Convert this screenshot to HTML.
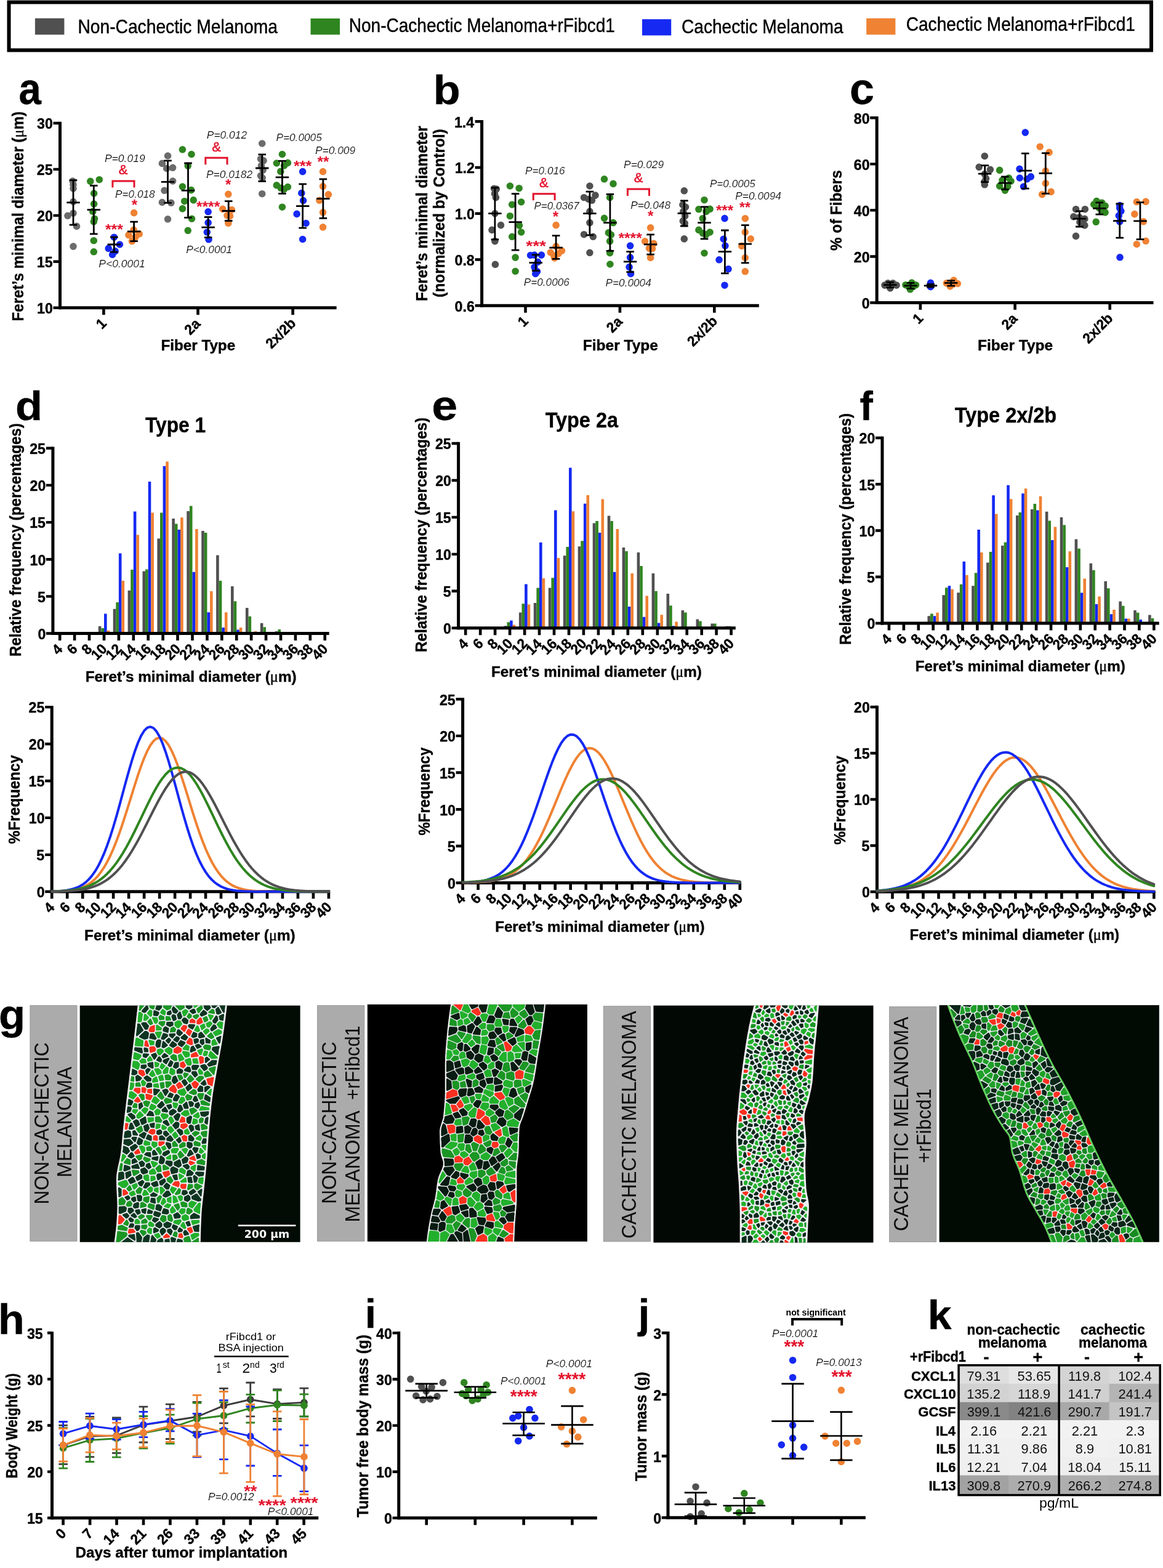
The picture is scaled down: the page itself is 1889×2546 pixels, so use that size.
<!DOCTYPE html>
<html lang="en">
<head>
<meta charset="utf-8">
<title>Figure: rFibcd1 in cachectic melanoma</title>
<style>
html,body{margin:0;padding:0;background:#fff;}
body{width:1889px;height:2546px;overflow:hidden;}
svg{display:block;font-family:"Liberation Sans",sans-serif;}
</style>
</head>
<body>
<svg width="1889" height="2546" viewBox="0 0 1889 2546" role="img" aria-label="Multi-panel figure: fiber diameter, frequency distributions, micrographs, body weight, tumor mass and cytokine table">
<rect width="1889" height="2546" fill="#fff"/>
<g id="legend">
<rect x="14.5" y="3.6" width="1855.5" height="77.9" fill="#fff" stroke="#000" stroke-width="6"/>
<rect x="56.9" y="29.7" width="47.5" height="26.6" fill="#505050"/>
<text transform="translate(126.4 53.9) scale(0.896 1)" font-size="31.5" stroke="#000" stroke-width="0.45">Non-Cachectic Melanoma</text>
<rect x="504.5" y="30" width="47.5" height="26.3" fill="#2f8520"/>
<text transform="translate(566.8 51.5) scale(0.890 1)" font-size="31.5" stroke="#000" stroke-width="0.45">Non-Cachectic Melanoma+rFibcd1</text>
<rect x="1043" y="31.2" width="47.2" height="26.3" fill="#1529f2"/>
<text transform="translate(1106.9 53.9) scale(0.894 1)" font-size="31.5" stroke="#000" stroke-width="0.45">Cachectic Melanoma</text>
<rect x="1407.2" y="29.7" width="47.2" height="26.6" fill="#ef8233"/>
<text transform="translate(1471.7 49.9) scale(0.892 1)" font-size="31.5" stroke="#000" stroke-width="0.45">Cachectic Melanoma+rFibcd1</text>
</g>
<g id="panel-a">
<path d="M118.1 294h0M119 299.9h0M119 306.2h0M119 327.5h0M119 346.2h0M109.9 350.3h0M124.5 367.4h0M119 400.1h0" stroke="#6b6b6b" stroke-width="11.6" stroke-linecap="round" fill="none"/>
<path d="M146.8 294.4h0M161.3 291.7h0M152.6 314h0M152.6 331.1h0M150.8 343.4h0M153.5 355.2h0M152.3 359.8h0M152.3 390.7h0M152.3 408.8h0" stroke="#2f8520" stroke-width="11.6" stroke-linecap="round" fill="none"/>
<path d="M185.3 385.2h0M194.4 397h0M176.2 403.4h0M187.1 407.9h0M182.6 413.4h0" stroke="#1529f2" stroke-width="11.6" stroke-linecap="round" fill="none"/>
<path d="M217.6 345.6h0M217.1 373.4h0M208.9 381.6h0M226.2 379.8h0M214.4 391.6h0M219.8 385.2h0" stroke="#ef8233" stroke-width="11.6" stroke-linecap="round" fill="none"/>
<path d="M272.5 253h0M263.4 265.4h0M280.6 272.3h0M270.7 273.5h0M280.6 294h0M267 309.3h0M263.4 328.5h0M277.9 329.3h0M272.5 355.8h0" stroke="#6b6b6b" stroke-width="11.6" stroke-linecap="round" fill="none"/>
<path d="M296.4 242.8h0M311 250.5h0M305.2 269.3h0M296.4 303.1h0M310.6 308.6h0M299.7 326.7h0M314.2 324.9h0M296.4 338.9h0M311.5 355.2h0M305.2 374.3h0" stroke="#2f8520" stroke-width="11.6" stroke-linecap="round" fill="none"/>
<path d="M338.1 343.8h0M338.1 361.6h0M336.3 377h0M339 388.8h0" stroke="#1529f2" stroke-width="11.6" stroke-linecap="round" fill="none"/>
<path d="M370.8 315.3h0M361.7 339.4h0M376.3 340.7h0M369 349.8h0M373.5 350.7h0M370.8 362.5h0" stroke="#ef8233" stroke-width="11.6" stroke-linecap="round" fill="none"/>
<path d="M425.7 233h0M423.5 258.1h0M428 260.8h0M424.4 269h0M427.1 276.2h0M423.5 285.3h0M426.2 289h0M425.7 314.7h0" stroke="#6b6b6b" stroke-width="11.6" stroke-linecap="round" fill="none"/>
<path d="M458.4 250.5h0M449.3 265h0M467.4 264.4h0M461.6 269h0M455.8 278.4h0M449.3 300.8h0M467.4 303.5h0M456.2 305.3h0M461.6 307.1h0M458.4 336.2h0" stroke="#2f8520" stroke-width="11.6" stroke-linecap="round" fill="none"/>
<path d="M491.6 278.6h0M489.8 313.5h0M492.5 325.6h0M482.1 347.4h0M497 362.5h0M491.6 388.5h0" stroke="#1529f2" stroke-width="11.6" stroke-linecap="round" fill="none"/>
<path d="M524.5 278.6h0M524.5 302.6h0M533.4 315.8h0M518.8 325.3h0M524.5 344.9h0M524.5 368.9h0" stroke="#ef8233" stroke-width="11.6" stroke-linecap="round" fill="none"/>
<path d="M119 292.6V365.2M112.7 292.6h12.6M112.7 365.2h12.6M108.3 328.9h21.4" stroke="#000" stroke-width="2.8" fill="none"/>
<path d="M152.3 301.3V379.8M146 301.3h12.6M146 379.8h12.6M141.6 340.7h21.4" stroke="#000" stroke-width="2.8" fill="none"/>
<path d="M185.3 385.2V409.2M179 385.2h12.6M179 409.2h12.6M174.6 397h21.4" stroke="#000" stroke-width="2.8" fill="none"/>
<path d="M217.6 360.1V391.7M211.3 360.1h12.6M211.3 391.7h12.6M206.9 375.8h21.4" stroke="#000" stroke-width="2.8" fill="none"/>
<path d="M272.5 260.8V329.3M266.2 260.8h12.6M266.2 329.3h12.6M261.8 295.3h21.4" stroke="#000" stroke-width="2.8" fill="none"/>
<path d="M305.5 265V353.4M299.2 265h12.6M299.2 353.4h12.6M294.8 309.3h21.4" stroke="#000" stroke-width="2.8" fill="none"/>
<path d="M338.1 352.5V385.6M331.8 352.5h12.6M331.8 385.6h12.6M327.4 369.2h21.4" stroke="#000" stroke-width="2.8" fill="none"/>
<path d="M371.2 326.7V358.5M364.9 326.7h12.6M364.9 358.5h12.6M360.5 342.5h21.4" stroke="#000" stroke-width="2.8" fill="none"/>
<path d="M425.7 250.8V294.4M419.4 250.8h12.6M419.4 294.4h12.6M415 273h21.4" stroke="#000" stroke-width="2.8" fill="none"/>
<path d="M458.4 261.4V314.4M452.1 261.4h12.6M452.1 314.4h12.6M447.7 287.9h21.4" stroke="#000" stroke-width="2.8" fill="none"/>
<path d="M491.6 298.9V370.1M485.3 298.9h12.6M485.3 370.1h12.6M480.9 334.7h21.4" stroke="#000" stroke-width="2.8" fill="none"/>
<path d="M524.8 290.8V354.3M518.5 290.8h12.6M518.5 354.3h12.6M514.1 322.7h21.4" stroke="#000" stroke-width="2.8" fill="none"/>
<text transform="translate(169.9 262.6) scale(1.031 1)" font-size="17" font-style="italic" stroke="#fff" stroke-width="0.22">P=0.019</text>
<text transform="translate(192.7 282.7)" font-size="22" fill="#e3132c" stroke="#e3132c" stroke-width="0.5">&amp;</text>
<path d="M182.9 304.4V294H218V304.4" stroke="#e3132c" stroke-width="3" fill="none"/>
<text transform="translate(187.1 321.3) scale(1.012 1)" font-size="17" font-style="italic" stroke="#fff" stroke-width="0.22">P=0.018</text>
<text transform="translate(213.7 341.4)" font-size="24" font-weight="bold" fill="#e3132c" stroke="none">*</text>
<text transform="translate(171 380.6) scale(1.031 1)" font-size="24" font-weight="bold" fill="#e3132c" stroke="none">***</text>
<text transform="translate(160.2 433.9) scale(1.032 1)" font-size="17" font-style="italic" stroke="#fff" stroke-width="0.22">P&lt;0.0001</text>
<text transform="translate(335.8 225.4) scale(1.024 1)" font-size="17" font-style="italic" stroke="#fff" stroke-width="0.22">P=0.012</text>
<text transform="translate(344.2 246.4)" font-size="22" fill="#e3132c" stroke="#e3132c" stroke-width="0.5">&amp;</text>
<path d="M333.8 267.2V256.3H369V267.2" stroke="#e3132c" stroke-width="3" fill="none"/>
<text transform="translate(334.9 289) scale(1.027 1)" font-size="17" font-style="italic" stroke="#fff" stroke-width="0.22">P=0.0182</text>
<text transform="translate(366.1 308.3)" font-size="24" font-weight="bold" fill="#e3132c" stroke="none">*</text>
<text transform="translate(318.9 343.8) scale(1.028 1)" font-size="24" font-weight="bold" fill="#e3132c" stroke="none">****</text>
<text transform="translate(302.2 411) scale(1.019 1)" font-size="17" font-style="italic" stroke="#fff" stroke-width="0.22">P&lt;0.0001</text>
<text transform="translate(448.4 228.7) scale(1.017 1)" font-size="17" font-style="italic" stroke="#fff" stroke-width="0.22">P=0.0005</text>
<text transform="translate(476.9 277.5) scale(1.044 1)" font-size="24" font-weight="bold" fill="#e3132c" stroke="none">***</text>
<text transform="translate(515.6 270.6)" font-size="24" font-weight="bold" fill="#e3132c" stroke="none">**</text>
<text transform="translate(511.9 249.9) scale(1.025 1)" font-size="17" font-style="italic" stroke="#fff" stroke-width="0.22">P=0.009</text>
<path d="M97.5 197.8V502.2" stroke="#000" stroke-width="5" fill="none"/>
<path d="M97.5 200H86.5M97.5 274.9H86.5M97.5 349.9H86.5M97.5 424.8H86.5M97.5 499.7H86.5" stroke="#000" stroke-width="4.4" fill="none"/>
<text transform="translate(60.1 209.3) scale(0.965 1)" font-size="24" font-weight="bold" stroke="#000" stroke-width="0.4">30</text>
<text transform="translate(59.8 284.2) scale(0.965 1)" font-size="24" font-weight="bold" stroke="#000" stroke-width="0.4">25</text>
<text transform="translate(60.1 359.2) scale(0.965 1)" font-size="24" font-weight="bold" stroke="#000" stroke-width="0.4">20</text>
<text transform="translate(59.8 434.1) scale(0.965 1)" font-size="24" font-weight="bold" stroke="#000" stroke-width="0.4">15</text>
<text transform="translate(60.1 509) scale(0.965 1)" font-size="24" font-weight="bold" stroke="#000" stroke-width="0.4">10</text>
<path d="M95.2 499.7H546.6" stroke="#000" stroke-width="5" fill="none"/>
<path d="M168.4 499.7V511.2M321.5 499.7V511.2M475.6 499.7V511.2" stroke="#000" stroke-width="4.6" fill="none"/>
<text transform="translate(173.9 527) rotate(-45) translate(-12 0) scale(0.965 1)" font-size="23.4" font-weight="bold" stroke="#000" stroke-width="0.4">1</text>
<text transform="translate(327 527) rotate(-45) translate(-25.3 0) scale(0.965 1)" font-size="23.4" font-weight="bold" stroke="#000" stroke-width="0.4">2a</text>
<text transform="translate(481.1 527) rotate(-45) translate(-56.8 0) scale(0.965 1)" font-size="23.4" font-weight="bold" stroke="#000" stroke-width="0.4">2x/2b</text>
<text transform="translate(261.4 569.3) scale(0.990 1)" font-size="24.5" font-weight="bold" stroke="#000" stroke-width="0.4">Fiber Type</text>
<text transform="translate(38 350.2) rotate(-90) translate(-171.3 0) scale(0.928 1)" font-size="26" font-weight="bold" stroke="#000" stroke-width="0.4">Feret’s minimal diameter (<tspan font-weight="normal" font-family="'Liberation Serif',serif">μ</tspan>m)</text>
<text transform="translate(30.6 169.4) scale(0.906 1)" font-size="72" font-weight="bold" stroke="#000" stroke-width="0.4">a</text>
</g>
<g id="panel-b">
<path d="M802.6 306.2h0M806.3 307.1h0M803.5 314.4h0M805.4 320.7h0M803.9 346.7h0M813.5 365.6h0M799 373.4h0M803.9 391.6h0" stroke="#505050" stroke-width="11.6" stroke-linecap="round" fill="none"/>
<path d="M804.4 429.4h0" stroke="#505050" stroke-width="11.6" stroke-linecap="round" fill="none"/>
<path d="M828.4 302h0M843.1 305.7h0M846.6 328h0M831.7 332.2h0M828.4 350.7h0M843.5 366.1h0M846.6 377h0M831.7 384.3h0" stroke="#2f8520" stroke-width="11.6" stroke-linecap="round" fill="none"/>
<path d="M837.1 418.1h0M837.1 440.5h0" stroke="#2f8520" stroke-width="11.6" stroke-linecap="round" fill="none"/>
<path d="M861.6 414.5h0M868 414.1h0M879.4 414.1h0M873.5 425.4h0M868 433.6h0M872.5 440.8h0M869.8 444.5h0" stroke="#1529f2" stroke-width="11.6" stroke-linecap="round" fill="none"/>
<path d="M903.1 365.6h0" stroke="#ef8233" stroke-width="11.6" stroke-linecap="round" fill="none"/>
<path d="M903.1 400h0M894.3 410h0M912.5 407.2h0M899.8 415.4h0M907 411.8h0M900.7 419h0" stroke="#ef8233" stroke-width="11.6" stroke-linecap="round" fill="none"/>
<path d="M957.9 302h0M948.5 320.7h0M967 317.1h0M956.1 323.5h0M961.5 325.3h0M957.9 343.4h0M957.9 361.6h0M948.5 380.7h0M963.3 384.3h0M957.9 410.3h0" stroke="#505050" stroke-width="11.6" stroke-linecap="round" fill="none"/>
<path d="M981.5 290.8h0M996 298.4h0M990.6 320.7h0M981.5 354.3h0M996 361.6h0M988.4 377.9h0M992.4 381.2h0M990.6 391.6h0M990.6 410.6h0" stroke="#2f8520" stroke-width="11.6" stroke-linecap="round" fill="none"/>
<path d="M990.9 429h0" stroke="#2f8520" stroke-width="11.6" stroke-linecap="round" fill="none"/>
<path d="M1023.6 399.1h0M1023.6 418.1h0M1022.1 433.6h0M1024.5 444.5h0" stroke="#1529f2" stroke-width="11.6" stroke-linecap="round" fill="none"/>
<path d="M1056.6 369.8h0" stroke="#ef8233" stroke-width="11.6" stroke-linecap="round" fill="none"/>
<path d="M1047.6 391.8h0M1061.7 395.4h0M1054.5 403.2h0M1059.5 403.6h0M1056.6 418.5h0" stroke="#ef8233" stroke-width="11.6" stroke-linecap="round" fill="none"/>
<path d="M1111.3 309.8h0M1108.9 332.5h0M1113.5 336.2h0M1109.8 343.4h0M1112.6 350.7h0M1109.3 358.9h0M1112.2 362.5h0M1111.3 387.9h0" stroke="#505050" stroke-width="11.6" stroke-linecap="round" fill="none"/>
<path d="M1144 324.7h0M1134.9 339.8h0M1153.1 339.4h0M1147.1 343.4h0M1141.3 354.7h0M1134.9 373.4h0M1153.1 377h0M1141.6 378.8h0M1147.1 380.7h0M1144 411h0" stroke="#2f8520" stroke-width="11.6" stroke-linecap="round" fill="none"/>
<path d="M1177 354.6h0M1175.2 388.2h0M1177.9 399.1h0M1168 421.8h0M1183 436.8h0M1177 463.2h0" stroke="#1529f2" stroke-width="11.6" stroke-linecap="round" fill="none"/>
<path d="M1210.3 354.7h0M1210.3 377h0M1219.3 387.9h0M1204.8 399.4h0" stroke="#ef8233" stroke-width="11.6" stroke-linecap="round" fill="none"/>
<path d="M1210.3 418.5h0M1210.3 440.8h0" stroke="#ef8233" stroke-width="11.6" stroke-linecap="round" fill="none"/>
<path d="M803.9 304.9V388.8M797.6 304.9h12.6M797.6 388.8h12.6M793.2 346.7h21.4" stroke="#000" stroke-width="2.8" fill="none"/>
<path d="M837.1 314.7V406.1M830.8 314.7h12.6M830.8 406.1h12.6M826.4 360.7h21.4" stroke="#000" stroke-width="2.8" fill="none"/>
<path d="M870.2 413.6V439.6M863.9 413.6h12.6M863.9 439.6h12.6M859.5 426.7h21.4" stroke="#000" stroke-width="2.8" fill="none"/>
<path d="M903.1 382.7V420.3M896.8 382.7h12.6M896.8 420.3h12.6M892.4 402.2h21.4" stroke="#000" stroke-width="2.8" fill="none"/>
<path d="M957.9 311.1V381.9M951.6 311.1h12.6M951.6 381.9h12.6M947.2 346.7h21.4" stroke="#000" stroke-width="2.8" fill="none"/>
<path d="M990.9 315.3V407.4M984.6 315.3h12.6M984.6 407.4h12.6M980.2 361.6h21.4" stroke="#000" stroke-width="2.8" fill="none"/>
<path d="M1023.6 408.7V441.7M1017.3 408.7h12.6M1017.3 441.7h12.6M1012.9 424.9h21.4" stroke="#000" stroke-width="2.8" fill="none"/>
<path d="M1056.6 380.9V413.1M1050.3 380.9h12.6M1050.3 413.1h12.6M1045.9 396.9h21.4" stroke="#000" stroke-width="2.8" fill="none"/>
<path d="M1111.3 325.8V367M1105 325.8h12.6M1105 367h12.6M1100.6 346.3h21.4" stroke="#000" stroke-width="2.8" fill="none"/>
<path d="M1144 335.8V387.9M1137.7 335.8h12.6M1137.7 387.9h12.6M1133.3 361.6h21.4" stroke="#000" stroke-width="2.8" fill="none"/>
<path d="M1177.4 374V443.9M1171.1 374h12.6M1171.1 443.9h12.6M1166.7 408.7h21.4" stroke="#000" stroke-width="2.8" fill="none"/>
<path d="M1210.3 365.6V426.9M1204 365.6h12.6M1204 426.9h12.6M1199.6 396.1h21.4" stroke="#000" stroke-width="2.8" fill="none"/>
<text transform="translate(853 282.6) scale(1.014 1)" font-size="17" font-style="italic" stroke="#fff" stroke-width="0.22">P=0.016</text>
<text transform="translate(875.9 303.6)" font-size="22" fill="#e3132c" stroke="#e3132c" stroke-width="0.5">&amp;</text>
<path d="M866.2 325.3V314.7H901.1V325.3" stroke="#e3132c" stroke-width="3" fill="none"/>
<text transform="translate(867.5 340.2)" font-size="17" font-style="italic" stroke="#fff" stroke-width="0.22">P=0.0367</text>
<text transform="translate(897.8 359.6)" font-size="24" font-weight="bold" fill="#e3132c" stroke="none">*</text>
<text transform="translate(854.2 407.9) scale(1.174 1)" font-size="24" font-weight="bold" fill="#e3132c" stroke="none">***</text>
<text transform="translate(850.8 463.9) scale(1.011 1)" font-size="17" font-style="italic" stroke="#fff" stroke-width="0.22">P=0.0006</text>
<text transform="translate(1013.1 273) scale(1.019 1)" font-size="17" font-style="italic" stroke="#fff" stroke-width="0.22">P=0.029</text>
<text transform="translate(1029.7 296.3)" font-size="22" fill="#e3132c" stroke="#e3132c" stroke-width="0.5">&amp;</text>
<path d="M1019.4 318V307.1H1054.5V318" stroke="#e3132c" stroke-width="3" fill="none"/>
<text transform="translate(1024.3 339.4) scale(1.015 1)" font-size="17" font-style="italic" stroke="#fff" stroke-width="0.22">P=0.048</text>
<text transform="translate(1052 359.2)" font-size="24" font-weight="bold" fill="#e3132c" stroke="none">*</text>
<text transform="translate(1004.4 394.6) scale(1.028 1)" font-size="24" font-weight="bold" fill="#e3132c" stroke="none">****</text>
<text transform="translate(983.5 465.4) scale(1.014 1)" font-size="17" font-style="italic" stroke="#fff" stroke-width="0.22">P=0.0004</text>
<text transform="translate(1152.9 304.4) scale(1.010 1)" font-size="17" font-style="italic" stroke="#fff" stroke-width="0.22">P=0.0005</text>
<text transform="translate(1162.9 349.7) scale(1.005 1)" font-size="24" font-weight="bold" fill="#e3132c" stroke="none">***</text>
<text transform="translate(1201.1 345) scale(0.953 1)" font-size="24" font-weight="bold" fill="#e3132c" stroke="none">**</text>
<text transform="translate(1194.3 323.5) scale(1.019 1)" font-size="17" font-style="italic" stroke="#fff" stroke-width="0.22">P=0.0094</text>
<path d="M782.6 195.1V498.7" stroke="#000" stroke-width="5" fill="none"/>
<path d="M782.6 197.3H771.6M782.6 272H771.6M782.6 346.7H771.6M782.6 421.5H771.6M782.6 496.2H771.6" stroke="#000" stroke-width="4.4" fill="none"/>
<text transform="translate(737.9 206.6) scale(0.965 1)" font-size="24" font-weight="bold" stroke="#000" stroke-width="0.4">1.4</text>
<text transform="translate(738.7 281.3) scale(0.965 1)" font-size="24" font-weight="bold" stroke="#000" stroke-width="0.4">1.2</text>
<text transform="translate(738.7 356) scale(0.965 1)" font-size="24" font-weight="bold" stroke="#000" stroke-width="0.4">1.0</text>
<text transform="translate(738.5 430.8) scale(0.965 1)" font-size="24" font-weight="bold" stroke="#000" stroke-width="0.4">0.8</text>
<text transform="translate(738.6 505.5) scale(0.965 1)" font-size="24" font-weight="bold" stroke="#000" stroke-width="0.4">0.6</text>
<path d="M780.3 496.2H1232.8" stroke="#000" stroke-width="5" fill="none"/>
<path d="M853.5 496.2V507.7M1006.9 496.2V507.7M1160.3 496.2V507.7" stroke="#000" stroke-width="4.6" fill="none"/>
<text transform="translate(859 523.5) rotate(-45) translate(-12 0) scale(0.965 1)" font-size="23.4" font-weight="bold" stroke="#000" stroke-width="0.4">1</text>
<text transform="translate(1012.4 523.5) rotate(-45) translate(-25.3 0) scale(0.965 1)" font-size="23.4" font-weight="bold" stroke="#000" stroke-width="0.4">2a</text>
<text transform="translate(1165.8 523.5) rotate(-45) translate(-56.8 0) scale(0.965 1)" font-size="23.4" font-weight="bold" stroke="#000" stroke-width="0.4">2x/2b</text>
<text transform="translate(946.8 568.9)" font-size="24.5" font-weight="bold" stroke="#000" stroke-width="0.4">Fiber Type</text>
<text transform="translate(694.2 346) rotate(-90) translate(-143.1 0) scale(0.933 1)" font-size="26" font-weight="bold" stroke="#000" stroke-width="0.4">Feret’s minimal diameter</text>
<text transform="translate(722 346) rotate(-90) translate(-136.7 0) scale(0.937 1)" font-size="26" font-weight="bold" stroke="#000" stroke-width="0.4">(normalized by Control)</text>
<text transform="translate(703.7 168.8) scale(1.065 1)" font-size="67.5" font-weight="bold" stroke="#000" stroke-width="0.4">b</text>
</g>
<g id="panel-c">
<path d="M1442.2 459.8h0M1450.3 459.8h0M1445.9 467.9h0M1456.2 463.1h0M1437 463.1h0M1446.6 463.5h0" stroke="#505050" stroke-width="11.6" stroke-linecap="round" fill="none"/>
<path d="M1471 462.7h0M1480.9 459.1h0M1487.5 462.7h0M1478.3 469.8h0M1475.4 465h0M1482.8 465.7h0" stroke="#2f8520" stroke-width="11.6" stroke-linecap="round" fill="none"/>
<path d="M1511.5 459.4h0M1511.5 465.7h0M1512.2 463.1h0" stroke="#1529f2" stroke-width="11.6" stroke-linecap="round" fill="none"/>
<path d="M1537.3 459.8h0M1549.1 455h0M1555.4 460.5h0M1543.2 465h0M1548.4 461.3h0" stroke="#ef8233" stroke-width="11.6" stroke-linecap="round" fill="none"/>
<path d="M1599.3 253.5h0M1590.2 271.3h0M1608.4 275.3h0M1599.3 282.6h0M1601.5 289.9h0M1598.8 295.3h0M1599.3 299.8h0" stroke="#505050" stroke-width="11.6" stroke-linecap="round" fill="none"/>
<path d="M1623.6 276.4h0M1638.5 289h0M1628 292.5h0M1642 294.2h0M1623.6 302.1h0M1636.7 303h0M1632.4 309.1h0" stroke="#2f8520" stroke-width="11.6" stroke-linecap="round" fill="none"/>
<path d="M1665.3 215.1h0M1656 274.4h0M1656.3 289h0M1674.3 286.9h0M1668.2 290.7h0M1662.5 303h0" stroke="#1529f2" stroke-width="11.6" stroke-linecap="round" fill="none"/>
<path d="M1689.2 238.2h0M1704.1 247.3h0M1698.3 277.6h0M1698.3 297.7h0M1707.1 311.4h0M1692.7 315.7h0" stroke="#ef8233" stroke-width="11.6" stroke-linecap="round" fill="none"/>
<path d="M1747.5 339.7h0M1762.3 339.7h0M1743.8 351.9h0M1753.1 352.8h0M1761.8 355.4h0M1753.9 360.7h0M1761.8 365.9h0M1747.5 383.4h0" stroke="#505050" stroke-width="11.6" stroke-linecap="round" fill="none"/>
<path d="M1781.1 326.6h0M1789.8 329.2h0M1776.7 331.8h0M1795.1 334.4h0M1785.4 337.9h0M1795.1 344.9h0M1780.2 360.3h0M1790.7 342.3h0" stroke="#2f8520" stroke-width="11.6" stroke-linecap="round" fill="none"/>
<path d="M1818.7 333.6h0M1820.8 342.8h0M1817.3 350.2h0M1818.7 359.8h0M1818.7 337.9h0" stroke="#1529f2" stroke-width="11.6" stroke-linecap="round" fill="none"/>
<path d="M1819 417.8h0" stroke="#1529f2" stroke-width="11.6" stroke-linecap="round" fill="none"/>
<path d="M1846.3 327.8h0M1861 327.4h0M1842.8 347.6h0M1857.2 359.8h0M1861 391.3h0M1846.3 396.5h0" stroke="#ef8233" stroke-width="11.6" stroke-linecap="round" fill="none"/>
<path d="M1445.9 458.3V466.8M1439.6 458.3h12.6M1439.6 466.8h12.6M1435.2 462.7h21.4" stroke="#000" stroke-width="2.8" fill="none"/>
<path d="M1479.1 459.4V468.6M1472.8 459.4h12.6M1472.8 468.6h12.6M1468.4 463.9h21.4" stroke="#000" stroke-width="2.8" fill="none"/>
<path d="M1511.5 461.3V466.1M1505.2 461.3h12.6M1505.2 466.1h12.6M1500.8 463.9h21.4" stroke="#000" stroke-width="2.8" fill="none"/>
<path d="M1544.7 455.7V464.2M1538.4 455.7h12.6M1538.4 464.2h12.6M1534 459.4h21.4" stroke="#000" stroke-width="2.8" fill="none"/>
<path d="M1599.7 268.6V295.7M1593.4 268.6h12.6M1593.4 295.7h12.6M1589 282.2h21.4" stroke="#000" stroke-width="2.8" fill="none"/>
<path d="M1632.4 286.9V307.7M1626.1 286.9h12.6M1626.1 307.7h12.6M1621.7 297.2h21.4" stroke="#000" stroke-width="2.8" fill="none"/>
<path d="M1665.3 249.1V306.1M1659 249.1h12.6M1659 306.1h12.6M1654.6 277.2h21.4" stroke="#000" stroke-width="2.8" fill="none"/>
<path d="M1698.3 248.7V314.3M1692 248.7h12.6M1692 314.3h12.6M1687.6 281.3h21.4" stroke="#000" stroke-width="2.8" fill="none"/>
<path d="M1753.4 342.8V368M1747.1 342.8h12.6M1747.1 368h12.6M1742.7 355.1h21.4" stroke="#000" stroke-width="2.8" fill="none"/>
<path d="M1785.8 328.8V348.1M1779.5 328.8h12.6M1779.5 348.1h12.6M1775.1 338.3h21.4" stroke="#000" stroke-width="2.8" fill="none"/>
<path d="M1818.7 330.9V386.1M1812.4 330.9h12.6M1812.4 386.1h12.6M1808 358.6h21.4" stroke="#000" stroke-width="2.8" fill="none"/>
<path d="M1851.9 328.7V388.7M1845.6 328.7h12.6M1845.6 388.7h12.6M1841.2 358.8h21.4" stroke="#000" stroke-width="2.8" fill="none"/>
<path d="M1424.2 189.1V494" stroke="#000" stroke-width="5" fill="none"/>
<path d="M1424.2 191.3H1413.2M1424.2 266.4H1413.2M1424.2 341.4H1413.2M1424.2 416.5H1413.2M1424.2 491.5H1413.2" stroke="#000" stroke-width="4.4" fill="none"/>
<text transform="translate(1386.8 200.6) scale(0.965 1)" font-size="24" font-weight="bold" stroke="#000" stroke-width="0.4">80</text>
<text transform="translate(1386.8 275.7) scale(0.965 1)" font-size="24" font-weight="bold" stroke="#000" stroke-width="0.4">60</text>
<text transform="translate(1386.8 350.7) scale(0.965 1)" font-size="24" font-weight="bold" stroke="#000" stroke-width="0.4">40</text>
<text transform="translate(1386.8 425.8) scale(0.965 1)" font-size="24" font-weight="bold" stroke="#000" stroke-width="0.4">20</text>
<text transform="translate(1399.7 500.8) scale(0.965 1)" font-size="24" font-weight="bold" stroke="#000" stroke-width="0.4">0</text>
<path d="M1421.9 491.5H1873.5" stroke="#000" stroke-width="5" fill="none"/>
<path d="M1494.9 491.5V503M1648.6 491.5V503M1802.7 491.5V503" stroke="#000" stroke-width="4.6" fill="none"/>
<text transform="translate(1500.4 518.8) rotate(-45) translate(-12 0) scale(0.965 1)" font-size="23.4" font-weight="bold" stroke="#000" stroke-width="0.4">1</text>
<text transform="translate(1654.1 518.8) rotate(-45) translate(-25.3 0) scale(0.965 1)" font-size="23.4" font-weight="bold" stroke="#000" stroke-width="0.4">2a</text>
<text transform="translate(1808.2 518.8) rotate(-45) translate(-56.8 0) scale(0.965 1)" font-size="23.4" font-weight="bold" stroke="#000" stroke-width="0.4">2x/2b</text>
<text transform="translate(1588.1 568.9)" font-size="24.5" font-weight="bold" stroke="#000" stroke-width="0.4">Fiber Type</text>
<text transform="translate(1367 341.8) rotate(-90) translate(-65.1 0) scale(0.932 1)" font-size="26" font-weight="bold" stroke="#000" stroke-width="0.4">% of Fibers</text>
<text transform="translate(1380.1 169.4)" font-size="72" font-weight="bold" stroke="#000" stroke-width="0.4">c</text>
</g>
<g id="panel-d">
<path d="M159.8 1028.5v-11.7h4.6v11.7zM183.7 1028.5v-39.7h4.6v39.7zM207.6 1028.5v-69.8h4.6v69.8zM231.5 1028.5v-101h4.6v101zM255.4 1028.5v-154h4.6v154zM279.3 1028.5v-186.4h4.6v186.4zM303.3 1028.5v-198.5h4.6v198.5zM327.2 1028.5v-166.6h4.6v166.6zM351.1 1028.5v-126.9h4.6v126.9zM375 1028.5v-76.4h4.6v76.4zM398.9 1028.5v-41.5h4.6v41.5zM422.8 1028.5v-16.8h4.6v16.8zM446.8 1028.5v-3.6h4.6v3.6z" fill="#505050"/>
<path d="M164.4 1028.5v-8.4h4.6v8.4zM188.3 1028.5v-50.5h4.6v50.5zM212.2 1028.5v-103.4h4.6v103.4zM236.1 1028.5v-104h4.6v104zM260 1028.5v-196.1h4.6v196.1zM283.9 1028.5v-178h4.6v178zM307.9 1028.5v-206.9h4.6v206.9zM331.8 1028.5v-163.6h4.6v163.6zM355.7 1028.5v-85.4h4.6v85.4zM379.6 1028.5v-52.3h4.6v52.3zM403.5 1028.5v-27.7h4.6v27.7zM427.4 1028.5v-10.2h4.6v10.2zM451.4 1028.5v-6.6h4.6v6.6z" fill="#2f8520"/>
<path d="M169 1028.5v-31.9h4.6v31.9zM192.9 1028.5v-129.9h4.6v129.9zM216.8 1028.5v-197.9h4.6v197.9zM240.7 1028.5v-246.6h4.6v246.6zM264.6 1028.5v-271.8h4.6v271.8zM288.5 1028.5v-168.4h4.6v168.4zM312.5 1028.5v-99.8h4.6v99.8zM336.4 1028.5v-34.3h4.6v34.3zM360.3 1028.5v-9.6h4.6v9.6zM384.2 1028.5v-6h4.6v6z" fill="#1529f2"/>
<path d="M173.6 1028.5v-4.8h4.6v4.8zM197.5 1028.5v-85.4h4.6v85.4zM221.4 1028.5v-160h4.6v160zM245.3 1028.5v-196.1h4.6v196.1zM269.2 1028.5v-279h4.6v279zM293.1 1028.5v-188.2h4.6v188.2zM317.1 1028.5v-169.6h4.6v169.6zM341 1028.5v-68.6h4.6v68.6zM364.9 1028.5v-34.3h4.6v34.3zM388.8 1028.5v-9.6h4.6v9.6zM412.7 1028.5v-3.6h4.6v3.6z" fill="#ef8233"/>
<path d="M85.9 725.6V1031" stroke="#000" stroke-width="5" fill="none"/>
<path d="M85.9 727.8H74.9M85.9 787.9H74.9M85.9 848.1H74.9M85.9 908.2H74.9M85.9 968.4H74.9M85.9 1028.5H74.9" stroke="#000" stroke-width="4.4" fill="none"/>
<text transform="translate(48.2 737.1) scale(0.965 1)" font-size="24" font-weight="bold" stroke="#000" stroke-width="0.4">25</text>
<text transform="translate(48.5 797.2) scale(0.965 1)" font-size="24" font-weight="bold" stroke="#000" stroke-width="0.4">20</text>
<text transform="translate(48.2 857.4) scale(0.965 1)" font-size="24" font-weight="bold" stroke="#000" stroke-width="0.4">15</text>
<text transform="translate(48.5 917.5) scale(0.965 1)" font-size="24" font-weight="bold" stroke="#000" stroke-width="0.4">10</text>
<text transform="translate(61 977.7) scale(0.965 1)" font-size="24" font-weight="bold" stroke="#000" stroke-width="0.4">5</text>
<text transform="translate(61.4 1037.8) scale(0.965 1)" font-size="24" font-weight="bold" stroke="#000" stroke-width="0.4">0</text>
<path d="M83.4 1028.5H534.6" stroke="#000" stroke-width="5" fill="none"/>
<path d="M97.2 1028.5V1040M121.1 1028.5V1040M145 1028.5V1040M169 1028.5V1040M192.9 1028.5V1040M216.8 1028.5V1040M240.7 1028.5V1040M264.6 1028.5V1040M288.5 1028.5V1040M312.5 1028.5V1040M336.4 1028.5V1040M360.3 1028.5V1040M384.2 1028.5V1040M408.1 1028.5V1040M432 1028.5V1040M456 1028.5V1040M479.9 1028.5V1040M503.8 1028.5V1040M527.7 1028.5V1040" stroke="#000" stroke-width="4.6" fill="none"/>
<text transform="translate(102.7 1055.8) rotate(-45) translate(-12.4 0) scale(0.965 1)" font-size="23.4" font-weight="bold" stroke="#000" stroke-width="0.4">4</text>
<text transform="translate(126.6 1055.8) rotate(-45) translate(-11.7 0) scale(0.965 1)" font-size="23.4" font-weight="bold" stroke="#000" stroke-width="0.4">6</text>
<text transform="translate(150.5 1055.8) rotate(-45) translate(-11.9 0) scale(0.965 1)" font-size="23.4" font-weight="bold" stroke="#000" stroke-width="0.4">8</text>
<text transform="translate(174.5 1055.8) rotate(-45) translate(-24.2 0) scale(0.965 1)" font-size="23.4" font-weight="bold" stroke="#000" stroke-width="0.4">10</text>
<text transform="translate(198.4 1055.8) rotate(-45) translate(-24.2 0) scale(0.965 1)" font-size="23.4" font-weight="bold" stroke="#000" stroke-width="0.4">12</text>
<text transform="translate(222.3 1055.8) rotate(-45) translate(-25 0) scale(0.965 1)" font-size="23.4" font-weight="bold" stroke="#000" stroke-width="0.4">14</text>
<text transform="translate(246.2 1055.8) rotate(-45) translate(-24.3 0) scale(0.965 1)" font-size="23.4" font-weight="bold" stroke="#000" stroke-width="0.4">16</text>
<text transform="translate(270.1 1055.8) rotate(-45) translate(-24.4 0) scale(0.965 1)" font-size="23.4" font-weight="bold" stroke="#000" stroke-width="0.4">18</text>
<text transform="translate(294 1055.8) rotate(-45) translate(-24.2 0) scale(0.965 1)" font-size="23.4" font-weight="bold" stroke="#000" stroke-width="0.4">20</text>
<text transform="translate(318 1055.8) rotate(-45) translate(-24.2 0) scale(0.965 1)" font-size="23.4" font-weight="bold" stroke="#000" stroke-width="0.4">22</text>
<text transform="translate(341.9 1055.8) rotate(-45) translate(-25 0) scale(0.965 1)" font-size="23.4" font-weight="bold" stroke="#000" stroke-width="0.4">24</text>
<text transform="translate(365.8 1055.8) rotate(-45) translate(-24.3 0) scale(0.965 1)" font-size="23.4" font-weight="bold" stroke="#000" stroke-width="0.4">26</text>
<text transform="translate(389.7 1055.8) rotate(-45) translate(-24.4 0) scale(0.965 1)" font-size="23.4" font-weight="bold" stroke="#000" stroke-width="0.4">28</text>
<text transform="translate(413.6 1055.8) rotate(-45) translate(-24.2 0) scale(0.965 1)" font-size="23.4" font-weight="bold" stroke="#000" stroke-width="0.4">30</text>
<text transform="translate(437.5 1055.8) rotate(-45) translate(-24.2 0) scale(0.965 1)" font-size="23.4" font-weight="bold" stroke="#000" stroke-width="0.4">32</text>
<text transform="translate(461.5 1055.8) rotate(-45) translate(-25 0) scale(0.965 1)" font-size="23.4" font-weight="bold" stroke="#000" stroke-width="0.4">34</text>
<text transform="translate(485.4 1055.8) rotate(-45) translate(-24.3 0) scale(0.965 1)" font-size="23.4" font-weight="bold" stroke="#000" stroke-width="0.4">36</text>
<text transform="translate(509.3 1055.8) rotate(-45) translate(-24.4 0) scale(0.965 1)" font-size="23.4" font-weight="bold" stroke="#000" stroke-width="0.4">38</text>
<text transform="translate(533.2 1055.8) rotate(-45) translate(-24.2 0) scale(0.965 1)" font-size="23.4" font-weight="bold" stroke="#000" stroke-width="0.4">40</text>
<text transform="translate(236 702.1) scale(0.920 1)" font-size="34.5" font-weight="bold" stroke="#000" stroke-width="0.4">Type 1</text>
<text transform="translate(138.7 1107) scale(0.992 1)" font-size="24.5" font-weight="bold" stroke="#000" stroke-width="0.4">Feret’s minimal diameter (<tspan font-weight="normal" font-family="'Liberation Serif',serif">μ</tspan>m)</text>
<text transform="translate(34.3 876.2) rotate(-90) translate(-189.8 0) scale(0.927 1)" font-size="26" font-weight="bold" stroke="#000" stroke-width="0.4">Relative frequency (percentages)</text>
<text transform="translate(24.9 682) scale(1.068 1)" font-size="67.5" font-weight="bold" stroke="#000" stroke-width="0.4">d</text>
</g>
<g id="panel-e">
<path d="M818.9 1019.8v-3.6h4.6v3.6zM842.9 1019.8v-25.2h4.6v25.2zM866.8 1019.8v-40.8h4.6v40.8zM890.8 1019.8v-65.4h4.6v65.4zM914.8 1019.8v-117.5h4.6v117.5zM938.7 1019.8v-132.5h4.6v132.5zM962.7 1019.8v-170.3h4.6v170.3zM986.7 1019.8v-182.3h4.6v182.3zM1010.6 1019.8v-130.7h4.6v130.7zM1034.6 1019.8v-122.9h4.6v122.9zM1058.6 1019.8v-88.7h4.6v88.7zM1082.5 1019.8v-55.8h4.6v55.8zM1106.5 1019.8v-28.8h4.6v28.8zM1130.5 1019.8v-14.4h4.6v14.4zM1154.4 1019.8v-7.2h4.6v7.2zM1178.4 1019.8v-3h4.6v3z" fill="#505050"/>
<path d="M823.5 1019.8v-9.6h4.6v9.6zM847.5 1019.8v-39.6h4.6v39.6zM871.4 1019.8v-65.4h4.6v65.4zM895.4 1019.8v-81.5h4.6v81.5zM919.4 1019.8v-131.9h4.6v131.9zM943.3 1019.8v-141.5h4.6v141.5zM967.3 1019.8v-173.9h4.6v173.9zM991.3 1019.8v-173.9h4.6v173.9zM1015.2 1019.8v-124.7h4.6v124.7zM1039.2 1019.8v-100.7h4.6v100.7zM1063.2 1019.8v-60h4.6v60zM1087.1 1019.8v-36.6h4.6v36.6zM1111.1 1019.8v-25.2h4.6v25.2zM1135.1 1019.8v-11.4h4.6v11.4zM1159 1019.8v-7.2h4.6v7.2zM1183 1019.8v-3h4.6v3z" fill="#2f8520"/>
<path d="M828.1 1019.8v-12.4h4.6v12.4zM852.1 1019.8v-71.4h4.6v71.4zM876 1019.8v-139.1h4.6v139.1zM900 1019.8v-191.3h4.6v191.3zM924 1019.8v-260.2h4.6v260.2zM947.9 1019.8v-202.1h4.6v202.1zM971.9 1019.8v-154.7h4.6v154.7zM995.9 1019.8v-91.1h4.6v91.1zM1019.8 1019.8v-34.8h4.6v34.8zM1043.8 1019.8v-18h4.6v18zM1067.8 1019.8v-8.4h4.6v8.4zM1091.7 1019.8v-3.6h4.6v3.6z" fill="#1529f2"/>
<path d="M832.7 1019.8v-5.4h4.6v5.4zM856.7 1019.8v-38.4h4.6v38.4zM880.6 1019.8v-80.9h4.6v80.9zM904.6 1019.8v-113.9h4.6v113.9zM928.6 1019.8v-189.5h4.6v189.5zM952.5 1019.8v-215.9h4.6v215.9zM976.5 1019.8v-209.3h4.6v209.3zM1000.5 1019.8v-160.7h4.6v160.7zM1024.4 1019.8v-88.7h4.6v88.7zM1048.4 1019.8v-52.2h4.6v52.2zM1072.4 1019.8v-21.6h4.6v21.6zM1096.3 1019.8v-10.2h4.6v10.2z" fill="#ef8233"/>
<path d="M744.6 717.8V1022.3" stroke="#000" stroke-width="5" fill="none"/>
<path d="M744.6 720H733.6M744.6 780H733.6M744.6 839.9H733.6M744.6 899.9H733.6M744.6 959.8H733.6M744.6 1019.8H733.6" stroke="#000" stroke-width="4.4" fill="none"/>
<text transform="translate(706.9 729.3) scale(0.965 1)" font-size="24" font-weight="bold" stroke="#000" stroke-width="0.4">25</text>
<text transform="translate(707.2 789.3) scale(0.965 1)" font-size="24" font-weight="bold" stroke="#000" stroke-width="0.4">20</text>
<text transform="translate(706.9 849.2) scale(0.965 1)" font-size="24" font-weight="bold" stroke="#000" stroke-width="0.4">15</text>
<text transform="translate(707.2 909.2) scale(0.965 1)" font-size="24" font-weight="bold" stroke="#000" stroke-width="0.4">10</text>
<text transform="translate(719.7 969.1) scale(0.965 1)" font-size="24" font-weight="bold" stroke="#000" stroke-width="0.4">5</text>
<text transform="translate(720.1 1029.1) scale(0.965 1)" font-size="24" font-weight="bold" stroke="#000" stroke-width="0.4">0</text>
<path d="M742.1 1019.8H1194.8" stroke="#000" stroke-width="5" fill="none"/>
<path d="M756.2 1019.8V1031.3M780.2 1019.8V1031.3M804.1 1019.8V1031.3M828.1 1019.8V1031.3M852.1 1019.8V1031.3M876 1019.8V1031.3M900 1019.8V1031.3M924 1019.8V1031.3M947.9 1019.8V1031.3M971.9 1019.8V1031.3M995.9 1019.8V1031.3M1019.8 1019.8V1031.3M1043.8 1019.8V1031.3M1067.8 1019.8V1031.3M1091.7 1019.8V1031.3M1115.7 1019.8V1031.3M1139.7 1019.8V1031.3M1163.6 1019.8V1031.3M1187.6 1019.8V1031.3" stroke="#000" stroke-width="4.6" fill="none"/>
<text transform="translate(761.7 1047.1) rotate(-45) translate(-12.4 0) scale(0.965 1)" font-size="23.4" font-weight="bold" stroke="#000" stroke-width="0.4">4</text>
<text transform="translate(785.7 1047.1) rotate(-45) translate(-11.7 0) scale(0.965 1)" font-size="23.4" font-weight="bold" stroke="#000" stroke-width="0.4">6</text>
<text transform="translate(809.6 1047.1) rotate(-45) translate(-11.9 0) scale(0.965 1)" font-size="23.4" font-weight="bold" stroke="#000" stroke-width="0.4">8</text>
<text transform="translate(833.6 1047.1) rotate(-45) translate(-24.2 0) scale(0.965 1)" font-size="23.4" font-weight="bold" stroke="#000" stroke-width="0.4">10</text>
<text transform="translate(857.6 1047.1) rotate(-45) translate(-24.2 0) scale(0.965 1)" font-size="23.4" font-weight="bold" stroke="#000" stroke-width="0.4">12</text>
<text transform="translate(881.5 1047.1) rotate(-45) translate(-25 0) scale(0.965 1)" font-size="23.4" font-weight="bold" stroke="#000" stroke-width="0.4">14</text>
<text transform="translate(905.5 1047.1) rotate(-45) translate(-24.3 0) scale(0.965 1)" font-size="23.4" font-weight="bold" stroke="#000" stroke-width="0.4">16</text>
<text transform="translate(929.5 1047.1) rotate(-45) translate(-24.4 0) scale(0.965 1)" font-size="23.4" font-weight="bold" stroke="#000" stroke-width="0.4">18</text>
<text transform="translate(953.4 1047.1) rotate(-45) translate(-24.2 0) scale(0.965 1)" font-size="23.4" font-weight="bold" stroke="#000" stroke-width="0.4">20</text>
<text transform="translate(977.4 1047.1) rotate(-45) translate(-24.2 0) scale(0.965 1)" font-size="23.4" font-weight="bold" stroke="#000" stroke-width="0.4">22</text>
<text transform="translate(1001.4 1047.1) rotate(-45) translate(-25 0) scale(0.965 1)" font-size="23.4" font-weight="bold" stroke="#000" stroke-width="0.4">24</text>
<text transform="translate(1025.3 1047.1) rotate(-45) translate(-24.3 0) scale(0.965 1)" font-size="23.4" font-weight="bold" stroke="#000" stroke-width="0.4">26</text>
<text transform="translate(1049.3 1047.1) rotate(-45) translate(-24.4 0) scale(0.965 1)" font-size="23.4" font-weight="bold" stroke="#000" stroke-width="0.4">28</text>
<text transform="translate(1073.3 1047.1) rotate(-45) translate(-24.2 0) scale(0.965 1)" font-size="23.4" font-weight="bold" stroke="#000" stroke-width="0.4">30</text>
<text transform="translate(1097.2 1047.1) rotate(-45) translate(-24.2 0) scale(0.965 1)" font-size="23.4" font-weight="bold" stroke="#000" stroke-width="0.4">32</text>
<text transform="translate(1121.2 1047.1) rotate(-45) translate(-25 0) scale(0.965 1)" font-size="23.4" font-weight="bold" stroke="#000" stroke-width="0.4">34</text>
<text transform="translate(1145.2 1047.1) rotate(-45) translate(-24.3 0) scale(0.965 1)" font-size="23.4" font-weight="bold" stroke="#000" stroke-width="0.4">36</text>
<text transform="translate(1169.1 1047.1) rotate(-45) translate(-24.4 0) scale(0.965 1)" font-size="23.4" font-weight="bold" stroke="#000" stroke-width="0.4">38</text>
<text transform="translate(1193.1 1047.1) rotate(-45) translate(-24.2 0) scale(0.965 1)" font-size="23.4" font-weight="bold" stroke="#000" stroke-width="0.4">40</text>
<text transform="translate(885.7 693.6) scale(0.939 1)" font-size="34.5" font-weight="bold" stroke="#000" stroke-width="0.4">Type 2a</text>
<text transform="translate(798 1099.3) scale(0.989 1)" font-size="24.5" font-weight="bold" stroke="#000" stroke-width="0.4">Feret’s minimal diameter (<tspan font-weight="normal" font-family="'Liberation Serif',serif">μ</tspan>m)</text>
<text transform="translate(692.6 868.2) rotate(-90) translate(-190.8 0) scale(0.932 1)" font-size="26" font-weight="bold" stroke="#000" stroke-width="0.4">Relative frequency (percentages)</text>
<text transform="translate(701.3 682) scale(1.098 1)" font-size="68.5" font-weight="bold" stroke="#000" stroke-width="0.4">e</text>
</g>
<g id="panel-f">
<path d="M1506.5 1012v-11.7h4.6v11.7zM1530.4 1012v-45.8h4.6v45.8zM1554.3 1012v-49.7h4.6v49.7zM1578.2 1012v-60.8h4.6v60.8zM1602.1 1012v-98.4h4.6v98.4zM1626 1012v-126h4.6v126zM1650 1012v-175h4.6v175zM1673.9 1012v-185.1h4.6v185.1zM1697.8 1012v-181.2h4.6v181.2zM1721.7 1012v-172h4.6v172zM1745.6 1012v-136.4h4.6v136.4zM1769.5 1012v-97.2h4.6v97.2zM1793.4 1012v-68.2h4.6v68.2zM1817.3 1012v-35.4h4.6v35.4zM1841.2 1012v-21.1h4.6v21.1zM1865.1 1012v-13.5h4.6v13.5z" fill="#505050"/>
<path d="M1511.1 1012v-15.5h4.6v15.5zM1535 1012v-57.8h4.6v57.8zM1558.9 1012v-63.2h4.6v63.2zM1582.8 1012v-81.7h4.6v81.7zM1606.7 1012v-115.9h4.6v115.9zM1630.6 1012v-131.5h4.6v131.5zM1654.5 1012v-180.1h4.6v180.1zM1678.5 1012v-194.1h4.6v194.1zM1702.4 1012v-166.5h4.6v166.5zM1726.3 1012v-159.5h4.6v159.5zM1750.2 1012v-121.2h4.6v121.2zM1774.1 1012v-86.2h4.6v86.2zM1798 1012v-56.7h4.6v56.7zM1821.9 1012v-28.3h4.6v28.3zM1845.8 1012v-17.3h4.6v17.3zM1869.7 1012v-8.1h4.6v8.1z" fill="#2f8520"/>
<path d="M1515.7 1012v-11.7h4.6v11.7zM1539.6 1012v-60.8h4.6v60.8zM1563.5 1012v-100.2h4.6v100.2zM1587.4 1012v-152h4.6v152zM1611.3 1012v-207.7h4.6v207.7zM1635.2 1012v-224.2h4.6v224.2zM1659.2 1012v-210.7h4.6v210.7zM1683.1 1012v-183.6h4.6v183.6zM1707 1012v-135.1h4.6v135.1zM1730.9 1012v-91.1h4.6v91.1zM1754.8 1012v-49.4h4.6v49.4zM1778.7 1012v-31h4.6v31zM1802.6 1012v-14.7h4.6v14.7zM1826.5 1012v-7.5h4.6v7.5zM1850.4 1012v-6h4.6v6z" fill="#1529f2"/>
<path d="M1520.3 1012v-17.3h4.6v17.3zM1544.2 1012v-55.2h4.6v55.2zM1568.1 1012v-78.3h4.6v78.3zM1592 1012v-115h4.6v115zM1615.9 1012v-177.6h4.6v177.6zM1639.8 1012v-201.7h4.6v201.7zM1663.8 1012v-218.8h4.6v218.8zM1687.7 1012v-206.2h4.6v206.2zM1711.6 1012v-156.5h4.6v156.5zM1735.5 1012v-116.8h4.6v116.8zM1759.4 1012v-72.5h4.6v72.5zM1783.3 1012v-43.6h4.6v43.6zM1807.2 1012v-22.1h4.6v22.1zM1831.1 1012v-7.5h4.6v7.5z" fill="#ef8233"/>
<path d="M1433 708.8V1014.5" stroke="#000" stroke-width="5" fill="none"/>
<path d="M1433 711H1422M1433 786.2H1422M1433 861.5H1422M1433 936.8H1422M1433 1012H1422" stroke="#000" stroke-width="4.4" fill="none"/>
<text transform="translate(1395.6 720.3) scale(0.965 1)" font-size="24" font-weight="bold" stroke="#000" stroke-width="0.4">20</text>
<text transform="translate(1395.3 795.5) scale(0.965 1)" font-size="24" font-weight="bold" stroke="#000" stroke-width="0.4">15</text>
<text transform="translate(1395.6 870.8) scale(0.965 1)" font-size="24" font-weight="bold" stroke="#000" stroke-width="0.4">10</text>
<text transform="translate(1408.1 946) scale(0.965 1)" font-size="24" font-weight="bold" stroke="#000" stroke-width="0.4">5</text>
<text transform="translate(1408.5 1021.3) scale(0.965 1)" font-size="24" font-weight="bold" stroke="#000" stroke-width="0.4">0</text>
<path d="M1430.5 1012H1882.7" stroke="#000" stroke-width="5" fill="none"/>
<path d="M1444 1012V1023.5M1467.9 1012V1023.5M1491.8 1012V1023.5M1515.7 1012V1023.5M1539.6 1012V1023.5M1563.5 1012V1023.5M1587.4 1012V1023.5M1611.3 1012V1023.5M1635.2 1012V1023.5M1659.2 1012V1023.5M1683.1 1012V1023.5M1707 1012V1023.5M1730.9 1012V1023.5M1754.8 1012V1023.5M1778.7 1012V1023.5M1802.6 1012V1023.5M1826.5 1012V1023.5M1850.4 1012V1023.5M1874.3 1012V1023.5" stroke="#000" stroke-width="4.6" fill="none"/>
<text transform="translate(1449.5 1039.3) rotate(-45) translate(-12.4 0) scale(0.965 1)" font-size="23.4" font-weight="bold" stroke="#000" stroke-width="0.4">4</text>
<text transform="translate(1473.4 1039.3) rotate(-45) translate(-11.7 0) scale(0.965 1)" font-size="23.4" font-weight="bold" stroke="#000" stroke-width="0.4">6</text>
<text transform="translate(1497.3 1039.3) rotate(-45) translate(-11.9 0) scale(0.965 1)" font-size="23.4" font-weight="bold" stroke="#000" stroke-width="0.4">8</text>
<text transform="translate(1521.2 1039.3) rotate(-45) translate(-24.2 0) scale(0.965 1)" font-size="23.4" font-weight="bold" stroke="#000" stroke-width="0.4">10</text>
<text transform="translate(1545.1 1039.3) rotate(-45) translate(-24.2 0) scale(0.965 1)" font-size="23.4" font-weight="bold" stroke="#000" stroke-width="0.4">12</text>
<text transform="translate(1569 1039.3) rotate(-45) translate(-25 0) scale(0.965 1)" font-size="23.4" font-weight="bold" stroke="#000" stroke-width="0.4">14</text>
<text transform="translate(1592.9 1039.3) rotate(-45) translate(-24.3 0) scale(0.965 1)" font-size="23.4" font-weight="bold" stroke="#000" stroke-width="0.4">16</text>
<text transform="translate(1616.8 1039.3) rotate(-45) translate(-24.4 0) scale(0.965 1)" font-size="23.4" font-weight="bold" stroke="#000" stroke-width="0.4">18</text>
<text transform="translate(1640.7 1039.3) rotate(-45) translate(-24.2 0) scale(0.965 1)" font-size="23.4" font-weight="bold" stroke="#000" stroke-width="0.4">20</text>
<text transform="translate(1664.7 1039.3) rotate(-45) translate(-24.2 0) scale(0.965 1)" font-size="23.4" font-weight="bold" stroke="#000" stroke-width="0.4">22</text>
<text transform="translate(1688.6 1039.3) rotate(-45) translate(-25 0) scale(0.965 1)" font-size="23.4" font-weight="bold" stroke="#000" stroke-width="0.4">24</text>
<text transform="translate(1712.5 1039.3) rotate(-45) translate(-24.3 0) scale(0.965 1)" font-size="23.4" font-weight="bold" stroke="#000" stroke-width="0.4">26</text>
<text transform="translate(1736.4 1039.3) rotate(-45) translate(-24.4 0) scale(0.965 1)" font-size="23.4" font-weight="bold" stroke="#000" stroke-width="0.4">28</text>
<text transform="translate(1760.3 1039.3) rotate(-45) translate(-24.2 0) scale(0.965 1)" font-size="23.4" font-weight="bold" stroke="#000" stroke-width="0.4">30</text>
<text transform="translate(1784.2 1039.3) rotate(-45) translate(-24.2 0) scale(0.965 1)" font-size="23.4" font-weight="bold" stroke="#000" stroke-width="0.4">32</text>
<text transform="translate(1808.1 1039.3) rotate(-45) translate(-25 0) scale(0.965 1)" font-size="23.4" font-weight="bold" stroke="#000" stroke-width="0.4">34</text>
<text transform="translate(1832 1039.3) rotate(-45) translate(-24.3 0) scale(0.965 1)" font-size="23.4" font-weight="bold" stroke="#000" stroke-width="0.4">36</text>
<text transform="translate(1855.9 1039.3) rotate(-45) translate(-24.4 0) scale(0.965 1)" font-size="23.4" font-weight="bold" stroke="#000" stroke-width="0.4">38</text>
<text transform="translate(1879.8 1039.3) rotate(-45) translate(-24.2 0) scale(0.965 1)" font-size="23.4" font-weight="bold" stroke="#000" stroke-width="0.4">40</text>
<text transform="translate(1550.7 685.6) scale(0.942 1)" font-size="34.5" font-weight="bold" stroke="#000" stroke-width="0.4">Type 2x/2b</text>
<text transform="translate(1486.7 1090) scale(0.987 1)" font-size="24.5" font-weight="bold" stroke="#000" stroke-width="0.4">Feret’s minimal diameter (<tspan font-weight="normal" font-family="'Liberation Serif',serif">μ</tspan>m)</text>
<text transform="translate(1382.3 858.7) rotate(-90) translate(-188.4 0) scale(0.920 1)" font-size="26" font-weight="bold" stroke="#000" stroke-width="0.4">Relative frequency (percentages)</text>
<text transform="translate(1396.5 681.5) scale(0.949 1)" font-size="67.5" font-weight="bold" stroke="#000" stroke-width="0.4">f</text>
</g>
<g id="panel-d-fit">
<path d="M84.2 1145.9V1450.3" stroke="#000" stroke-width="5" fill="none"/>
<path d="M84.2 1148.1H73.2M84.2 1208H73.2M84.2 1268H73.2M84.2 1327.9H73.2M84.2 1387.9H73.2M84.2 1447.8H73.2" stroke="#000" stroke-width="4.4" fill="none"/>
<text transform="translate(46.5 1157.4) scale(0.965 1)" font-size="24" font-weight="bold" stroke="#000" stroke-width="0.4">25</text>
<text transform="translate(46.8 1217.3) scale(0.965 1)" font-size="24" font-weight="bold" stroke="#000" stroke-width="0.4">20</text>
<text transform="translate(46.5 1277.3) scale(0.965 1)" font-size="24" font-weight="bold" stroke="#000" stroke-width="0.4">15</text>
<text transform="translate(46.8 1337.2) scale(0.965 1)" font-size="24" font-weight="bold" stroke="#000" stroke-width="0.4">10</text>
<text transform="translate(59.3 1397.2) scale(0.965 1)" font-size="24" font-weight="bold" stroke="#000" stroke-width="0.4">5</text>
<text transform="translate(59.7 1457.1) scale(0.965 1)" font-size="24" font-weight="bold" stroke="#000" stroke-width="0.4">0</text>
<path d="M81.7 1447.8H536.2" stroke="#000" stroke-width="5" fill="none"/>
<path d="M84.2 1447.8V1459.3M109.2 1447.8V1459.3M134.2 1447.8V1459.3M159.2 1447.8V1459.3M184.1 1447.8V1459.3M209.1 1447.8V1459.3M234.1 1447.8V1459.3M259.1 1447.8V1459.3M284.1 1447.8V1459.3M309.1 1447.8V1459.3M334 1447.8V1459.3M359 1447.8V1459.3M384 1447.8V1459.3M409 1447.8V1459.3M434 1447.8V1459.3M458.9 1447.8V1459.3M483.9 1447.8V1459.3M508.9 1447.8V1459.3M533.9 1447.8V1459.3" stroke="#000" stroke-width="4.6" fill="none"/>
<text transform="translate(89.7 1475.1) rotate(-45) translate(-12.4 0) scale(0.965 1)" font-size="23.4" font-weight="bold" stroke="#000" stroke-width="0.4">4</text>
<text transform="translate(114.7 1475.1) rotate(-45) translate(-11.7 0) scale(0.965 1)" font-size="23.4" font-weight="bold" stroke="#000" stroke-width="0.4">6</text>
<text transform="translate(139.7 1475.1) rotate(-45) translate(-11.9 0) scale(0.965 1)" font-size="23.4" font-weight="bold" stroke="#000" stroke-width="0.4">8</text>
<text transform="translate(164.7 1475.1) rotate(-45) translate(-24.2 0) scale(0.965 1)" font-size="23.4" font-weight="bold" stroke="#000" stroke-width="0.4">10</text>
<text transform="translate(189.6 1475.1) rotate(-45) translate(-24.2 0) scale(0.965 1)" font-size="23.4" font-weight="bold" stroke="#000" stroke-width="0.4">12</text>
<text transform="translate(214.6 1475.1) rotate(-45) translate(-25 0) scale(0.965 1)" font-size="23.4" font-weight="bold" stroke="#000" stroke-width="0.4">14</text>
<text transform="translate(239.6 1475.1) rotate(-45) translate(-24.3 0) scale(0.965 1)" font-size="23.4" font-weight="bold" stroke="#000" stroke-width="0.4">16</text>
<text transform="translate(264.6 1475.1) rotate(-45) translate(-24.4 0) scale(0.965 1)" font-size="23.4" font-weight="bold" stroke="#000" stroke-width="0.4">18</text>
<text transform="translate(289.6 1475.1) rotate(-45) translate(-24.2 0) scale(0.965 1)" font-size="23.4" font-weight="bold" stroke="#000" stroke-width="0.4">20</text>
<text transform="translate(314.6 1475.1) rotate(-45) translate(-24.2 0) scale(0.965 1)" font-size="23.4" font-weight="bold" stroke="#000" stroke-width="0.4">22</text>
<text transform="translate(339.5 1475.1) rotate(-45) translate(-25 0) scale(0.965 1)" font-size="23.4" font-weight="bold" stroke="#000" stroke-width="0.4">24</text>
<text transform="translate(364.5 1475.1) rotate(-45) translate(-24.3 0) scale(0.965 1)" font-size="23.4" font-weight="bold" stroke="#000" stroke-width="0.4">26</text>
<text transform="translate(389.5 1475.1) rotate(-45) translate(-24.4 0) scale(0.965 1)" font-size="23.4" font-weight="bold" stroke="#000" stroke-width="0.4">28</text>
<text transform="translate(414.5 1475.1) rotate(-45) translate(-24.2 0) scale(0.965 1)" font-size="23.4" font-weight="bold" stroke="#000" stroke-width="0.4">30</text>
<text transform="translate(439.5 1475.1) rotate(-45) translate(-24.2 0) scale(0.965 1)" font-size="23.4" font-weight="bold" stroke="#000" stroke-width="0.4">32</text>
<text transform="translate(464.4 1475.1) rotate(-45) translate(-25 0) scale(0.965 1)" font-size="23.4" font-weight="bold" stroke="#000" stroke-width="0.4">34</text>
<text transform="translate(489.4 1475.1) rotate(-45) translate(-24.3 0) scale(0.965 1)" font-size="23.4" font-weight="bold" stroke="#000" stroke-width="0.4">36</text>
<text transform="translate(514.4 1475.1) rotate(-45) translate(-24.4 0) scale(0.965 1)" font-size="23.4" font-weight="bold" stroke="#000" stroke-width="0.4">38</text>
<text transform="translate(539.4 1475.1) rotate(-45) translate(-24.2 0) scale(0.965 1)" font-size="23.4" font-weight="bold" stroke="#000" stroke-width="0.4">40</text>
<path d="M84.2 1447.6L89.2 1447.5L94.2 1447.3L99.2 1447.1L104.2 1446.7L109.2 1446.3L114.2 1445.7L119.2 1444.9L124.2 1443.8L129.2 1442.5L134.2 1440.7L139.2 1438.4L144.2 1435.5L149.2 1431.9L154.2 1427.5L159.2 1422.1L164.1 1415.7L169.1 1408.2L174.1 1399.5L179.1 1389.5L184.1 1378.3L189.1 1365.8L194.1 1352.2L199.1 1337.6L204.1 1322.2L209.1 1306.3L214.1 1290.1L219.1 1274.1L224.1 1258.7L229.1 1244.1L234.1 1231L239.1 1219.6L244.1 1210.3L249.1 1203.5L254.1 1199.3L259.1 1197.9L264.1 1199.3L269.1 1203.5L274.1 1210.3L279.1 1219.6L284.1 1231L289.1 1244.1L294.1 1258.7L299.1 1274.1L304.1 1290.1L309.1 1306.3L314 1322.2L319 1337.6L324 1352.2L329 1365.8L334 1378.3L339 1389.5L344 1399.5L349 1408.2L354 1415.7L359 1422.1L364 1427.5L369 1431.9L374 1435.5L379 1438.4L384 1440.7L389 1442.5L394 1443.8L399 1444.9L404 1445.7L409 1446.3L414 1446.7L419 1447.1L424 1447.3L429 1447.5L434 1447.6L439 1447.6L444 1447.7L449 1447.7L454 1447.8L458.9 1447.8L463.9 1447.8L468.9 1447.8L473.9 1447.8L478.9 1447.8L483.9 1447.8L488.9 1447.8L493.9 1447.8L498.9 1447.8L503.9 1447.8L508.9 1447.8L513.9 1447.8L518.9 1447.8L523.9 1447.8L528.9 1447.8L533.9 1447.8" stroke="#ef8233" stroke-width="4" fill="none" stroke-linejoin="round" stroke-linecap="round"/>
<path d="M84.2 1447.5L89.2 1447.3L94.2 1447L99.2 1446.7L104.2 1446.2L109.2 1445.5L114.2 1444.5L119.2 1443.2L124.2 1441.5L129.2 1439.2L134.2 1436.3L139.2 1432.6L144.2 1427.9L149.2 1422.1L154.2 1415.2L159.2 1406.8L164.1 1397L169.1 1385.6L174.1 1372.7L179.1 1358.3L184.1 1342.5L189.1 1325.5L194.1 1307.6L199.1 1289.1L204.1 1270.6L209.1 1252.5L214.1 1235.4L219.1 1219.7L224.1 1206L229.1 1194.9L234.1 1186.7L239.1 1181.7L244.1 1180.1L249.1 1182L254.1 1187.4L259.1 1195.9L264.1 1207.3L269.1 1221.2L274.1 1237L279.1 1254.3L284.1 1272.5L289.1 1291L294.1 1309.4L299.1 1327.2L304.1 1344.1L309.1 1359.8L314 1374.1L319 1386.8L324 1398L329 1407.7L334 1415.9L339 1422.8L344 1428.4L349 1433L354 1436.6L359 1439.5L364 1441.7L369 1443.4L374 1444.6L379 1445.5L384 1446.2L389 1446.7L394 1447.1L399 1447.3L404 1447.5L409 1447.6L414 1447.7L419 1447.7L424 1447.7L429 1447.8L434 1447.8L439 1447.8L444 1447.8L449 1447.8L454 1447.8L458.9 1447.8L463.9 1447.8L468.9 1447.8L473.9 1447.8L478.9 1447.8L483.9 1447.8L488.9 1447.8L493.9 1447.8L498.9 1447.8L503.9 1447.8L508.9 1447.8L513.9 1447.8L518.9 1447.8L523.9 1447.8L528.9 1447.8L533.9 1447.8" stroke="#1529f2" stroke-width="4" fill="none" stroke-linejoin="round" stroke-linecap="round"/>
<path d="M84.2 1447.4L89.2 1447.2L94.2 1447L99.2 1446.8L104.2 1446.5L109.2 1446.1L114.2 1445.6L119.2 1444.9L124.2 1444.1L129.2 1443.1L134.2 1441.9L139.2 1440.4L144.2 1438.6L149.2 1436.4L154.2 1433.9L159.2 1430.9L164.1 1427.4L169.1 1423.4L174.1 1418.7L179.1 1413.5L184.1 1407.6L189.1 1401.1L194.1 1393.9L199.1 1386L204.1 1377.6L209.1 1368.5L214.1 1359L219.1 1349L224.1 1338.7L229.1 1328.3L234.1 1317.8L239.1 1307.4L244.1 1297.3L249.1 1287.7L254.1 1278.7L259.1 1270.5L264.1 1263.4L269.1 1257.3L274.1 1252.5L279.1 1249L284.1 1247L289.1 1246.4L294.1 1247.3L299.1 1249.7L304.1 1253.5L309.1 1258.7L314 1265.1L319 1272.5L324 1280.9L329 1290L334 1299.8L339 1310L344 1320.4L349 1330.9L354 1341.3L359 1351.5L364 1361.4L369 1370.8L374 1379.7L379 1388.1L384 1395.8L389 1402.8L394 1409.2L399 1414.9L404 1420L409 1424.4L414 1428.3L419 1431.7L424 1434.6L429 1437L434 1439.1L439 1440.8L444 1442.2L449 1443.4L454 1444.3L458.9 1445.1L463.9 1445.7L468.9 1446.2L473.9 1446.6L478.9 1446.9L483.9 1447.1L488.9 1447.3L493.9 1447.4L498.9 1447.5L503.9 1447.6L508.9 1447.7L513.9 1447.7L518.9 1447.7L523.9 1447.7L528.9 1447.8L533.9 1447.8" stroke="#2f8520" stroke-width="4" fill="none" stroke-linejoin="round" stroke-linecap="round"/>
<path d="M84.2 1447.6L89.2 1447.5L94.2 1447.4L99.2 1447.2L104.2 1447L109.2 1446.8L114.2 1446.5L119.2 1446.1L124.2 1445.6L129.2 1444.9L134.2 1444.2L139.2 1443.2L144.2 1442L149.2 1440.6L154.2 1438.9L159.2 1436.9L164.1 1434.5L169.1 1431.6L174.1 1428.4L179.1 1424.6L184.1 1420.3L189.1 1415.4L194.1 1410L199.1 1403.9L204.1 1397.2L209.1 1389.9L214.1 1382L219.1 1373.6L224.1 1364.7L229.1 1355.4L234.1 1345.7L239.1 1335.9L244.1 1325.9L249.1 1316L254.1 1306.3L259.1 1297L264.1 1288.2L269.1 1280.1L274.1 1272.8L279.1 1266.5L284.1 1261.3L289.1 1257.3L294.1 1254.5L299.1 1253.2L304.1 1253.2L309.1 1254.5L314 1257.3L319 1261.3L324 1266.5L329 1272.8L334 1280.1L339 1288.2L344 1297L349 1306.3L354 1316L359 1325.9L364 1335.9L369 1345.7L374 1355.4L379 1364.7L384 1373.6L389 1382L394 1389.9L399 1397.2L404 1403.9L409 1410L414 1415.4L419 1420.3L424 1424.6L429 1428.4L434 1431.6L439 1434.5L444 1436.9L449 1438.9L454 1440.6L458.9 1442L463.9 1443.2L468.9 1444.2L473.9 1444.9L478.9 1445.6L483.9 1446.1L488.9 1446.5L493.9 1446.8L498.9 1447L503.9 1447.2L508.9 1447.4L513.9 1447.5L518.9 1447.6L523.9 1447.6L528.9 1447.7L533.9 1447.7" stroke="#505050" stroke-width="4" fill="none" stroke-linejoin="round" stroke-linecap="round"/>
<text transform="translate(137.1 1526.5) scale(0.991 1)" font-size="24.5" font-weight="bold" stroke="#000" stroke-width="0.4">Feret’s minimal diameter (<tspan font-weight="normal" font-family="'Liberation Serif',serif">μ</tspan>m)</text>
<text transform="translate(32.2 1297.8) rotate(-90) translate(-72.4 0) scale(0.934 1)" font-size="26" font-weight="bold" stroke="#000" stroke-width="0.4">%Frequency</text>
</g>
<g id="panel-e-fit">
<path d="M751.6 1133V1436" stroke="#000" stroke-width="5" fill="none"/>
<path d="M751.6 1135.2H740.6M751.6 1194.9H740.6M751.6 1254.5H740.6M751.6 1314.2H740.6M751.6 1373.8H740.6M751.6 1433.5H740.6" stroke="#000" stroke-width="4.4" fill="none"/>
<text transform="translate(713.9 1144.5) scale(0.965 1)" font-size="24" font-weight="bold" stroke="#000" stroke-width="0.4">25</text>
<text transform="translate(714.2 1204.2) scale(0.965 1)" font-size="24" font-weight="bold" stroke="#000" stroke-width="0.4">20</text>
<text transform="translate(713.9 1263.8) scale(0.965 1)" font-size="24" font-weight="bold" stroke="#000" stroke-width="0.4">15</text>
<text transform="translate(714.2 1323.5) scale(0.965 1)" font-size="24" font-weight="bold" stroke="#000" stroke-width="0.4">10</text>
<text transform="translate(726.7 1383.1) scale(0.965 1)" font-size="24" font-weight="bold" stroke="#000" stroke-width="0.4">5</text>
<text transform="translate(727.1 1442.8) scale(0.965 1)" font-size="24" font-weight="bold" stroke="#000" stroke-width="0.4">0</text>
<path d="M749.1 1433.5H1204.1" stroke="#000" stroke-width="5" fill="none"/>
<path d="M751.6 1433.5V1445M776.6 1433.5V1445M801.6 1433.5V1445M826.6 1433.5V1445M851.6 1433.5V1445M876.7 1433.5V1445M901.7 1433.5V1445M926.7 1433.5V1445M951.7 1433.5V1445M976.7 1433.5V1445M1001.7 1433.5V1445M1026.7 1433.5V1445M1051.7 1433.5V1445M1076.7 1433.5V1445M1101.8 1433.5V1445M1126.8 1433.5V1445M1151.8 1433.5V1445M1176.8 1433.5V1445M1201.8 1433.5V1445" stroke="#000" stroke-width="4.6" fill="none"/>
<text transform="translate(757.1 1460.8) rotate(-45) translate(-12.4 0) scale(0.965 1)" font-size="23.4" font-weight="bold" stroke="#000" stroke-width="0.4">4</text>
<text transform="translate(782.1 1460.8) rotate(-45) translate(-11.7 0) scale(0.965 1)" font-size="23.4" font-weight="bold" stroke="#000" stroke-width="0.4">6</text>
<text transform="translate(807.1 1460.8) rotate(-45) translate(-11.9 0) scale(0.965 1)" font-size="23.4" font-weight="bold" stroke="#000" stroke-width="0.4">8</text>
<text transform="translate(832.1 1460.8) rotate(-45) translate(-24.2 0) scale(0.965 1)" font-size="23.4" font-weight="bold" stroke="#000" stroke-width="0.4">10</text>
<text transform="translate(857.1 1460.8) rotate(-45) translate(-24.2 0) scale(0.965 1)" font-size="23.4" font-weight="bold" stroke="#000" stroke-width="0.4">12</text>
<text transform="translate(882.2 1460.8) rotate(-45) translate(-25 0) scale(0.965 1)" font-size="23.4" font-weight="bold" stroke="#000" stroke-width="0.4">14</text>
<text transform="translate(907.2 1460.8) rotate(-45) translate(-24.3 0) scale(0.965 1)" font-size="23.4" font-weight="bold" stroke="#000" stroke-width="0.4">16</text>
<text transform="translate(932.2 1460.8) rotate(-45) translate(-24.4 0) scale(0.965 1)" font-size="23.4" font-weight="bold" stroke="#000" stroke-width="0.4">18</text>
<text transform="translate(957.2 1460.8) rotate(-45) translate(-24.2 0) scale(0.965 1)" font-size="23.4" font-weight="bold" stroke="#000" stroke-width="0.4">20</text>
<text transform="translate(982.2 1460.8) rotate(-45) translate(-24.2 0) scale(0.965 1)" font-size="23.4" font-weight="bold" stroke="#000" stroke-width="0.4">22</text>
<text transform="translate(1007.2 1460.8) rotate(-45) translate(-25 0) scale(0.965 1)" font-size="23.4" font-weight="bold" stroke="#000" stroke-width="0.4">24</text>
<text transform="translate(1032.2 1460.8) rotate(-45) translate(-24.3 0) scale(0.965 1)" font-size="23.4" font-weight="bold" stroke="#000" stroke-width="0.4">26</text>
<text transform="translate(1057.2 1460.8) rotate(-45) translate(-24.4 0) scale(0.965 1)" font-size="23.4" font-weight="bold" stroke="#000" stroke-width="0.4">28</text>
<text transform="translate(1082.2 1460.8) rotate(-45) translate(-24.2 0) scale(0.965 1)" font-size="23.4" font-weight="bold" stroke="#000" stroke-width="0.4">30</text>
<text transform="translate(1107.3 1460.8) rotate(-45) translate(-24.2 0) scale(0.965 1)" font-size="23.4" font-weight="bold" stroke="#000" stroke-width="0.4">32</text>
<text transform="translate(1132.3 1460.8) rotate(-45) translate(-25 0) scale(0.965 1)" font-size="23.4" font-weight="bold" stroke="#000" stroke-width="0.4">34</text>
<text transform="translate(1157.3 1460.8) rotate(-45) translate(-24.3 0) scale(0.965 1)" font-size="23.4" font-weight="bold" stroke="#000" stroke-width="0.4">36</text>
<text transform="translate(1182.3 1460.8) rotate(-45) translate(-24.4 0) scale(0.965 1)" font-size="23.4" font-weight="bold" stroke="#000" stroke-width="0.4">38</text>
<text transform="translate(1207.3 1460.8) rotate(-45) translate(-24.2 0) scale(0.965 1)" font-size="23.4" font-weight="bold" stroke="#000" stroke-width="0.4">40</text>
<path d="M751.6 1433.3L756.6 1433.3L761.6 1433.2L766.6 1433L771.6 1432.9L776.6 1432.6L781.6 1432.3L786.6 1431.9L791.6 1431.4L796.6 1430.8L801.6 1429.9L806.6 1428.9L811.6 1427.5L816.6 1425.9L821.6 1423.9L826.6 1421.5L831.6 1418.6L836.6 1415.1L841.6 1411L846.6 1406.3L851.6 1400.8L856.6 1394.5L861.6 1387.4L866.7 1379.6L871.7 1370.8L876.7 1361.3L881.7 1351.1L886.7 1340.2L891.7 1328.7L896.7 1316.9L901.7 1304.7L906.7 1292.5L911.7 1280.5L916.7 1268.8L921.7 1257.7L926.7 1247.5L931.7 1238.3L936.7 1230.4L941.7 1223.9L946.7 1219.1L951.7 1216L956.7 1214.7L961.7 1215.3L966.7 1217.6L971.7 1221.8L976.7 1227.6L981.7 1235L986.7 1243.7L991.7 1253.5L996.7 1264.3L1001.7 1275.8L1006.7 1287.7L1011.7 1299.9L1016.7 1312L1021.7 1324L1026.7 1335.7L1031.7 1346.8L1036.7 1357.3L1041.7 1367.1L1046.7 1376.2L1051.7 1384.4L1056.7 1391.8L1061.7 1398.4L1066.7 1404.2L1071.7 1409.2L1076.7 1413.5L1081.7 1417.3L1086.7 1420.4L1091.8 1423L1096.8 1425.2L1101.8 1426.9L1106.8 1428.4L1111.8 1429.5L1116.8 1430.5L1121.8 1431.2L1126.8 1431.8L1131.8 1432.2L1136.8 1432.5L1141.8 1432.8L1146.8 1433L1151.8 1433.1L1156.8 1433.2L1161.8 1433.3L1166.8 1433.4L1171.8 1433.4L1176.8 1433.4L1181.8 1433.5L1186.8 1433.5L1191.8 1433.5L1196.8 1433.5L1201.8 1433.5" stroke="#ef8233" stroke-width="4" fill="none" stroke-linejoin="round" stroke-linecap="round"/>
<path d="M751.6 1433.1L756.6 1432.9L761.6 1432.7L766.6 1432.4L771.6 1432L776.6 1431.4L781.6 1430.6L786.6 1429.6L791.6 1428.4L796.6 1426.7L801.6 1424.7L806.6 1422.1L811.6 1419L816.6 1415.1L821.6 1410.5L826.6 1405L831.6 1398.5L836.6 1391L841.6 1382.5L846.6 1372.8L851.6 1362.1L856.6 1350.3L861.6 1337.5L866.7 1323.9L871.7 1309.7L876.7 1295.1L881.7 1280.3L886.7 1265.6L891.7 1251.5L896.7 1238.1L901.7 1225.9L906.7 1215.3L911.7 1206.3L916.7 1199.5L921.7 1194.9L926.7 1192.7L931.7 1192.9L936.7 1195.6L941.7 1200.7L946.7 1208L951.7 1217.3L956.7 1228.3L961.7 1240.7L966.7 1254.3L971.7 1268.5L976.7 1283.2L981.7 1298L986.7 1312.6L991.7 1326.7L996.7 1340.1L1001.7 1352.7L1006.7 1364.3L1011.7 1374.8L1016.7 1384.3L1021.7 1392.6L1026.7 1399.9L1031.7 1406.1L1036.7 1411.5L1041.7 1415.9L1046.7 1419.6L1051.7 1422.7L1056.7 1425.1L1061.7 1427.1L1066.7 1428.6L1071.7 1429.9L1076.7 1430.8L1081.7 1431.5L1086.7 1432.1L1091.8 1432.5L1096.8 1432.8L1101.8 1433L1106.8 1433.1L1111.8 1433.2L1116.8 1433.3L1121.8 1433.4L1126.8 1433.4L1131.8 1433.4L1136.8 1433.5L1141.8 1433.5L1146.8 1433.5L1151.8 1433.5L1156.8 1433.5L1161.8 1433.5L1166.8 1433.5L1171.8 1433.5L1176.8 1433.5L1181.8 1433.5L1186.8 1433.5L1191.8 1433.5L1196.8 1433.5L1201.8 1433.5" stroke="#1529f2" stroke-width="4" fill="none" stroke-linejoin="round" stroke-linecap="round"/>
<path d="M751.6 1432.6L756.6 1432.4L761.6 1432.2L766.6 1431.8L771.6 1431.4L776.6 1430.9L781.6 1430.4L786.6 1429.7L791.6 1428.8L796.6 1427.9L801.6 1426.7L806.6 1425.4L811.6 1423.9L816.6 1422.1L821.6 1420.1L826.6 1417.8L831.6 1415.2L836.6 1412.3L841.6 1409.1L846.6 1405.5L851.6 1401.5L856.6 1397.1L861.6 1392.4L866.7 1387.3L871.7 1381.8L876.7 1375.9L881.7 1369.7L886.7 1363.2L891.7 1356.5L896.7 1349.5L901.7 1342.3L906.7 1335.1L911.7 1327.8L916.7 1320.6L921.7 1313.4L926.7 1306.5L931.7 1299.9L936.7 1293.6L941.7 1287.7L946.7 1282.4L951.7 1277.8L956.7 1273.7L961.7 1270.4L966.7 1267.9L971.7 1266.2L976.7 1265.4L981.7 1265.4L986.7 1266.2L991.7 1267.9L996.7 1270.4L1001.7 1273.7L1006.7 1277.8L1011.7 1282.4L1016.7 1287.7L1021.7 1293.6L1026.7 1299.9L1031.7 1306.5L1036.7 1313.4L1041.7 1320.6L1046.7 1327.8L1051.7 1335.1L1056.7 1342.3L1061.7 1349.5L1066.7 1356.5L1071.7 1363.2L1076.7 1369.7L1081.7 1375.9L1086.7 1381.8L1091.8 1387.3L1096.8 1392.4L1101.8 1397.1L1106.8 1401.5L1111.8 1405.5L1116.8 1409.1L1121.8 1412.3L1126.8 1415.2L1131.8 1417.8L1136.8 1420.1L1141.8 1422.1L1146.8 1423.9L1151.8 1425.4L1156.8 1426.7L1161.8 1427.9L1166.8 1428.8L1171.8 1429.7L1176.8 1430.4L1181.8 1430.9L1186.8 1431.4L1191.8 1431.8L1196.8 1432.2L1201.8 1432.4" stroke="#2f8520" stroke-width="4" fill="none" stroke-linejoin="round" stroke-linecap="round"/>
<path d="M751.6 1433.1L756.6 1433L761.6 1432.8L766.6 1432.6L771.6 1432.4L776.6 1432.1L781.6 1431.8L786.6 1431.4L791.6 1430.9L796.6 1430.3L801.6 1429.6L806.6 1428.8L811.6 1427.8L816.6 1426.7L821.6 1425.4L826.6 1423.8L831.6 1422.1L836.6 1420L841.6 1417.7L846.6 1415.1L851.6 1412.2L856.6 1408.9L861.6 1405.3L866.7 1401.2L871.7 1396.9L876.7 1392.1L881.7 1386.9L886.7 1381.4L891.7 1375.5L896.7 1369.3L901.7 1362.7L906.7 1355.9L911.7 1348.9L916.7 1341.7L921.7 1334.4L926.7 1327.1L931.7 1319.8L936.7 1312.6L941.7 1305.6L946.7 1298.9L951.7 1292.6L956.7 1286.7L961.7 1281.4L966.7 1276.6L971.7 1272.6L976.7 1269.3L981.7 1266.7L986.7 1265L991.7 1264.2L996.7 1264.2L1001.7 1265L1006.7 1266.7L1011.7 1269.3L1016.7 1272.6L1021.7 1276.6L1026.7 1281.4L1031.7 1286.7L1036.7 1292.6L1041.7 1298.9L1046.7 1305.6L1051.7 1312.6L1056.7 1319.8L1061.7 1327.1L1066.7 1334.4L1071.7 1341.7L1076.7 1348.9L1081.7 1355.9L1086.7 1362.7L1091.8 1369.3L1096.8 1375.5L1101.8 1381.4L1106.8 1386.9L1111.8 1392.1L1116.8 1396.9L1121.8 1401.2L1126.8 1405.3L1131.8 1408.9L1136.8 1412.2L1141.8 1415.1L1146.8 1417.7L1151.8 1420L1156.8 1422.1L1161.8 1423.8L1166.8 1425.4L1171.8 1426.7L1176.8 1427.8L1181.8 1428.8L1186.8 1429.6L1191.8 1430.3L1196.8 1430.9L1201.8 1431.4" stroke="#505050" stroke-width="4" fill="none" stroke-linejoin="round" stroke-linecap="round"/>
<text transform="translate(804.2 1513) scale(0.985 1)" font-size="24.5" font-weight="bold" stroke="#000" stroke-width="0.4">Feret’s minimal diameter (<tspan font-weight="normal" font-family="'Liberation Serif',serif">μ</tspan>m)</text>
<text transform="translate(697.6 1284.9) rotate(-90) translate(-71.7 0) scale(0.925 1)" font-size="26" font-weight="bold" stroke="#000" stroke-width="0.4">%Frequency</text>
</g>
<g id="panel-f-fit">
<path d="M1424.5 1145.8V1450.5" stroke="#000" stroke-width="5" fill="none"/>
<path d="M1424.5 1148H1413.5M1424.5 1223H1413.5M1424.5 1298H1413.5M1424.5 1373H1413.5M1424.5 1448H1413.5" stroke="#000" stroke-width="4.4" fill="none"/>
<text transform="translate(1387.1 1157.3) scale(0.965 1)" font-size="24" font-weight="bold" stroke="#000" stroke-width="0.4">20</text>
<text transform="translate(1386.8 1232.3) scale(0.965 1)" font-size="24" font-weight="bold" stroke="#000" stroke-width="0.4">15</text>
<text transform="translate(1387.1 1307.3) scale(0.965 1)" font-size="24" font-weight="bold" stroke="#000" stroke-width="0.4">10</text>
<text transform="translate(1399.6 1382.3) scale(0.965 1)" font-size="24" font-weight="bold" stroke="#000" stroke-width="0.4">5</text>
<text transform="translate(1400 1457.3) scale(0.965 1)" font-size="24" font-weight="bold" stroke="#000" stroke-width="0.4">0</text>
<path d="M1422 1448H1876.6" stroke="#000" stroke-width="5" fill="none"/>
<path d="M1424.5 1448V1459.5M1449.5 1448V1459.5M1474.5 1448V1459.5M1499.5 1448V1459.5M1524.5 1448V1459.5M1549.4 1448V1459.5M1574.4 1448V1459.5M1599.4 1448V1459.5M1624.4 1448V1459.5M1649.4 1448V1459.5M1674.4 1448V1459.5M1699.4 1448V1459.5M1724.4 1448V1459.5M1749.4 1448V1459.5M1774.3 1448V1459.5M1799.3 1448V1459.5M1824.3 1448V1459.5M1849.3 1448V1459.5M1874.3 1448V1459.5" stroke="#000" stroke-width="4.6" fill="none"/>
<text transform="translate(1430 1475.3) rotate(-45) translate(-12.4 0) scale(0.965 1)" font-size="23.4" font-weight="bold" stroke="#000" stroke-width="0.4">4</text>
<text transform="translate(1455 1475.3) rotate(-45) translate(-11.7 0) scale(0.965 1)" font-size="23.4" font-weight="bold" stroke="#000" stroke-width="0.4">6</text>
<text transform="translate(1480 1475.3) rotate(-45) translate(-11.9 0) scale(0.965 1)" font-size="23.4" font-weight="bold" stroke="#000" stroke-width="0.4">8</text>
<text transform="translate(1505 1475.3) rotate(-45) translate(-24.2 0) scale(0.965 1)" font-size="23.4" font-weight="bold" stroke="#000" stroke-width="0.4">10</text>
<text transform="translate(1530 1475.3) rotate(-45) translate(-24.2 0) scale(0.965 1)" font-size="23.4" font-weight="bold" stroke="#000" stroke-width="0.4">12</text>
<text transform="translate(1554.9 1475.3) rotate(-45) translate(-25 0) scale(0.965 1)" font-size="23.4" font-weight="bold" stroke="#000" stroke-width="0.4">14</text>
<text transform="translate(1579.9 1475.3) rotate(-45) translate(-24.3 0) scale(0.965 1)" font-size="23.4" font-weight="bold" stroke="#000" stroke-width="0.4">16</text>
<text transform="translate(1604.9 1475.3) rotate(-45) translate(-24.4 0) scale(0.965 1)" font-size="23.4" font-weight="bold" stroke="#000" stroke-width="0.4">18</text>
<text transform="translate(1629.9 1475.3) rotate(-45) translate(-24.2 0) scale(0.965 1)" font-size="23.4" font-weight="bold" stroke="#000" stroke-width="0.4">20</text>
<text transform="translate(1654.9 1475.3) rotate(-45) translate(-24.2 0) scale(0.965 1)" font-size="23.4" font-weight="bold" stroke="#000" stroke-width="0.4">22</text>
<text transform="translate(1679.9 1475.3) rotate(-45) translate(-25 0) scale(0.965 1)" font-size="23.4" font-weight="bold" stroke="#000" stroke-width="0.4">24</text>
<text transform="translate(1704.9 1475.3) rotate(-45) translate(-24.3 0) scale(0.965 1)" font-size="23.4" font-weight="bold" stroke="#000" stroke-width="0.4">26</text>
<text transform="translate(1729.9 1475.3) rotate(-45) translate(-24.4 0) scale(0.965 1)" font-size="23.4" font-weight="bold" stroke="#000" stroke-width="0.4">28</text>
<text transform="translate(1754.9 1475.3) rotate(-45) translate(-24.2 0) scale(0.965 1)" font-size="23.4" font-weight="bold" stroke="#000" stroke-width="0.4">30</text>
<text transform="translate(1779.8 1475.3) rotate(-45) translate(-24.2 0) scale(0.965 1)" font-size="23.4" font-weight="bold" stroke="#000" stroke-width="0.4">32</text>
<text transform="translate(1804.8 1475.3) rotate(-45) translate(-25 0) scale(0.965 1)" font-size="23.4" font-weight="bold" stroke="#000" stroke-width="0.4">34</text>
<text transform="translate(1829.8 1475.3) rotate(-45) translate(-24.3 0) scale(0.965 1)" font-size="23.4" font-weight="bold" stroke="#000" stroke-width="0.4">36</text>
<text transform="translate(1854.8 1475.3) rotate(-45) translate(-24.4 0) scale(0.965 1)" font-size="23.4" font-weight="bold" stroke="#000" stroke-width="0.4">38</text>
<text transform="translate(1879.8 1475.3) rotate(-45) translate(-24.2 0) scale(0.965 1)" font-size="23.4" font-weight="bold" stroke="#000" stroke-width="0.4">40</text>
<path d="M1424.5 1447L1429.5 1446.7L1434.5 1446.4L1439.5 1445.9L1444.5 1445.4L1449.5 1444.8L1454.5 1444.1L1459.5 1443.2L1464.5 1442.1L1469.5 1440.9L1474.5 1439.4L1479.5 1437.7L1484.5 1435.7L1489.5 1433.4L1494.5 1430.7L1499.5 1427.7L1504.5 1424.2L1509.5 1420.4L1514.5 1416L1519.5 1411.2L1524.5 1405.9L1529.5 1400L1534.5 1393.7L1539.4 1386.8L1544.4 1379.5L1549.4 1371.6L1554.4 1363.3L1559.4 1354.6L1564.4 1345.6L1569.4 1336.2L1574.4 1326.7L1579.4 1317.1L1584.4 1307.4L1589.4 1297.9L1594.4 1288.5L1599.4 1279.5L1604.4 1270.9L1609.4 1262.8L1614.4 1255.4L1619.4 1248.8L1624.4 1243L1629.4 1238.2L1634.4 1234.4L1639.4 1231.7L1644.4 1230.2L1649.4 1229.8L1654.4 1230.5L1659.4 1232.4L1664.4 1235.4L1669.4 1239.5L1674.4 1244.6L1679.4 1250.7L1684.4 1257.5L1689.4 1265.1L1694.4 1273.4L1699.4 1282.1L1704.4 1291.3L1709.4 1300.7L1714.4 1310.3L1719.4 1320L1724.4 1329.6L1729.4 1339.1L1734.4 1348.3L1739.4 1357.3L1744.4 1365.8L1749.4 1374L1754.4 1381.7L1759.4 1388.9L1764.3 1395.6L1769.3 1401.8L1774.3 1407.5L1779.3 1412.7L1784.3 1417.4L1789.3 1421.6L1794.3 1425.3L1799.3 1428.6L1804.3 1431.5L1809.3 1434.1L1814.3 1436.3L1819.3 1438.2L1824.3 1439.9L1829.3 1441.3L1834.3 1442.5L1839.3 1443.5L1844.3 1444.3L1849.3 1445L1854.3 1445.6L1859.3 1446.1L1864.3 1446.5L1869.3 1446.8L1874.3 1447" stroke="#ef8233" stroke-width="4" fill="none" stroke-linejoin="round" stroke-linecap="round"/>
<path d="M1424.5 1446.5L1429.5 1446.1L1434.5 1445.6L1439.5 1445L1444.5 1444.2L1449.5 1443.3L1454.5 1442.2L1459.5 1440.9L1464.5 1439.4L1469.5 1437.6L1474.5 1435.4L1479.5 1433L1484.5 1430.1L1489.5 1426.9L1494.5 1423.1L1499.5 1418.9L1504.5 1414.2L1509.5 1408.9L1514.5 1403.1L1519.5 1396.7L1524.5 1389.7L1529.5 1382.2L1534.5 1374L1539.4 1365.4L1544.4 1356.3L1549.4 1346.7L1554.4 1336.8L1559.4 1326.7L1564.4 1316.3L1569.4 1305.9L1574.4 1295.6L1579.4 1285.4L1584.4 1275.6L1589.4 1266.2L1594.4 1257.4L1599.4 1249.3L1604.4 1242L1609.4 1235.7L1614.4 1230.5L1619.4 1226.4L1624.4 1223.5L1629.4 1221.9L1634.4 1221.5L1639.4 1222.5L1644.4 1224.8L1649.4 1228.3L1654.4 1232.9L1659.4 1238.7L1664.4 1245.5L1669.4 1253.2L1674.4 1261.7L1679.4 1270.8L1684.4 1280.5L1689.4 1290.5L1694.4 1300.8L1699.4 1311.1L1704.4 1321.5L1709.4 1331.8L1714.4 1341.8L1719.4 1351.6L1724.4 1360.9L1729.4 1369.8L1734.4 1378.2L1739.4 1386L1744.4 1393.3L1749.4 1400L1754.4 1406.1L1759.4 1411.7L1764.3 1416.6L1769.3 1421.1L1774.3 1425.1L1779.3 1428.6L1784.3 1431.6L1789.3 1434.3L1794.3 1436.5L1799.3 1438.5L1804.3 1440.2L1809.3 1441.6L1814.3 1442.8L1819.3 1443.8L1824.3 1444.6L1829.3 1445.3L1834.3 1445.8L1839.3 1446.3L1844.3 1446.6L1849.3 1446.9L1854.3 1447.2L1859.3 1447.4L1864.3 1447.5L1869.3 1447.6L1874.3 1447.7" stroke="#1529f2" stroke-width="4" fill="none" stroke-linejoin="round" stroke-linecap="round"/>
<path d="M1424.5 1446.5L1429.5 1446.2L1434.5 1445.8L1439.5 1445.4L1444.5 1444.9L1449.5 1444.3L1454.5 1443.6L1459.5 1442.8L1464.5 1441.9L1469.5 1440.9L1474.5 1439.7L1479.5 1438.3L1484.5 1436.8L1489.5 1435L1494.5 1433.1L1499.5 1430.9L1504.5 1428.5L1509.5 1425.9L1514.5 1422.9L1519.5 1419.7L1524.5 1416.2L1529.5 1412.4L1534.5 1408.3L1539.4 1403.9L1544.4 1399.1L1549.4 1394.1L1554.4 1388.8L1559.4 1383.2L1564.4 1377.3L1569.4 1371.2L1574.4 1364.9L1579.4 1358.4L1584.4 1351.8L1589.4 1345L1594.4 1338.2L1599.4 1331.4L1604.4 1324.7L1609.4 1318L1614.4 1311.5L1619.4 1305.2L1624.4 1299.2L1629.4 1293.6L1634.4 1288.3L1639.4 1283.5L1644.4 1279.1L1649.4 1275.3L1654.4 1272.1L1659.4 1269.5L1664.4 1267.5L1669.4 1266.3L1674.4 1265.6L1679.4 1265.7L1684.4 1266.5L1689.4 1268L1694.4 1270.1L1699.4 1272.8L1704.4 1276.2L1709.4 1280.1L1714.4 1284.6L1719.4 1289.6L1724.4 1294.9L1729.4 1300.7L1734.4 1306.8L1739.4 1313.1L1744.4 1319.7L1749.4 1326.3L1754.4 1333.1L1759.4 1339.9L1764.3 1346.7L1769.3 1353.4L1774.3 1360L1779.3 1366.5L1784.3 1372.8L1789.3 1378.8L1794.3 1384.6L1799.3 1390.1L1804.3 1395.4L1809.3 1400.3L1814.3 1405L1819.3 1409.3L1824.3 1413.4L1829.3 1417.1L1834.3 1420.5L1839.3 1423.7L1844.3 1426.6L1849.3 1429.2L1854.3 1431.5L1859.3 1433.6L1864.3 1435.5L1869.3 1437.2L1874.3 1438.7" stroke="#2f8520" stroke-width="4" fill="none" stroke-linejoin="round" stroke-linecap="round"/>
<path d="M1424.5 1447.2L1429.5 1447L1434.5 1446.7L1439.5 1446.5L1444.5 1446.1L1449.5 1445.8L1454.5 1445.3L1459.5 1444.8L1464.5 1444.2L1469.5 1443.4L1474.5 1442.6L1479.5 1441.6L1484.5 1440.5L1489.5 1439.3L1494.5 1437.8L1499.5 1436.2L1504.5 1434.3L1509.5 1432.3L1514.5 1430L1519.5 1427.4L1524.5 1424.5L1529.5 1421.4L1534.5 1418L1539.4 1414.2L1544.4 1410.2L1549.4 1405.8L1554.4 1401.1L1559.4 1396L1564.4 1390.7L1569.4 1385L1574.4 1379.1L1579.4 1372.9L1584.4 1366.4L1589.4 1359.7L1594.4 1352.9L1599.4 1345.9L1604.4 1338.9L1609.4 1331.8L1614.4 1324.7L1619.4 1317.8L1624.4 1310.9L1629.4 1304.3L1634.4 1297.9L1639.4 1291.9L1644.4 1286.2L1649.4 1281L1654.4 1276.3L1659.4 1272.2L1664.4 1268.7L1669.4 1265.8L1674.4 1263.6L1679.4 1262L1684.4 1261.2L1689.4 1261.2L1694.4 1261.8L1699.4 1263.2L1704.4 1265.3L1709.4 1268L1714.4 1271.4L1719.4 1275.5L1724.4 1280.1L1729.4 1285.2L1734.4 1290.7L1739.4 1296.7L1744.4 1303L1749.4 1309.6L1754.4 1316.4L1759.4 1323.3L1764.3 1330.4L1769.3 1337.5L1774.3 1344.5L1779.3 1351.5L1784.3 1358.4L1789.3 1365.1L1794.3 1371.6L1799.3 1377.9L1804.3 1383.9L1809.3 1389.6L1814.3 1395L1819.3 1400.1L1824.3 1404.9L1829.3 1409.3L1834.3 1413.5L1839.3 1417.3L1844.3 1420.8L1849.3 1423.9L1854.3 1426.8L1859.3 1429.5L1864.3 1431.8L1869.3 1433.9L1874.3 1435.8" stroke="#505050" stroke-width="4" fill="none" stroke-linejoin="round" stroke-linecap="round"/>
<text transform="translate(1477.4 1525.8) scale(0.986 1)" font-size="24.5" font-weight="bold" stroke="#000" stroke-width="0.4">Feret’s minimal diameter (<tspan font-weight="normal" font-family="'Liberation Serif',serif">μ</tspan>m)</text>
<text transform="translate(1373 1299.1) rotate(-90) translate(-72.5 0) scale(0.935 1)" font-size="26" font-weight="bold" stroke="#000" stroke-width="0.4">%Frequency</text>
</g>
<g id="panel-g">
<g id="micro-1">
<rect x="48.9" y="1632.7" width="76.1" height="382.6" fill="#ababab" stroke="#8e8e8e" stroke-width="0.8"/>
<clipPath id="cp1"><rect x="129.7" y="1632.7" width="357.9" height="384.1"/></clipPath>
<rect x="129.7" y="1632.7" width="357.9" height="384.1" fill="#030b05"/>
<g clip-path="url(#cp1)">
<path d="M225 1628.7L224.6 1632.7L224.1 1636.7L223.7 1640.7L223.2 1644.7L222.8 1648.7L222.3 1652.7L221.9 1656.7L221.4 1660.7L220.9 1664.7L220.5 1668.7L220 1672.7L219.6 1676.7L219.1 1680.7L218.6 1684.7L218.2 1688.7L217.7 1692.7L217.2 1696.7L216.7 1700.7L216.2 1704.7L215.8 1708.7L215.3 1712.7L214.8 1716.7L214.3 1720.7L213.8 1724.7L213.4 1728.7L212.9 1732.7L212.4 1736.7L211.9 1740.7L211.4 1744.7L210.9 1748.7L210.5 1752.7L210 1756.7L209.5 1760.7L209 1764.7L208.5 1768.7L208 1772.7L207.5 1776.7L207 1780.7L206.5 1784.7L206 1788.7L205.5 1792.7L205.1 1796.7L204.6 1800.7L204.1 1804.7L203.6 1808.7L203.1 1812.7L202.7 1816.7L202.2 1820.7L201.8 1824.7L201.3 1828.7L200.9 1832.7L200.5 1836.7L200.2 1840.7L199.8 1844.7L199.4 1848.7L199.1 1852.7L198.7 1856.7L198.3 1860.7L197.9 1864.7L197.4 1868.7L196.9 1872.7L196.3 1876.7L195.5 1880.7L194.7 1884.7L193.8 1888.7L192.9 1892.7L192 1896.7L191.3 1900.7L190.6 1904.7L190.1 1908.7L189.9 1912.7L189.8 1916.7L189.9 1920.7L190 1924.7L190.1 1928.7L190.3 1932.7L190.5 1936.7L190.7 1940.7L190.9 1944.7L191.1 1948.7L191.2 1952.7L191.3 1956.7L191.3 1960.7L191.2 1964.7L191.1 1968.7L190.9 1972.7L190.7 1976.7L190.5 1980.7L190.2 1984.7L189.9 1988.7L189.5 1992.7L189.1 1996.7L188.6 2000.7L188.1 2004.7L187.6 2008.7L187 2012.7L186.4 2016.7L185.8 2020.7L324.9 2020.7L324.9 2016.7L325 2012.7L325.1 2008.7L325.2 2004.7L325.3 2000.7L325.4 1996.7L325.5 1992.7L325.7 1988.7L325.9 1984.7L326 1980.7L326.2 1976.7L326.4 1972.7L326.6 1968.7L326.9 1964.7L327.3 1960.7L327.7 1956.7L328.1 1952.7L328.6 1948.7L329 1944.7L329.5 1940.7L330 1936.7L330.4 1932.7L330.8 1928.7L331.2 1924.7L331.6 1920.7L332.1 1916.7L332.5 1912.7L332.9 1908.7L333.3 1904.7L333.7 1900.7L334.1 1896.7L334.5 1892.7L334.9 1888.7L335.2 1884.7L335.5 1880.7L335.8 1876.7L336 1872.7L336.3 1868.7L336.5 1864.7L336.8 1860.7L337 1856.7L337.3 1852.7L337.5 1848.7L337.8 1844.7L338.1 1840.7L338.5 1836.7L338.8 1832.7L339.1 1828.7L339.5 1824.7L339.9 1820.7L340.2 1816.7L340.6 1812.7L341 1808.7L341.4 1804.7L341.9 1800.7L342.3 1796.7L342.8 1792.7L343.3 1788.7L343.8 1784.7L344.3 1780.7L344.8 1776.7L345.4 1772.7L346.1 1768.7L346.7 1764.7L347.4 1760.7L348.1 1756.7L348.8 1752.7L349.6 1748.7L350.3 1744.7L351 1740.7L351.7 1736.7L352.4 1732.7L353.1 1728.7L353.8 1724.7L354.5 1720.7L355.3 1716.7L356 1712.7L356.8 1708.7L357.5 1704.7L358.2 1700.7L358.9 1696.7L359.6 1692.7L360.3 1688.7L360.9 1684.7L361.5 1680.7L362.1 1676.7L362.7 1672.7L363.3 1668.7L363.8 1664.7L364.4 1660.7L364.9 1656.7L365.4 1652.7L365.9 1648.7L366.4 1644.7L366.9 1640.7L367.4 1636.7L367.8 1632.7L368.3 1628.7z" fill="#eceef2" stroke="#eef2ee" stroke-width="1.8" stroke-linejoin="round"/>
<g transform="translate(129.7 1632.7) scale(.5)" stroke-width="5.6" stroke-linejoin="round">
<path d="M175 377l8 15 10-6-5-12-5-2zM212 363l-15 9 5 13 1 0 12-6zM178 364l-1-5-11-8-8 3 13 14zM175 398l-7-15-3 1-4 16 6 1zM220 387l-11 5 3 13 6 3 6-10zM219 356l20 1-4-10-8-3zM186 420l0-1-8-12-5 2 1 10zM240 395l1-12-12 3 3 8zM194 335l9-8-3-10-7 4 1 13zM179 441l4-12-11 0-2 2zM146 428l16-2 3-3-2-13-7-2-8 3-1 6-1 8zM208 413l-13 8 0 1 13 8 6-14zM192 431l-5 15 5 5 8-3 3-10zM179 452l-14 9 4 9 3 1 14-13-6-6zM256 418l8-3 1-6-4-4-9 3-1 7zM155 346l8-3 3-9-2-3-7-1-1 7-1 8zM158 321l8 1 5-9-1-2-10-5-1 7zM144 448l14 6 13-8-9-10-17 1 0 4zM273 377l-1 3 13 9 4-2-7-13zM284 343l-7-12-9 8 1 4 14 2zM262 332l11-10-6-9-1 0-12 12 1 3zM175 488l-5-8-3-1-9 10 9 5 8-5zM143 458l0 7-1 8-1 1 11 7 8-8-5-10zM217 432l13 5 1 0 0-12-9-4zM241 471l-4 5 1 9 12-2zM275 435l0-4-8-7-7 2 0 9zM311 399l8-5 2-9-2-4-7-1-9 9zM212 484l17 6-1-11-11 0zM282 446l-1 4 8 13 2 1 4-4-2-11zM288 418l-8-9-6 2-1 6 7 7zM294 424l-10 8 0 5 12 3 6-5zM299 355l13-10-2-3-7-4-10 6-1 6 2 4zM284 325l6 10 7-5-2-7zM251 502l2-10-17 3 0 1 0 2zM259 508l1 3 6 2 5-2 3-10-2-5-8-6-1 0zM293 285l-6 10 11 3 4-9zM270 276l8 15 8-12-3-5-5-1zM312 291l-7 13 1 4 9 1 7-13-8-6zM317 406l10 14 6-4-1-9-9-5zM319 338l2 5 4 1 8-7-5-11-3-1zM318 372l6-15-2-4-4-1-11 9 6 10zM341 333l9 0 1-1-5-17-9 8zM324 430l-9 7 7 8 6-5zM126 566l16-5-1-17-3-2-10 2 0 1-1 8 0 7zM165 551l-2-12-13 5 2 16zM162 530l-1-5-15-5-2 15 2 1zM230 525l-5-12-7 3-2 6 8 7zM179 571l-6-11-2-1-12 8 6 10zM241 272l1 16 0 1 4 0 12-14zM286 472l-13 6-3 6 6 3 14-9-1-5zM367 392l-6-3-4 2-1 4 6 13 7-5zM359 360l-10 6 0 12 5 4 4-1 4-18-1-2zM207 520l2-7-7-7-8 4 5 12zM170 522l1 5 20 1 1 0-5-12zM282 506l-2 6 13 9 5-3 1-9-2-2zM219 537l-9-9-10 4-1 2 2 8 5 4 12-4zM232 255l-2-2-9 1-4 8 3 3 12-2zM210 235l10 10 9-1 1-6-11-8-2 0zM362 313l-7 1 4 13 7-2 2-7zM365 439l4-4 0-4-9-9-5 3 0 12zM187 567l13-7 0-7-4-3-13 8zM237 202l-1-16-14 3 2 7 11 6 1 0zM194 242l5-6-11-8-5 3 1 13zM215 198l-1-4-13 1-1 7 9 2zM262 182l1-1 1-5-5-8-2 0-6 9zM234 160l8 13 7-10-4-7zM273 178l-1 4 8 6 9-15-1-1zM305 251l3 1 9-7-7-15-6 3-3 11zM385 316l-8 4-2 7 8 5 5-8zM382 308l-5-12-4 1-4 9 5 5zM178 498l-7 4 0 10 14-5zM252 135l7-2 3-18-3-2-5 0-4 4-2 12zM275 157l-7 8 3 4 14-5zM356 462l4-1 4-6-1-7-11-3-2 1 0 11zM388 404l-2-16-10 4 2 9zM407 380l6 4 0-1 1-8 1-8 0-3-5 3zM341 259l7-7-6-9-3-1-6 5zM362 267l-5-10-1 0-10 10 5 9zM324 503l-1-1-15 8 0 7 13 7 6-4 1-3zM316 540l1-8-14-7-6 4-1 5 3 11 16-4zM293 129l9 6 11-7-1-2-11-8zM268 134l4 2 11-7-11-11-1 0zM254 564l0 1 13-8-5-9-8 0-3 4zM262 581l4 1 11-11-2-6-1-1-14 8zM210 139l1 10 9 0-1-8zM180 138l-1 6 22 9 1-1-2-12zM317 211l0 8 13 0 3-5-1-4-8-4zM272 109l12-10-1-4-11-3-6 15 2 1zM244 109l3-2-8-14-8 0-3 12zM375 477l4-2 4-11-12-2-3 4zM408 446l1-6 0-6-7 0-4 10 1 3zM303 553l6 12 7-1-2-13zM344 493l-11 8 3 11 11-4 3-8-1-4zM367 481l-7-10-2 0-7 15 2 2zM218 221l9-13-6-3-6 6zM365 220l9 11 7-6-4-9-11 0zM170 223l7 1 7-4 0-6-12-6 0 1-1 8zM393 348l3 9 9 2 11-6 0-2 1-5zM222 90l-4-4-6-1-17 16 15 7 8-2 1 0zM208 158l-1 2 0 5 7 3 8-9zM273 75l-1 6 1 1 12 4 2-11-9-5zM295 180l-7 14 4 3 4-1 5-11zM348 552l15-2 4-5 0-1-10-8-6 2zM354 573l10 1-3-15-9 1zM292 94l1 4 7 6 8-9 0-2zM288 121l6-9-5-5-8 7zM380 542l-3 2 0 1 10 8 13-2 1-8zM377 572l4-12-9-7-2 3 3 17zM349 517l-12 4 11 9 5-2 1-5zM284 56l-1 6 10 5 8-4 0-7-2-1zM235 581l6 6 12-3-3-11-1-1-15 6zM282 578l-8 9 8 8 5 0 4-10zM306 111l10 6 6-9-1-3-6-3zM332 89l-10-9-3 0-3 9 2 4 6 4zM379 485l3 11 8-3 0-6-7-4zM279 621l15-7-6-10-6 0-11 12 1 2zM340 95l-10 9 1 2 12 5 6-8zM322 127l9 5 9-10 0-2-12-5-7 9zM157 619l-9 4 6 7 6-3 1-3zM384 521l-1 12 19 0 1-6 0-2zM300 35l4 12 2 1 6-4-3-11-6-2zM338 42l-5 6 6 8 8 2 2-2 1-8-7-6zM321 42l5 0 4-5-5-15-7 8zM127 593l0 7 1 8 0 8 0 4 5-3 0-20zM312 24l5-6-13-13-3 7 4 10zM294 18l-8 4-1 6 7 1 4-4zM348 609l-1-4-3-3-9 0-2 9 5 3zM341 631l9 4 7-6-1-8-4-4-11 6zM203 569l-12 7 4 7 5 2 7-12zM350 201l-9 8 1 2 15 4 2-4-3-9zM169 630l6 6 6-3-2-10-9 3zM239 609l-8 6 0 1 1 2 13 1 5-4zM233 627l-2 10 13 4-1-13zM208 590l1 1 5 1 12-10-1-5-10 0zM189 655l1-13-3-1-10 4-2 8 4 4zM187 618l3 15 4 1 5-2 1-10-3-4zM407 279l14-14-7-2-7 3zM406 303l15 8 1-8 0-3-13-9zM384 273l2 5 12 0 0-13-7-3zM368 133l-5 2-3 13 1 2 14-6zM374 122l9-4 1-7-3-2-9 2zM393 133l-7-6-9 3 5 8zM368 103l10-3 1-8-9-4-6 12zM372 64l-16-1-2 2 1 4 11 6zM394 88l-6 4-1 10 3 2 13-3 1-1zM410 107l1 13 10 1 1-7zM251 648l-1 1-2 12 13 5 4-11 0-1-8-6zM305 199l7 4 7-5 0-12-9 1zM145 654l-16 1 0 1 0 8 0 8 0 2 3 0 16-7 2-9zM192 664l-10 2 0 2 6 9 7-4zM212 674l2-13-12 3 2 7zM173 664l-5-5-9 1-1 8 5 7 10-8zM361 613l14-9-6-6-12 8 0 3zM185 97l19-17-11-19-4 0 0 4-1 8-1 8-1 8zM385 605l8 12 0-2 1-8 1-8 0-1zM379 613l-14 8 1 6 19 7 6-1 1-2 0-1zM439 65l-4-1-9 12 2 5 1 0 14-9zM218 76l4-9-8-10-9 0-3 2 11 17zM385 196l-17-1-3 4 2 8 11 0 6-9zM255 26l0-3-12-5-1 0-1 13 10 1zM411 25l-1-2-8-6-10 11 2 4 2 1 14-6zM158 683l-6-7-11 4 10 9 1 0zM395 253l8 5 6-3-4-11zM443 35l-10 15 3 5 4 1 7-9-2-11zM404 210l8-5 1-3-6-8-2-1-11 3 0 2zM445 106l8 15 1-2 1-8 1-8 1-2zM458 23l-9-16-6 6 3 13 3 1zM404-2l2 10 8 7 9-8-4-9zM212 21l9-11-3-9-15 17 5 3zM317 674l-11 6 3 10 15-2 1-5zM465 30l-11 5 2 10 8 2 1-8 1-8 0-1zM456 0l11 21 1 0 0-6 1-8 1-8 0-1-14 0zM361 691l26-2 0-1 0-4-16-8-10 8zM447 158l1-7 1-8 2-8 0-1-18 3-2 6zM347 5l7 5 9-5 0-7-17 0zM137 770l37 0-19-14zM375 22l-3-8-4-1-9 5 8 7zM160 749l18 12-2-16-16 2zM248 11l9 3 7-8 0-8-12 0zM429 180l-13 11 4 5 21-6 1-7 1-3zM164 690l-4 4 5 7 6 0 2-5zM432 5l5 1 9-8-17 0zM287 673l-1-8-13-4-4 11 0 2 13 2zM304 713l-3 7 6 7 5 0 4-9zM284 704l-10 6 1 6 7 5 10-3 4-9zM200 753l-10-14-4 0-1 2 2 28 1 1 9 0zM186 730l3-1 4-5 0-8-11 0-2 6zM263 729l-1 5 5 10 10-10 0-5-7-5zM248 711l0 4 11 6 6-5 0-7-6-6zM294 727l-8 2 0 5 9 9 4-10zM244 670l-3 8 2 3 13 4 5-8-1-2zM221 674l12 0 2-5-12-5zM278 762l0 8 12 0-1-10zM252 770l17 0-1-10-3-3-10 6zM241 737l12-5 1-3-10-6-3 2zM398 126l4-3-1-12-8 2-1 7zM231 770l12 0 3-9-11-13zM241 690l-4 8 7 5 10-8 0-1zM369 719l5 13 11 1 0-5 0-8 1-6zM352 742l-8-10-3 0-3 5 3 8zM346 705l5 10 7-2-4-11zM413 169l-4 2 0 13 11-9zM225 748l-5-2-11 9-3 15 16 0zM319 760l-3 10 17 0-2-7zM299 754l-2 2 2 14 8 0 3-12zM161 719l11 0 2-7-2-2-7 0zM168 682l11 6 3-2 1-1-7-9zM324 723l-4 8 2 3 8-1 2-4z" fill="#0f3521" stroke="#0f3521"/>
<path d="M195 346l-9 11 1 7 4 1 14-9zM153 362l-1 7-1 5 9 3 4-3zM224 378l14-4 0-8-16 0zM244 344l4 10 8-1 4-6-1-6-7-4zM245 327l-12-6-5 11 1 3 8 3 9-8zM210 333l-8 7 10 10 8-12-1-2zM187 340l-13-1-2 5 8 6zM195 459l9 19 1 0 5-6-1-11-7-4zM212 440l-3 10 5 3 12-2 0-6zM249 399l9-3 2-9-10-1-2 12zM284 355l-17-3-2 5 7 11 10-4 4-6zM161 296l12 6 10-11-14-10-6 1-1 7zM257 308l-11-10-4 0-7 13 13 7zM241 460l8-5 0-9-13-2 0 1-1 8zM275 457l-8 4 4 8 8-4zM290 368l7 15 7-8-6-11-4-1zM295 413l9-8-9-11-6 3-2 6zM309 430l9-6-8-12-8 7zM136 505l1 0 11-15-8-6-1 5-1 8zM269 389l-2 9 4 4 7-2 2-4zM233 508l6 15 2 0 10-10-1-1-16-5zM304 317l0 1 2 11 6 3 5-11-1-2zM333 353l11 5 10-5-4-11-10 1-9 8zM298 470l2 7 13 1 6-11-1-2-16 1zM229 547l15-1 2-3-6-11-3 0-9 6-1 6zM350 417l5-3-6-12-8 5 1 8zM255 265l-2-10-12 2 0 6zM248 233l-9 6-2 8 1 1 14-2zM268 228l-1-1-10 4 4 12 10-2zM236 212l-9 12 8 6 8-4zM244 207l8 16 11-4-1-6-7-7zM330 299l-7 15 2 2 5 1 10-9-3-8zM370 369l-3 13 4 2 10-4-1-8zM384 349l-14 10 13 5 4-4zM338 271l-17 6-1 6 9 7 9 1 6-8zM390 339l28-2 0-2 0-1-23-5zM166 252l0 5-1 8-1 7 4 0 5-8 1-10zM267 205l8-9-8-6-1 0-4 10zM245 185l1 13 7-1 3-8zM234 177l-6-10-7 8 1 5zM200 186l14-1-2-8-9-3-7 6zM257 159l3 0 10-10-1-4-6-3-9 2-2 6zM213 251l-8-8-4 5 3 11 5 0zM147 569l-20 7 0 5 12 9 7 0 10-10-6-11zM278 144l1 4 13 10 6-6 0-9-9-6zM226 114l4 13 9-1 1-8zM184 107l-1 6-1 8-1 8 22 2 1-16-18-8zM307 221l0-10-9-6-3 1-2 13 7 5zM294 487l-12 8 1 2 11 1zM258 103l6-16-17 1 0 1 8 15zM398 456l0 1 9 11 0-4 1-8 0-1zM394 430l-4-6-11 7 0 2 12 4zM333 468l10 12 6-12-5-3zM173 198l15 8 2-3 3-12-6-7-12-2-1 3-1 8zM183 579l-12 5 5 11 1 0 9-9zM178 154l-1 7-1 8 0 3 13 3 8-9 0-5zM264 74l-13-9-1 0 0 14 13-1zM282 201l-10 12 0 6 1 1 11-2 2-14zM330 573l15-1-2-11-14 10zM342 537l-11-8-5 3-1 7 15 7zM323 548l2 14 11-8zM223 568l-1-15-2-2-11 3 0 7 5 6zM363 525l-1 4 10 7 1-1 2-16zM262 591l1 19 1 1 10-11-8-9zM310 64l7 7 4 0 9-11-5-9-7 0-8 5zM405 497l0-1 1-8 0-6-7 5 0 6zM232 569l12-5-2-8-10 0zM302 609l10-14-13-5-4 9zM173 604l-10 5 0 3 5 5 11-4-4-9zM337 141l15 3 2-10-8-5-9 10zM389 562l-3 11 11 5 1-3 1-8 0-7zM324 179l11-4 2-2-9-14-7 3zM275 29l2-9-8-6-5 7 0 3zM305 640l12-4-6-14-7-3zM253 593l-9 2-1 6 10 5zM249 56l3-6-3-9-11-1-1 0 8 17zM210 601l-5 12 2 3 15-3-9-12zM228 606l6-4 1-8-5-4-9 7zM424 290l0-3 1-8 1-6-11 11zM374 80l9 4 5-3-5-13-2-1zM412 77l-9 7 6 8 10-9-2-4zM265 642l4 4 9-8-3-9-4-2zM384 147l6 11 3 0 5-14-2-2zM389 476l5 3 7-5-9-9zM361 189l-3-16-1 0-12 4-2 2 8 13 7 1zM355 157l-2-4-17-3-1 3 9 14 10-3zM397 77l9-7-3-9-10 5zM428 59l-4-5-2 0-10 5 3 9 4 1zM327 618l-7 3 6 12 5-2 1-9zM435 88l6 9 17-7 1-3 0-3-9-5zM356 651l9 5 12-15-14-5-7 6zM383 187l-3-13-12 1 2 11zM349 18l-6-4-9 6 4 13 3-1 9-13zM419 31l6 14 7-11zM386 212l3 10 8 0 1-5-9-10zM213 30l-2 0-2 17 5 0 8-8zM190 52l5 0 4-2 3-22-7-5-2 0 0 2-1 8-1 8 0 8zM445 125l-8-14-6 4-1 10 1 3zM331 676l8-4 2-10-11-1-6 8zM336 696l4 1 12-4-1-8-8-5-9 4-1 7zM301 654l-6 9 2 9 3 1 10-6zM180 704l1 3 12 0-1-7-6-5-4 2zM306 705l15 5 7-10-2-3-18 3zM367 710l19-6 0-5-22 1zM329 715l10 8 3 0 1-2-6-15-2 0zM425 150l-1 1-4 12 9 8 15-1 1-1zM454 54l-7 7 6 9 8 4 0-3 1-8 1-7zM372 4l2 1 10-7-12 0zM374 667l14 7 0-2 0-8 0-1 1-8 1-8 0-4-3 0-15 19zM230 34l2-2 1-14-5-2-7 9zM276 652l12 4 6-8-10-3zM252 754l8-4-5-9-11 4zM362 746l4 12 19-12 0-2 0-2-13-1zM231 740l1-14-7-2-5 7 3 6 7 3zM295 623l-10 5 1 8 9 3zM230 704l-3 0-3 6 2 5 10 2 3-2 0-4zM405 162l6-1 3-10-8-2-4 11z" fill="#22b02c" stroke="#22b02c"/>
<path d="M185 401l8 11 10-6-4-13zM247 363l0 13 1 1 15 1 2-4-8-12zM184 321l-6-2-5 9 1 2 10 1zM226 314l-12-3-6 3 4 10 8 3zM194 291l9 15 5-3-1-12-8-2zM233 465l-5-6-10 3 1 8 11 0zM199 497l3-10-2-1-16 4 0 1 8 10zM296 307l-16-5-5 6 5 9 16-4 1-1zM265 303l2 0 5-5-9-16-9 11zM145 510l17 5 0-13-8-4zM261 482l3-7-6-12-3-1-6 4zM308 442l-6 5 1 10 13-1 0-3zM130 535l5-1 2-19-1-1-2 0-2 7-1 8zM263 538l-2-17-3-1-10 9 6 10zM227 499l-17-6-2 6 8 8 9-3 2-4zM171 536l4 14 1 1 15-9-1-4zM262 253l3 15 8-3-2-14zM280 249l2 15 3 1 11-11-2-5zM304 501l0 1 12-7-4-8-9 0zM293 240l2-9-8-5-9 2 2 12zM345 296l4 10 1 0 10-2 3-8-13-6zM359 337l-1 1 5 14 1 0 15-11-10-7zM367 416l7 7 12-8 0-2-11-3zM288 528l-14-9-3 2 1 12 15-3zM389 371l1 9 8-2 2-10-6-2zM402 387l-7 1 2 14 15-3 0-5zM389 455l1-4-1-4-14-5-3 4 1 7 15 2zM396 412l-1 4 7 9 8 0 0-1 1-8 0-1 0-6zM296 166l2 5 10 7 6-1-2-14-8-3zM301 569l-7-12-10 6 2 7 9 6zM320 483l5 10 2 1 10-7-11-13zM319 228l6 13 8-5-4-8zM351 223l-11-3-2 4 3 9 1 0zM358 248l11-9-10-11-9 11 7 9zM162 586l-8 9 6 6 7-4zM174 233l-5-1 0 1-1 8-1 2 7 2zM295 85l13-1 2-7-6-6-7 4zM374 582l0 8 7 7 14-10-15-7zM395 501l-12 5-1 3 0 2 1 1 21 4 0-5 1-4zM281 37l0 9 1 1 12-1-3-8zM275 53l-1 0-14 1-2 4 10 8 5-4zM341 456l0-8-6-2-10 8 0 5 2 2zM262 33l-4 5 2 7 12-1 0-7zM326 599l-3-3-1 0-11 16 3 1 10-4zM394 312l2 8 23 4 1-4-20-10zM401 287l-15 0-2 4 7 13 6-2zM129 646l14-1 4-9-9-11-9 5 0 2 0 8zM168 643l-5-7-7 3-4 9 4 3 10-1zM259 619l-7 7 2 13 2 0 8-17-1-2zM193 592l-9 10 3 7 9 0 5-13-1-1zM365 590l0-7-11-1-3 14 1 1zM357 283l13 5 6-1 2-5-3-6-6-2zM209 625l-1 8 11 6 3-2 2-14 0-1zM416 99l11 7 7-4-8-12zM223 654l16 7 2-12-14-4-3 2zM406 140l14 3 2-1 2-8-2-3-14-2-5 5 0 1zM198 655l16-4 0-4-11-7-4 2zM183 253l0 8 13 0-3-9zM406 52l9-5-4-10-9 4zM318 663l5-8-3-10-12 4zM329 641l3 11 13 1 2-1-1-9-10-4zM370 37l7 5 8-8-2-3-2-1-11 4zM379 239l9 8 13-12-3-4-10 0zM311-2l14 15 2 0 11-7-1-8zM420 22l16 3-2-10-5-1zM409 231l18-4-12-13-8 5-2 6zM229 45l-7 7 7 9 6-3zM422 205l-1 2 14 16 1-8 2-8 1-7zM218 683l0 3 7 9 3 0 6-10-1-2zM192 686l0 2 5 4 11-7 0-2-7-3zM355 676l9-7-1-4-11-6-2 2-2 12zM150 739l-26-4 0 2-1 8-1 8-1 8-1 8-1 1 3 0 28-22 2-5zM125 726l26 4 2-7-1 0-15-8-11 3 0 3zM152 698l-8 11 10 4 3-7zM395 2l-14 10 4 9 1 1 11-13zM355 27l-5 9 5 5 6-4 0-5zM238 10l1 0 3-12-16 0 4 9zM194 14l1 0 13-16-12 0 0 3-1 8zM296 682l-3-2-6 4 1 12 10 4 2-5zM278 685l-10-2-5 9 0 3 8 7 8-5zM359 766l-5-15-12 4-3 4 4 11 15 0zM218 701l-6-7-10 6 0 6 14-1zM212 734l-12-3-3 3 9 12 8-7zM202 715l0 7 11 3 4-7-1-4zM367 768l0 2 17 0 0-2 0-8 0-3zM304 746l9 4 2-10-3-4-4 1zM273 5l10 8 10-4 4-11-24 0z" fill="#1b9625" stroke="#1b9625"/>
<path d="M225 412l11 5 6-3 1-8-2-2-10 0zM188 299l-9 10 1 1 8 3 7-3zM150 384l0 1-1 8 0 8 3-1 3-15zM179 477l3 4 12-3-5-10zM240 435l11 2-1-12-4-2-5 2zM216 289l1 13 11 3 6-11zM258 444l0 9 3 1 11-7 1-3zM194 270l-14 0-3 5 12 9 5-3zM344 439l2-1 0-12-7-3-6 4 4 11zM328 378l12-1-1-11-7-3-6 13zM343 385l-13 2-1 7 7 5 11-7 1-3zM313 274l-7-13-3-1-11 11 2 4 15 7 2-1zM228 138l2 13 13-4 2-6-4-6-12 1zM324 251l-9 7 5 10 13-5zM210 224l-4-11-10-2-3 2 0 7 11 8zM307 143l0 8 9 3 10-4 3-5-1-4-10-6zM279 556l12-8-3-9-17 4 6 12zM377 267l7-12-10-8-9 7 6 11zM217 116l-3 0-2 14 9 2 1-1zM239 84l2-2 0-16-10 4-5 10 3 4zM232 273l-10 1-1 7 11 3zM303 581l16 6 1 0 2-9-2-5-11 1zM203 268l0 12 8 2 3-10-4-4zM342 593l2-11-14 0-1 7 4 4zM375 502l-5-12-12 6 0 1zM142 615l12-5 0-2-8-8-4 0zM357 107l-8 11 0 3 11 5 5-1-2-14zM339 83l7-12-1-4-8-1-7 9zM336 184l-8 3 0 10 8 4 6-6zM382 58l5 1 10-5-4-12-2-1-9 9zM358 506l-2 5 4 5 11-5zM381 164l2-1-6-10-13 6-1 6 1 1zM127 708l7-2 9-11-12-12-2 0-1 5 0 8-1 8 0 1zM429 259l0-4 2-8 1-8 1-4-19 5 4 14zM178 735l-5-7-12 0-2 7 1 3zM392 187l8-3 0-14-5-3-4 0-2 3zM359 49l0 5 14 1 0-5-8-5zM356 96l6-12-9-6-6 10zM322 751l10 2 1-3-3-8-6 1zM351 725l0 1 8 11 6-3-4-12zM282 743l-9 8 2 2 15-2 0-1z" fill="#fa3020" stroke="#fa3020"/>
</g></g>
</g>
<g id="micro-2">
<rect x="515.4" y="1632.7" width="76.4" height="382.6" fill="#ababab" stroke="#8e8e8e" stroke-width="0.8"/>
<clipPath id="cp2"><rect x="596.8" y="1630.9" width="357.1" height="385"/></clipPath>
<rect x="596.8" y="1630.9" width="357.1" height="385" fill="#000000"/>
<g clip-path="url(#cp2)">
<path d="M733.6 1626.9L733 1630.9L732.4 1634.9L731.8 1638.9L731.2 1642.9L730.6 1646.9L730.1 1650.9L729.6 1654.9L729.1 1658.9L728.6 1662.9L728.2 1666.9L727.7 1670.9L727.3 1674.9L727 1678.9L726.6 1682.9L726.3 1686.9L725.9 1690.9L725.5 1694.9L725.2 1698.9L724.8 1702.9L724.5 1706.9L724.3 1710.9L724 1714.9L723.9 1718.9L723.8 1722.9L723.7 1726.9L723.7 1730.9L723.7 1734.9L723.7 1738.9L723.7 1742.9L723.7 1746.9L723.7 1750.9L723.7 1754.9L723.7 1758.9L723.7 1762.9L723.7 1766.9L723.7 1770.9L723.7 1774.9L723.6 1778.9L723.4 1782.9L723.2 1786.9L722.9 1790.9L722.6 1794.9L722.3 1798.9L721.9 1802.9L721.5 1806.9L721.1 1810.9L720.6 1814.9L719.6 1818.9L718.3 1822.9L717 1826.9L715.8 1830.9L715.1 1834.9L715 1838.9L715.1 1842.9L715.2 1846.9L715.3 1850.9L715.4 1854.9L715.6 1858.9L715.9 1862.9L716.1 1866.9L716.4 1870.9L717.1 1874.9L718.3 1878.9L719.7 1882.9L720.7 1886.9L720.7 1890.9L719.9 1894.9L718.5 1898.9L716.7 1902.9L714.9 1906.9L713.3 1910.9L712.1 1914.9L711.4 1918.9L710.7 1922.9L710.2 1926.9L709.7 1930.9L709.2 1934.9L708.6 1938.9L708 1942.9L707.2 1946.9L706.2 1950.9L705.2 1954.9L704.1 1958.9L703 1962.9L701.9 1966.9L701 1970.9L700.2 1974.9L699.4 1978.9L698.7 1982.9L698 1986.9L697.3 1990.9L696.6 1994.9L696 1998.9L695.4 2002.9L694.9 2006.9L694.4 2010.9L693.9 2014.9L693.5 2018.9L834.2 2018.9L834.4 2014.9L834.5 2010.9L834.7 2006.9L834.9 2002.9L835 1998.9L835.2 1994.9L835.4 1990.9L835.6 1986.9L835.9 1982.9L836.2 1978.9L836.5 1974.9L836.9 1970.9L837.2 1966.9L837.6 1962.9L837.9 1958.9L838.2 1954.9L838.4 1950.9L838.5 1946.9L838.5 1942.9L838.5 1938.9L838.5 1934.9L838.5 1930.9L838.5 1926.9L838.5 1922.9L838.5 1918.9L838.5 1914.9L838.5 1910.9L838.5 1906.9L838.5 1902.9L838.5 1898.9L838.7 1894.9L839.1 1890.9L839.6 1886.9L840.2 1882.9L840.7 1878.9L841.2 1874.9L841.4 1870.9L841.6 1866.9L841.8 1862.9L841.9 1858.9L842 1854.9L842 1850.9L842.1 1846.9L842.3 1842.9L842.4 1838.9L842.6 1834.9L842.9 1830.9L843.6 1826.9L844.9 1822.9L846.5 1818.9L848.1 1814.9L849.5 1810.9L850.7 1806.9L852 1802.9L853.3 1798.9L854.5 1794.9L855.7 1790.9L856.9 1786.9L858.2 1782.9L859.5 1778.9L860.7 1774.9L862 1770.9L863.1 1766.9L864.3 1762.9L865.3 1758.9L866.2 1754.9L867 1750.9L867.8 1746.9L868.5 1742.9L869.1 1738.9L869.8 1734.9L870.4 1730.9L871 1726.9L871.6 1722.9L872.2 1718.9L872.8 1714.9L873.5 1710.9L874.2 1706.9L874.9 1702.9L875.6 1698.9L876.3 1694.9L877 1690.9L877.7 1686.9L878.3 1682.9L879 1678.9L879.6 1674.9L880.2 1670.9L880.8 1666.9L881.4 1662.9L881.9 1658.9L882.4 1654.9L882.9 1650.9L883.4 1646.9L883.9 1642.9L884.4 1638.9L884.8 1634.9L885.2 1630.9L885.7 1626.9z" fill="#eceef2" stroke="#f0f0f0" stroke-width="1.8" stroke-linejoin="round"/>
<g transform="translate(596.8 1630.9) scale(.5)" stroke-width="5.6" stroke-linejoin="round">
<path d="M458 118l14 14 9-7 1-2-4-13-1-1zM429 104l14 14 5-3-4-17-3-1zM481 101l0 1 2 1 24-10-2-8-14-6zM432 78l-14 0-3 7 9 12 11-6zM414 135l1 0-4-17-12 0-6 14 1 1 18 4zM516 180l4-23-8-3-4 1-2 2-4 18 5 5zM530 142l1-17-14 2 0 20 5 2zM463 86l12 9 9-19-19 0zM529 65l8-13-5-12-5 0-11 9 7 16zM496 181l-14 0-2 3 12 13 8-12zM488 206l-15-17-6 2 3 22 8 2 11-7zM464 67l20 1 0-1-10-18-6 0-2 1zM549 21l20 2 1-8 1-8 1-8 0-2-31 0zM527 163l-3 20 5 6 14 2 1-8 2-8zM418 103l-9-13-11 3-3 8 4 9 13-1zM408 144l-13-2-4 19 4 2 12-6zM515 271l1 11 7 4 2-8 3-7 2-8zM474 273l-6 3-6 20 12 5 11-7-6-18zM351 158l7-3 4-21-7-1-14 11 0 2zM372 182l3-14-13-6-9 4-4 11 12 10zM515 12l13 20 5 0 8-8-8-27-14 0zM325 171l11 6 5-2 4-11-10-11-12 5zM386 198l-11-9-10 5 0 4 13 14 8-6zM389 58l19 1 5-13-5-7-11-1zM419 204l12 7 2-1 4-18-11-7-8 4zM401 169l6 12 6 2 9-5 0-5-11-9zM433 42l5-15-13-16-10 24 4 6zM362 42l-4 0-11 17 7 7 2 1 13-11zM416 281l17-3 5-11-2-4-19 4zM413 256l2 3 20-4 1-4-18-12-4 1zM364 7l9 17 10-1 6-26-22 0zM349 215l1 5 3 3 18-6-11-12zM347 71l-7-8-14 8 1 18 10 3zM309 128l-3-3-10 5-2 11 8 9 5-2zM345 95l19 2 2-13-10-9-1 0zM340 13l17-8 1-8-27 0zM328 204l-9 4 1 16 2 1 19-6 0-4zM288 213l10 13 14-3-1-14-4-2zM323 244l-1 2 6 21 8-1 1-16zM298 185l-14 5 3 15 15-5zM374 225l-18 6 0 7 8 6 14-6zM317 72l-4-2-15 6 0 6 21 5zM329 275l-3 19 3 2 15-5 2-3-6-13-1-1zM371 285l3-9-12-8-13 6 4 10zM300 295l4 4 14-5 3-19-19 1-5 5zM346 324l3 5 9 5 2-1 8-16-2-3-11-1zM322 358l1-7-12-12-10 5-1 2 9 15zM258 312l11 8 16 0 13-16-3-3zM440 49l4 15 12 1 1-13zM259 185l0 7 0 25 20-8-3-19-9-6zM386 242l5 14 14-2 1-14zM500 340l-21 18 0 8 15 10 1-2 3-8 2-8 3-8 2-8 1-2zM265 99l21-8 4-7-1-8-21-1-1 6-1 8 0 7zM437 395l10-5 2-11-9-10-11 2-7 12zM418 350l0 3 10 10 10-2 4-14-13-7zM379 269l5-9-5-14-12 5 0 10zM422 328l-21 0-1 6 14 9 10-9zM275 244l12-2 4-11-10-14-22 9 0 7zM486 412l0-4 1-4-25-2 3 19zM257 386l19-2 5-11-8-13-20 6 0 3-2 8 0 1-2 3zM338 373l-6 16 10 8 7-2 4-19-3-3zM332 145l0-2-11-12-4 0-2 18 4 2zM273 39l17 9 8-4-2-14zM280 356l7 12 15-3-9-14zM259 278l13-7-2-21-11-7 0 29zM403 437l4 3 13 1 3-8-15-12-6 6zM457 435l-7 18 8 9 3 0 8-15-11-12zM435 486l-15 10 8 13 1 0 16-12-7-11zM411 233l5-2 9-14-11-6-8 4zM291 399l-1 17 2 1 17-3-1-16-1-1zM330 417l6-15-10-7-9 4 1 17 0 1zM420 540l10-15-4-9-16 12zM404 522l16-11-8-13-6-2-9 11zM390 475l12 9 5-14-6-5-11 4zM366 505l-13 9 8 19 8-2 4-22zM380 512l-3 21 6 2 13-10-6-14zM351 403l-7 2-7 15 7 6 10-6 2-11zM340 442l0-9-9-8-11 0-3 22 2 2 14-1zM247 389l-2 5-2 7-1 7 0 8 0 8 0 1 16-8-6-24zM242 434l0 6 1 8 0 8 0 6 2 0 21-20-2-18-1-1zM453 590l5 15 4 1 16-11 0-9zM420 579l3 18 1 0 17-13-2-5-16-3zM251 502l0 1 2 8 0 1 0 8 0 1 0 2 23-2 3-6-2-11zM368 569l-9-4-10 6 0 6 9 12 13-7zM399 602l11 1 5-4-3-18-12-2-7 9zM360 597l-1 6 11 9 16-2 5-6-6-13-9-3zM324 592l18 14 9-4 1-7-8-11zM304 549l0 7 11 10 11-9 0-3zM411 624l-3-13-11-1-4 5 3 14 7 3zM249 536l11 16 7 3 14-17-5-9-25 2zM375 400l4-5-15-17-3 0-4 20 5 5zM378 420l-4-11-10 2-2 9 10 5zM383 659l-1 2 8 17 14-4 1-3-2-10zM385 618l-13 2-2 18 6 4 12-11zM404 652l-3-12-8-3-11 11 1 3zM430 700l13 12 7-6-7-12-8 0zM288 565l8-9 0-9-8-4-14 17zM281 605l5-6-2-6-18-3-2 2 5 11zM262 584l4-20 0-1-7-2-20 24 19 2zM281 622l-2-9-10-2-5 10 12 5zM232 593l0 3 21 25 2-1 7-13-6-12zM243 663l16-9-11-16-7 4-2 18zM442 663l13 10 21-3 0-6 1-8 0-3-34 7zM276 659l4 20 5 3 13-8 0-1-5-16zM341 663l-7 1-1 2 1 23 2 1 16-2 1-1-1-12zM301 654l4 14 21-6 1-2-7-9zM243 674l-8 14 7 13 7 0 6-12zM217 666l-2 7-2 8 15 2 8-15-3-2zM209 704l21 2 4-3-6-11-16-3-2 8zM249 709l-9 0-5 3-2 21 3 3 14-6 2-17zM450 690l8 13 15 0 1-7 0-8 1-8 0-2-19 3zM358 693l6 20 13 2 6-13-2-7zM307 676l12 13 7-1-1-17zM384 719l21 7 3-4 0-12-18-3zM360 746l13-6 3-17-14-2-9 7zM208 712l0 1-2 8-1 8 20 2 2-17zM324 735l-11 8 2 28 17 0zM296 733l12 4 11-9-13-11zM305 745l-15-6-3 1-2 3 17 28 5 0zM278 748l-6 1-11 22 31 0zM426 757l-5 14 20 0-1-8z" fill="#0a1c12" stroke="#0a1c12"/>
<path d="M478 153l22-2 1 0-17-18-9 7-3 9zM507 102l-20 8 2 9 17-2zM490 127l18 20 1 0 0-21-1-2zM442 72l-2 3 4 14 3 1 8-5 2-12zM475 176l-3-16-6-5-8 2 0 26 4 1 10-3zM562 77l1-6 1-8-21-6-7 12 9 10zM515 101l-1 18 1 0 18-3 2-1-5-11zM430 178l12 7 8-2 0-26-2 0-7 1-11 14zM482 47l7 13 12-13-9-8zM513 224l-2 13 23 10 1-8 2-8 0-1zM507 263l3 2 20-11-23-9-2 1zM371 133l-5 22 14 6 2-1 5-22-1-2zM386 128l6-14-4-8-15 2 0 18zM372 99l15-2 3-6-6-7-10 2zM497 160l-16 1 2 12 11-1zM528 155l19 11 1-7 2-8 0-1-14-2zM470 253l-20-6-5 4-2 7 2 5 19 6 6-4zM386 168l-2 1-4 14 10 7 9-6-6-13zM475 6l17 15 15-10 4-14-37 0zM357 194l-14-11-4 2-6 13 12 10 12-11zM385 32l-12 0-4 5 7 16 6 1 8-19zM420 49l-5 14 3 7 15 0 3-3-5-17zM375 62l-11 9 8 8 10-3 1-12-1-1zM391 26l5 4 11 1 12-28-1-6-20 0zM394 198l0 8 7 3 9-5 0-14-5-1zM460 276l-15-4-4 10 10 15 3-1zM381 220l5 14 16-2-4-16-8-3zM325 46l-10 5 2 12 4 1 12-7zM311 199l4 2 10-5 6-12-10-6-15 5zM337 136l11-8-8-11-11 10zM303 175l14-4-2-13-5-2-6 2-4 9zM325 233l0 3 16 6 7-4 0-8-4-4zM315 230l-16 4-4 10 4 3 16-5 2-3-1-7zM296 68l13-5-2-11-4-2-8 5zM308 306l8 15 13-4-4-14-4-2zM327 344l13-13-2-4-4-2-16 5-2 3zM261 150l0 2-1 8 0 8-1 8 7 0 9-12-4-11zM289 148l-10 4 4 9 10 1 3-7zM475 373l-18 8-2 10 3 3 29 2 1-5 0-1 3-6zM304 24l-1 2 3 17 4 2 12-7 1-5zM447 340l6-3 1-2-11-23-10 4-3 8 2 8zM410 353l0-2-14-10-9 8 0 8 9 5zM331 359l5 6 12 0 5-25-7-3-15 15zM377 295l-5 15 3 3 16 0 2-7zM391 322l-16-1-7 14 14 8 10-9 1-9zM451 305l-1 2 10 22 12-7-1-13-14-6zM254 357l18-5-8-26-7-4 0 6-1 8-1 8 0 1 0 8zM391 264l-4 7 21 8 1-15-2-2zM401 307l-3 10 2 3 23 0 2-6-15-14zM382 278l-3 9 19 12 9-7 1-5zM440 403l3 20 11 5 3-1 1-1-5-26-3-2zM333 19l-11-22-5 0-8 21 18 8 6-4zM325 97l-14 21 0 1 4 3 7 1 14-14 0-9zM410 410l19-10-13-12-12 3-1 2zM356 305l9 1 4-13-16 0-1 2zM288 376l-4 11 5 4 15-2-2-15zM476 451l-7 14 9 10 6 2 0-5 1-8 0-8 0-5zM453 495l1 0 16-16-8-9-4 0-12 13zM370 491l0 7 8 5 12 0 8-11-12-10zM431 451l12-1 5-16-9-3-8 4-4 9zM314 455l-3-2-14 1-2 7 9 13 8-3zM378 444l16-8 0-8-10-3-7 6zM337 538l16-3-8-19-2-1-11 11zM285 422l-13 3 2 15 13 2 0-19zM449 582l29-4 0-8-27-6-4 12zM307 541l20 5 2-4-5-14-7-1zM326 489l0-1-11-9-10 3-2 6 10 9zM424 551l2 17 13 3 5-11-1-3zM287 459l3-8-18-3-17 15 17 6zM337 546l-3 5 1 5 10 8 9-6 0-15zM341 576l0-5-10-7-12 10-1 6 3 4zM387 583l7-9-2-13-5-3-11 9 3 14zM294 597l13 5 8-10 0-2-3-4-17 1-3 4zM298 479l-8-11-11 7 7 14 8-3zM436 646l4 6 32-7-6-5-26-5-3 2zM341 622l15 16 6-1 2-19-10-8-9 4zM234 578l18-23-7-10 0 1-4 8-3 8-2 7-2 8zM419 697l3 0 6-8-3-11-13-2-1 1zM416 720l21 4 1-5-15-14-4 1-3 2zM365 644l-8 2-9 12 9 10 17-9 1-4-2-5zM286 585l2-3-3-9-11-4-4 14zM376 667l-15 8 0 10 20 2 2-4zM230 607l0 2-1 8-1 8-2 5 11 5 8-5 2-3zM289 622l7 2 9-6-1-8-13-5-4 5zM269 651l3-18-14-6-3 2-2 4 15 18zM327 646l7 9 7 0 8-12-14-15-7 3zM294 649l-2-17-6-3-6 4-2 17zM204 737l-2 8-1 8-1 8-1 8 0 2 31 0 1-28-4-4zM301 682l-11 7 2 10 12 6 9-11zM347 723l9-8-5-19-12 2-1 23zM478 543l-24 5-4 6 1 2 27 5 0-17zM423 748l10-16-19-4-4 4 1 7zM390 748l13-9-1-6-19-6-1 14zM260 716l-2 15 12 10 8-2 2-3-8-19zM238 771l14 0 12-24-11-9-14 6zM444 619l0 8 19 4-4-17-4-1zM418 755l-11-9-12 9 0 16 17 0z" fill="#22b02c" stroke="#22b02c"/>
<path d="M452 97l3 14 17-9-13-9zM423 138l16 12 5-1-5-19zM492 71l15 6 8-9-7-16-16 16zM543 111l13 2 1-2 1-8 1-8 1-8 1-2-15 2-8 14zM547 29l-8 8 5 12 21 6 1-8 1-8 1-8zM445 193l-4 19 9 6 12-5-4-22-4-1zM522 193l-5-4-10-1-11 17 1 3 11 4zM467 220l-14 5 0 14 20 6 3-4-2-18zM469 40l6 1 13-9 0-4-16-14-6 10zM446 29l-5 12 19 3 2-1-4-16zM515 216l23 6 1-7 2-8 1-8-13-2zM482 247l-4 4 1 15 4 2 16-5-2-15zM423 109l-5 5 4 16 14-8zM365 126l0-20-20-3-1 6 12 15zM390 78l6 7 12-3 3-8-3-7-17 0zM541 119l-1 3-1 19 12 1 1-7 2-8 1-6zM493 290l15-8-2-10-3-2-15 5zM509 43l1 0 10-8-10-16-14 9 0 4zM433 219l-9 14 17 11 4-4 0-15-9-7zM425 165l7-10-15-12 0 1-2 13zM341 54l9-14-14-11-5 4-1 6zM427 2l17 19 15-2 8-12-1-10-39 0zM293 170l-11-1-8 10 6 4 15-6zM297 90l-3 4 12 16 10-15zM490 301l-11 7 1 13 19 11 10 0 1-6 1-1zM344 267l14-6 1-10-7-6-7 4zM461 339l14 12 16-15-14-7-15 9zM303 255l1 12 15 0-4-16zM456 345l-6 2-4 17 8 9 17-7 0-8zM291 275l5-5-1-16-6-4-11 1 2 19zM404 382l11-2 6-12-7-8-13 8zM264 111l28 12 10-5-14-18-23 9zM288 68l-1-12-16-9 0 2-1 8-1 8 0 1zM309 370l3 21 1 0 11-4 6-17-5-4-16 3zM287 130l-23-10-1 0 0 8-1 8 0 5 12 5 12-6zM397 421l6-6-8-18-9 1-4 7 4 13zM465 430l11 13 9-1 0-2 0-8 1-8 0-3zM477 484l-17 17 1 1 20 3 1-2 1-8 0-7 1-3zM423 469l-9 3-5 17 5 1 15-10zM434 515l3 7 8 2 9-6 0-11-2-3-1-1zM462 511l0 7 16 13 1-3 0-9 1-6zM451 530l3 10 17-4-13-11zM436 530l-8 14 16 5 3-5-4-12zM379 452l8 9 11-4 3-11-3-3zM345 507l2 1 15-10-1-8-7-8-11 0-8 7-1 2zM372 457l-4 0-7 20 5 7 16-9 0-7zM312 422l-17 3 1 21 13-1zM391 550l5 4 18-8-12-15-14 11zM451 465l-7-7-12 1-2 5 7 14 2 0zM513 289l-16 8 17 19 1-6 3-8 2-8zM337 477l-6-20-9 0-2 15 11 9zM345 449l-6 5 6 20 8 0 7-18zM273 30l23-8-19-16-1 3-1 8-1 8zM286 519l-3 6 6 10 10 4 11-17-2-4zM248 493l30 3 2-2-10-17-24-7-2 0 0 2 0 7 2 8zM362 541l0 17 8 3 12-10-2-8-9-4zM312 608l2 10 11 6 8-5 4-7-17-13zM421 605l-5 4 3 13 14 8 2-2 1-10-12-13zM428 644l1-7-13-7-7 8 3 11zM413 668l14 2 7-7 0-5-4-6-18 5-1 1zM433 676l3 10 8 0 5-8-11-8zM231 658l2-16-8-4-1 3-2 8-2 8zM262 692l-6 13 3 3 14 1 11-9-2-11-6-3zM311 710l16 13 3-1 1-25-2-1-9 2zM334 303l4 14 2 2 8-11-3-8zM353 751l-8-20-11-2-3 1 9 41 5 0zM300 712l-11-6-9 9 7 17zM441 735l-10 15 12 5 13-10z" fill="#1b9625" stroke="#1b9625"/>
<path d="M446 125l6 24 2 1 10-3 3-9-16-15zM515 92l16 4 8-12-10-11-7 0-9 10zM493 215l-11 7 2 17 16 1 3-2 2-18zM366 28l-8-15-17 8 0 2 16 11 5-1zM310 327l-8-15-10 13 7 10 9-4zM258 304l33-10-2-12-12-4-18 10 0 8zM415 293l16 15 11-4 2-3-10-14-18 3zM279 347l13-4 1-2-8-12-12-1zM378 350l-16-9-1 0-5 26 3 3 5 0 15-13zM397 386l-5-17-8-5-12 11 14 15 10-2zM279-3l22 19 8-19zM266 416l2 1 14-3 1-17-5-4-17 1zM358 427l-10 6 1 8 17 9 4-2-2-16zM429 427l5-3-2-17-16 9zM406 459l6 5 10-3 2-6-3-6-13 0zM318 519l8 1 11-10-9-13-12 7-2 9zM308 503l-11-9-10 3-2 4 1 10 20-1zM414 573l4-3-2-16-16 7 2 10zM311 573l-10-10-8 8 2 8 15-1zM445 591l-13 11 9 10 9-6zM467 613l5 21 6 6 0-8 0-8 0-19zM388 691l2 8 21 3 1-1-8-19-13 5zM310 625l-10 6 2 15 17-3 1-12zM266 659l-17 10 12 15 11-5-4-19zM457 711l-11 8-1 8 19 13 7 1 0-5 1-8 0-8 0-8 0-1zM386 755l-9-7-16 7-7 16 33 0zM464 749l-16 12 2 10 20 0 0-3 0-8 1-8 0-3z" fill="#fa3020" stroke="#fa3020"/>
</g></g>
</g>
<g id="micro-3">
<rect x="980.3" y="1633.8" width="76.2" height="382.1" fill="#ababab" stroke="#8e8e8e" stroke-width="0.8"/>
<clipPath id="cp3"><rect x="1061.4" y="1632.7" width="357.1" height="384.9"/></clipPath>
<rect x="1061.4" y="1632.7" width="357.1" height="384.9" fill="#020804"/>
<g clip-path="url(#cp3)">
<path d="M1226.7 1628.7L1225.6 1632.7L1224.5 1636.7L1223.5 1640.7L1222.5 1644.7L1221.5 1648.7L1220.5 1652.7L1219.6 1656.7L1218.7 1660.7L1217.8 1664.7L1217 1668.7L1216.3 1672.7L1215.5 1676.7L1214.8 1680.7L1214.1 1684.7L1213.4 1688.7L1212.8 1692.7L1212.1 1696.7L1211.5 1700.7L1210.9 1704.7L1210.3 1708.7L1209.7 1712.7L1209.1 1716.7L1208.6 1720.7L1208 1724.7L1207.4 1728.7L1206.9 1732.7L1206.4 1736.7L1205.8 1740.7L1205.3 1744.7L1204.8 1748.7L1204.4 1752.7L1203.9 1756.7L1203.5 1760.7L1203 1764.7L1202.6 1768.7L1202.2 1772.7L1201.7 1776.7L1201.3 1780.7L1201 1784.7L1200.6 1788.7L1200.2 1792.7L1199.9 1796.7L1199.6 1800.7L1199.2 1804.7L1198.9 1808.7L1198.5 1812.7L1198.1 1816.7L1197.8 1820.7L1197.5 1824.7L1197.3 1828.7L1197 1832.7L1196.9 1836.7L1196.8 1840.7L1196.8 1844.7L1196.9 1848.7L1196.9 1852.7L1197 1856.7L1197.2 1860.7L1197.3 1864.7L1197.5 1868.7L1197.6 1872.7L1197.8 1876.7L1198 1880.7L1198.2 1884.7L1198.4 1888.7L1198.6 1892.7L1198.9 1896.7L1199.2 1900.7L1199.5 1904.7L1199.8 1908.7L1200.1 1912.7L1200.4 1916.7L1200.7 1920.7L1200.9 1924.7L1201.1 1928.7L1201.3 1932.7L1201.5 1936.7L1201.7 1940.7L1201.9 1944.7L1202 1948.7L1202.2 1952.7L1202.3 1956.7L1202.4 1960.7L1202.5 1964.7L1202.6 1968.7L1202.6 1972.7L1202.6 1976.7L1202.6 1980.7L1202.6 1984.7L1202.6 1988.7L1202.6 1992.7L1202.6 1996.7L1202.6 2000.7L1202.6 2004.7L1202.6 2008.7L1202.6 2012.7L1202.6 2016.7L1202.6 2020.7L1310.2 2020.7L1310.4 2016.7L1310.5 2012.7L1310.7 2008.7L1310.8 2004.7L1311 2000.7L1311.2 1996.7L1311.4 1992.7L1311.5 1988.7L1311.7 1984.7L1312 1980.7L1312.2 1976.7L1312.5 1972.7L1312.7 1968.7L1312.9 1964.7L1313 1960.7L1313 1956.7L1312.6 1952.7L1312 1948.7L1311.2 1944.7L1310.3 1940.7L1309.6 1936.7L1308.9 1932.7L1308.6 1928.7L1308.4 1924.7L1308.2 1920.7L1308 1916.7L1307.8 1912.7L1307.7 1908.7L1307.5 1904.7L1307.4 1900.7L1307.3 1896.7L1307.3 1892.7L1307.2 1888.7L1307.2 1884.7L1307.3 1880.7L1307.6 1876.7L1307.9 1872.7L1308.1 1868.7L1308.4 1864.7L1308.6 1860.7L1308.7 1856.7L1308.6 1852.7L1308.4 1848.7L1308.1 1844.7L1307.8 1840.7L1307.4 1836.7L1307 1832.7L1306.6 1828.7L1306.2 1824.7L1306 1820.7L1305.8 1816.7L1305.8 1812.7L1306.1 1808.7L1306.9 1804.7L1308 1800.7L1309.3 1796.7L1310.6 1792.7L1311.9 1788.7L1312.9 1784.7L1313.9 1780.7L1314.8 1776.7L1315.7 1772.7L1316.6 1768.7L1317.4 1764.7L1318.1 1760.7L1318.7 1756.7L1319.1 1752.7L1319.4 1748.7L1319.7 1744.7L1320 1740.7L1320.2 1736.7L1320.5 1732.7L1320.7 1728.7L1320.9 1724.7L1321.1 1720.7L1321.4 1716.7L1321.7 1712.7L1322 1708.7L1322.4 1704.7L1322.7 1700.7L1323.1 1696.7L1323.6 1692.7L1324 1688.7L1324.4 1684.7L1324.8 1680.7L1325.3 1676.7L1325.7 1672.7L1326 1668.7L1326.4 1664.7L1326.8 1660.7L1327.1 1656.7L1327.5 1652.7L1327.8 1648.7L1328.1 1644.7L1328.5 1640.7L1328.8 1636.7L1329.1 1632.7L1329.4 1628.7z" fill="#eceef2" stroke="#f4f4f4" stroke-width="1.8" stroke-linejoin="round"/>
<g transform="translate(1061.4 1632.7) scale(.5)" stroke-width="4.8" stroke-linejoin="round">
<path d="M477 382l-8-2-3 4 1 3zM482 411l-5 7 1 5 9 7 0-5-1-8 0-7zM482 512l-3 7 6 4 0-3 0-8 0-2zM456 371l-2 8 4 0 4-5-2-5zM455 398l6-5-3-5-9-1-1 1zM435 387l5-2 0-1-8-9-1 1 0 8zM448 360l4 2 5-2 0-4-6-3-2 0zM423 402l5 0 2-8-5-3-4 1zM425 430l8 6 3-11-1 0zM448 427l-3 1-3 9 5 1 4-4zM459 431l10-7-1-3-10-2-3 4zM480 310l-1 0-2 6 6 5 9-3zM472 322l-1 1-3 7 4 4 5-1 0-6zM488 293l-1-3-11 3-1 4 3 4 1 0zM504 260l-2 3 3 5 1-5 0-3zM424 450l3-7-7-6-3 2-1 10 2 2zM451 301l4-4-6-7-3 2zM452 325l4 3 3-1 3-5-9-4zM443 306l-6-11-3 2-1 6 3 3zM470 452l-3 4 1 4 20-1 0-3 0-5zM467 469l-1 1 2 5 2 1 14-8zM480 341l-5 2 0 1 8 6 2-7zM482 635l5 3 7-6-12-1zM457 346l4 2 5-4 0-3-5-5-2 0zM473 231l5 9 5-7-3-4zM436 274l-1 0 4 12 6-4 0-2zM477 273l-2 0-2 5 3 6 9-3zM454 278l11-4 1-3-6-5zM478 221l3-9-7-2-4 7 1 5zM461 220l-6-2-3 7 3 4 8-4zM458 441l-5 4 1 3 6 2 2-2zM453 483l1 1 5-7-1-3-6 0-1 2zM398 404l-1 0-5-3-3 2-1 7 1 1 5 1zM382 430l0 1 10 1 2-2 0-7-1-2-5-1zM463 493l5-5-1-4-1-1-5 6zM451 521l4 1 5-2-5-7zM441 509l2 7 5-8-4-1zM431 532l5 0 3-8-1 0-6 1zM396 387l0 6 4 2 3-5zM432 511l-5-1-2 3 4 4 5-1zM416 529l6 1 1-7-3-3zM446 247l3 7 8 3 1-4-6-9zM419 358l0 7 8 3 2-1-5-9zM407 445l1-5-8-3-1 1 1 7zM473 595l0 5 4 1 3-8-4-1zM436 563l9-4-4-6-8 5zM423 338l-4 6 1 5 5 0 6-6zM439 625l10-1-4-7-4-1-3 6zM462 642l-5-5-2 7zM458 656l4 2 5-4-1-4-8 3zM438 635l3 5 6 0 2-7-10 1zM413 478l-4-8-6 1 2 8 5 2zM397 337l-9 4 1 3 4 2 4-8zM385 370l5 6 1 1 4-6-3-5-6 3zM442 649l1 5 6 1 0-4-1-2zM428 656l5 3 2-2-1-4zM457 685l-4-1-5 9 3 1 7-6zM370 383l3 2 8-6-3-3-6 0zM399 640l1 7 10-3 0-5-1-2zM423 671l7-1 0-3-8-4-2 2zM389 451l3-3-2-7-6-1-2 5 6 6zM453 576l-1-6-3-3-7 4 2 6 6 3zM417 573l10-8-3-6-2-1-4 0-4 13zM496 252l-8 3 0 2 7 1 2-4zM423 613l8 3 3-5-3-7 0-1-3 1zM419 303l5-2 1-5-6-3-7 4 0 4zM382 471l9-6-2-5-1 0-6 5zM366 442l4 3 3-2 2-5zM409 501l0 4 8 4 3-5 0-1-8-6zM442 607l4 1 3-4-2-4-7 3zM407 601l9 7 3-6-5-3zM396 582l2-6-4-3-7 4 2 5zM387 552l5 2 1-2-3-7-4 1zM448 263l-5 5 4 3 4-7zM426 698l-1 2 6 9 1 0 4-11-3-2zM454 713l2 3 7-4-7-2zM442 709l4 0 3-5 0-1-5-2zM396 624l0 8 10-4zM373 601l-4 9 8 4 0-1-1-11zM384 648l7-1-1-7-5 1-2 3zM398 597l-2-6-6 0-2 4zM378 593l4-6-4-8-5 4 2 10zM483 667l-3 8 4 3 6-7zM379 392l5 3 3-2 0-7zM453 187l-11-3-1 4 9 8 3-3zM435 207l9-4-7-7-2 2zM470 190l-3-9 0-1-2 1-4 4 1 7 6 2zM366 593l-2-8-4-1-4 6 1 1zM337 614l2-4-5-4-6 7 1 1zM328 625l4 4 9-2-3-4-9 0zM339 598l6 6 2-1 2-7-1-2-6 0zM334 644l6 1 0-9-6 1zM348 647l8-2 2-5-1-4-3-3-4 0zM411 713l8 5 4-5-4-6zM401 703l4 4 6-6-7-3zM425 726l11 3-3-11-2 0-6 7zM474 173l9-2-6-6zM486 185l0-4-1-1-8 1 1 5zM457 176l-5-8-6 2-1 5 10 3zM480 698l7 2 6-3-8-7zM464 733l3-1 2-10-1-2-9 5-1 3zM435 595l12-5 0-1 0-1-6-2-6 5zM370 394l0-1-5-3-1 0-1 9 2 1zM365 411l-1-2-5-2-2 2 5 7 1 0zM384 333l7-3-5-5zM444 742l6 5 5-1 3-2 1-4-7-6-8 2zM387 657l2 5 6-1 0-6zM401 351l11 0-1-5-6-2zM388 696l4 4 6-9 0-3-9-1-1 0zM351 402l3-2 1-9-4-1-3 1-1 2zM381 291l4 4 4-7-7-3zM354 302l5 7 4 0-3-8zM365 317l-5 1-2 3 2 4 2 0zM310 618l7 6 3-2 1-3-1-3-7-3zM357 281l-1 0-8 6-1 3 3 4 8-2zM366 283l1 7 5-1 1-3zM465 756l-4-3 1 17 4 0zM320 560l-2 6 9 4 2-9-4-2zM307 588l2 10 6-7zM494 203l10-6-9-2zM396 534l9-2 1 0-11-7zM394 709l-4 7 3 7 3 1 6-9zM372 704l7 7 3 0 3-5-3-3zM374 727l6 5 4-5-2-7-3 0zM321 308l4 4 3-2-1-9-6 5zM342 362l1 1 7 2 6-2-5-6zM331 289l7-1 1-3-8-9-1 0-6 4zM329 391l10-2-6-5-4 1zM380 403l-4-2-4 4 1 1 6 1zM438 219l6 2 4-8-1-2-10 5 0 1zM423 183l-2 7 8 1 3-3 0-2zM417 219l10-3-9-3zM379 501l-7-4-4 5 8 4 3-1zM387 520l1-1-6-5-4 1-4 8 0 2zM345 555l5 3 2-8-5-2zM405 186l8 0 1-5-5 0-4 4zM426 166l-1 8 11 3 1-8-5-5zM406 195l1 5 4 1 3-6zM448 235l-4-5-6-1-2 7 5 4zM449 725l1-2-3-5-5 0 3 8zM413 754l1 2 7 2 4-3 0-3-6-4zM396 168l0 8 4 2 2-3-3-6zM420 204l6 2 0-6-4-1zM391 221l4-3-1-6-5-1-2 2zM351 540l6 3 0-6-3-1zM334 431l6-7-2-7-1 0-8 7 0 3zM286 593l0 7 13-3-1-8-5 0zM407 687l0 2 11 6 0-1-3-8zM370 696l9-2 0-5-6 0-4 4zM387 270l-1 7 9 3 1-3zM485 152l-1 1-3 4 6 6 5-5zM324 527l-1 5 5 5 4-1 0-6zM302 328l-3 5 6 5 6-5zM308 391l12 1 0-5-9-2zM320 414l4 3 5-5-4-8zM467 142l-5 7 0 1 11 3 2-4zM418 154l5 3 7-1 1-3-5-7zM439 158l4 4 8-3 3-5-1-3-3-1-11 6zM383 226l-4-9-6 0-2 8 10 3zM375 297l-6 2 2 6 6-5zM362 508l-2 3 1 3 6 3 2-4zM355 477l0 4 11-2-4-3zM366 722l5-6-4-4-3 5zM375 261l-3-7-2 0-3 3 3 5zM384 261l1 0 6-9-8-4-2 2zM394 152l2 7 5 1 8-6-3-3zM300 368l-2-7-5 0 1 8zM308 404l5 4 3-7-7-1zM399 258l-5 6 8 6 3-2zM328 680l0 7 11-1 2-2-4-8-2-1zM351 254l9-1 2-4-5-6-5 3zM341 233l7 5 7-4 0-2-9-7-3 1zM327 371l1 5 3-1 3-7zM487 742l0 7 5-1 1-4 0-5zM285 306l0 1 14 11 1-1-4-10zM310 346l0 2 7 1 0-9zM369 766l5-6-4-7-1 1-5 5zM381 743l-3 6 4 6 5 0 3-4zM352 770l9 0-4-5zM419 239l-5-4-5 6 0 1 7 1zM412 770l8 0-1-4-5-1zM313 678l-2 3 4 6 4 0 0-6zM352 515l-5 0 0 5 2 1 3-4zM340 217l4-1 3-7-7-1-6 5zM332 250l10 1 1-6-6-3zM294 379l7 8 3-7-1-3zM374 158l4 7 9-4-1-5zM406 250l-1 1 6 10 5-7-1-2zM377 547l-5 3 2 5 4-3zM285 571l0 5 0 7 2-1-1-10zM289 679l0 1 0 8 2 0 3-5zM367 165l-6 4 2 4 4 2 3-2 1-2zM349 453l4-9-7 0 1 8zM350 197l-5-8-1 0-4 3 2 7 7 2zM322 448l4-11-2-2-11 6 0 2zM316 189l6 2 4-3-4-7-4 1zM330 176l5 8 4-2-2-8zM304 444l0-2-4-3-4 1-2 9 5 1zM341 720l3-5-2-6-6 3zM339 469l6 0 0-8-2 0zM380 455l-4-3-2 1 0 3 3 1zM477 132l-3 3 8 9 1-1 3-6-1-5zM291 419l-6 8 8 4 4-1 0-4zM292 408l7-5 1-7-1 0-11 7zM296 701l-4-4-3 0 0 8zM302 687l-3 5 4 3 4-4-4-5zM381 148l-8-10-1 1-3 8 2 3zM337 138l9 6-1-9-3-1zM342 153l-10-7-3 3 0 3 12 3zM335 490l-1 7 2 2 7-7zM307 650l6-4-4-5-2 1zM323 478l6 2 1-6-4-1zM319 163l-1 0-4 7 2 3 5-1zM297 201l7 1 2-7-8-1zM329 206l5-5-2-6-5 3zM315 280l-5-4-1 0-7 5 5 5zM288 276l6 0 7-5-6-8-5-1 0 3-1 8zM514 38l8-12-11 2-4 5 0 1zM395 124l2 3 8 2 0-6-1-2-8 1zM351 707l1 5 4 0 4-6zM510 107l-2 1-1 4 4 9 6 3 1-5 1-7zM308 470l8 3 3-5-1-1zM305 732l-3 4 2 6 1 1 5-2 0-7zM295 730l3-4-9-4 0 8zM277 422l7-9-5-8-1 0-1 3 0 8zM312 250l4 2 4-1-5-5-3 0zM366 636l0 1 10 2 1-2-3-5zM337 512l-8 8 6 2 3-1 0-8zM488 106l3 4 8-2 1-2-9-6-1 0zM306 143l-1 2 0 2 11 8 3-1 1 0 0-4zM301 490l-3-12-3 1-2 10 4 4zM277 434l0 6 1 8 0 4 7-3 2-11zM302 517l11 0-3-6-5-2zM354 468l5-1 0-3-5-2zM370 129l-5-10-3 0-2 8 8 4zM341 113l-9-2 1 5 5 2zM474 115l4 8 6 0 1-6-4-5zM455 108l3 8 7-3-5-7zM309 770l5 0 7-12-2-6-5-3-5 2zM281 526l9-5-9-6 0 5zM387 114l-11-4-3 5 5 9 9-3 1-3zM353 107l6 3 6 0 5-6-1-1-10-6-5 3zM503 23l-3-7-1 0-6 4 1 3 6 3zM302 166l4 1 3-6-5-4-1 4zM292 244l-1 5 0 4 6 1 6-4 0-5-3-2zM479 47l1 5 7 0 2-2-7-5zM467 101l5 6 7-3 2-6-4-4zM452 91l-3-1-4 4 6 6 5-2zM460 124l6 6 4-4-3-4zM460 87l4 6 6-5-8-3zM401 548l4 0-1-6-5 1zM437 99l-4 2-2 8 0 1 4 1 9-6zM480 71l5-2-1-8-6 0-3 2zM469 56l2-1-1-7-3-1-4 1zM454 51l-1 0-3 4 6 9 1 0 5-3zM440 69l4 1 4-3-3-4zM428 83l-6 2 0 3 7 5 3-2zM300 751l0-1-11 5 0 15 11 0zM404 85l5 5 4-2 0-5-3-3zM424 100l-7-5-4 3 0 2 0 2 10 2zM403 97l-4-4-2 1 1 4zM364 72l-4 3 2 3 6-2 0-4zM435 78l4 9 3-3-1-5-5-2zM463 39l0-5-4-1-5 5 1 4 1 0zM485 25l-1-4-5-3-1 0 0 8 4 2zM402 41l5 7 2 0 1 0-2-9zM400 62l9 5 1-2-2-8-2 0zM417 35l1 10 6-1 1-3zM389 63l-7-7-2 1 0 7 7 2zM326 91l9-6 0-1-5-6-14 3 0 1zM460 14l7-2-6-8-3 8zM485 11l3 1 5-3-3-11-1 0zM363 57l2 6 6 1 0-6zM378 46l-3-4-9 2-1 4 10 2 3-3zM405 25l-3-1-4 3 1 6 10-4zM394 73l5 4 4-3-7-4zM354 69l3-3-3-7-3 4zM437 13l-5 3 0 3 6 3 2-6zM416 24l7-5 0-4-5-4-5 9zM420 2l8 5 5-2 1-7-15 0zM468-2l8 11 4-11zM340 48l-3 10 6 0 3-4zM468 26l1 0 0-5-6 1 0 3zM377 11l-10 6 2 3 7 3 2-2zM381 3l1 1 11-1 3-5-16 0zM333 18l3 2 9 1 4-7-5-2zM359 9l2 1 11-7-1-5-8 0z" fill="#0c2a1c" stroke="#0c2a1c"/>
<path d="M458 407l1 3 11 2 3-4-8-8zM486 329l0 4 1 1 2-6zM494 299l-6 6 7 4 2-7 0-1zM499 292l2-5 1-7-8 3 0 1 3 7zM497 272l-3-5-8-1-1 1 7 8zM481 573l-4 7 1 3 9 3 1 0 0-2-1-8 0-4zM403 429l9 2 4-2-3-4-10 1zM443 323l2-9-7 1-1 4zM477 486l9 3 0-1 1-8 0-3-11 6zM459 465l1-1-1-5-7-2-3 4 3 4zM508 251l0-4 0-2-4-1-1 3 2 4zM446 332l-6 9 0 1 6 2 2 0 2-9zM506 225l-4 8 2 2 5 1 1-5 0-7zM479 260l0-7-3-3-9 5-1 4 6 6 4-1zM483 549l-7 7 0 4 4 4 7-1-1-3 0-8 0-3zM408 382l0-7-6 1-2 3zM460 530l1 7 4-2 0-7zM446 498l7 3 2-3-2-5-3-1-5 2zM417 384l5-1 0-7-5-2zM413 537l1 12 1 0 4 0 2-10zM439 369l6 8 2-7-4-2zM470 567l-9 4 1 2 8 2 2-6zM461 611l-5-1-3 3 4 7 4-2zM416 489l8 5 4-5-2-6-6 0-4 5zM474 663l-2-1-5 3 1 8 3 0zM455 665l-3 9 1 1 7 1-2-10zM409 329l-4 4 1 1 7 3 4-6 0-2zM456 561l2 1 9-3 0-2-5-2zM474 681l-7 2-1 0 1 4 6 5 5-7zM438 678l0 11 2 1 5-10zM415 656l-3-3-8 3 0 7 8-2zM407 672l0 6 7-1 1-1-2-6zM425 578l6 5 4-4-2-7zM398 560l1 5 6 5 4-14-9 1zM488 597l-3 8 1 2 4-1-1-5zM396 313l-3 5 6 8 3-3-4-10zM361 434l10-4-6-5-2 1-2 2zM373 415l-2 4 5 4 4-7zM400 518l8 5 4-7-7-3zM377 563l3 7 10-5-1-3-6-2zM385 603l1 9 5 1 4-8zM383 620l-2 1-1 5 5 6 2-1 0-10zM363 618l-3 9 2 1 10-5 0-2zM359 560l7-2-3-6-1-1zM341 580l2 5 5 0 4-6-1-3zM465 171l4-10-8-2-2 4zM497 665l0-1 0-8-5-1-4 5zM495 687l1-7 0-2-5 5zM474 713l2 3 8 0-1-8-7-1-2 4zM484 622l9 0-1-5-1-2-4 0zM483 734l10-5-6-4-9 0-2 7zM467 745l4 4 7-1 0-6-6-3-4 3zM385 488l-5-7-2 0-2 1-1 2 1 5 7 4 2-1zM375 313l8 3 1-1 3-5-3-4zM362 663l0-3-5-7-7 3 0 3zM325 589l7 4 3-4-3-8-2-1zM315 604l7 3 5-7-5-3zM452 756l-1 0-5 11 1 3 6 0zM388 501l-1 6 6 5 7-6 0-3-10-4zM325 644l0-9-3-4-3 1-2 4 5 8zM499 210l6 6 6-1 0-7 1-5zM414 738l-8-1-1 10 1 0 8-7zM396 733l-5-1-4 5 9 8 1-11zM308 321l12 7 1-1 0-7-5-4zM495 186l17 3 1-5 0-6-18 5zM323 293l-4-5-8 6 0 1 5 3zM348 412l-2 2 3 7 5 1 0-1zM342 405l-2-7-7 2 5 8 1 0zM421 586l-1 6 5 4 1-1 0-4zM340 272l5 6 4-3-4-7zM377 278l1-8-8 1-2 3zM336 544l-5 1 0 7 3 2 2-1 2-8zM365 675l-6 8 5 3 2-3zM382 538l5-2 0-6-7 3zM366 543l7-4-3-6-4 3zM347 349l1-6-6-2-4 12zM343 537l3-7-4-2-1 1 0 7zM311 373l1 3 8 2-2-7zM296 572l0 8 5 1 1-1 2-8-4-2zM355 491l6 5 6-6-1-2zM361 737l8 8 1-1 4-6-8-6zM414 129l5 0 0-5-5 1zM410 172l6 0 1-8-3-2-6 4zM320 425l-5-4-9 6 0 5 2 2 12-7zM367 233l-3 1-1 3 6 8 5-1 4-3 0-5zM351 748l7 5 3-3-5-5zM334 743l-7 7 2 4 5-1 5-5zM288 640l0 8 10 1 0-8-4-2zM283 334l7-3 3-6-9-7 0 3-1 8zM302 294l-9-9-6 0 0 4-1 8 12 1 4-3zM358 203l7 2 3-8-1-1-9 3zM374 208l6 0 2-3 0-6-6 1zM331 259l2 8 7-7zM333 726l0-1-6-12-1 0-1 0 1 11zM319 734l0 8 3 1 8-8 0-1-8-2zM372 182l1 7 1 2 6-1 0-5-6-4zM303 624l-3 8 3 1 5-1 2-2zM425 251l2 0 7-5-5-4-2 0-3 7zM373 465l-4-1-1 5 5 4zM334 441l-3 8 7 3-1-10zM356 527l5 2 4-3-6-3zM508 75l-4 3 10 6 8-3 0-2 0-2zM498 93l8 6 1 0 2-8-7-4zM365 452l-4-3-3 5 6 2 1 0zM380 132l8 10 2-10-2-2zM403 142l1-4-6-1-1 6zM413 138l-1 7 1 1 8-7zM292 714l9 4 3-6-3-4zM460 137l-7-6-4 2 4 8 2 2zM349 159l7 3 8-6-2-4-10 1-1 1zM346 478l-7 0-1 3 9 2zM318 199l-3-1-3 9 8 0zM307 186l3-7-3-3-6-1 0 2-1 8zM321 240l4 4 4-6-6-2zM502 68l0-6-8-4-1 0 1 11 5 2zM525 49l0-2 1-8 0-2-6 7 1 3zM321 515l9-9-2-3-5 0-4 5zM340 770l-6-8-6 1-4 7zM481 86l6 5 2 0 7-11 0-1-6-2-8 3-1 5zM307 132l0 1 16 9 3-3-8-7zM391 202l6 2 1-1-1-6-6 2zM279 473l0 7 0 6 5 0 2-9zM494 133l0 1 22 4 0-3 0-1-9-5zM296 502l-8 7 6 4 3-9zM280 505l8-8-2-2-6 0 0 1 0 8zM309 238l4-1 1-4-4-2-3 6zM320 216l-7 0-2 5 0 1 6 2zM326 127l5 4 5-4-7-3zM445 125l5-3 0-1-3-7-6 4zM509 14l2 4 7 0-3-7-2-1zM318 123l6-6-1-6-13 6-1 4 0 2zM295 743l-1-4-5 0 0 6zM416 73l3 3 8-2 2-3-3-2-8 1zM330 102l15 2 0-5-6-6-9 5zM403 112l2-6 0-1-7 2-3 4 1 2zM390 103l-2-7-6-1-4 6 10 4zM370 85l-6 2 0 3 8 4 3-5zM377 73l-1 5 3 3 5-6zM352 80l-8 5-1 1 8 6 4-3 0-5zM523 7l5 10 0-2 0-8 1-7zM472 39l2 1 4-3 0-1-5-2-1 0zM338 67l-1 5 3 4 6-3-3-6zM384 27l-3 3 1 6 2 3 6-2-1-8zM454-2l-11 0-1 8 5 4 2 0zM282 538l1 6 0 5 7-4 0-1zM362 34l1 2 10-2 0-3-6-2zM355 29l5-6-2-5-1-1-4 8zM502 7l5-3-2-6-5 0zM342 36l5-3-2-3-5-1zM323 46l0 3-1 4 7 1 1-6z" fill="#22b02c" stroke="#22b02c"/>
<path d="M466 358l12-1-8-5-4 3zM439 417l3 2 6-1 3-5 0-1-13 0zM456 309l11 5 2 0 2-7-3-5-5 0zM488 442l-14-11-8 6 4 6zM472 394l8 8 5-2-1-7 0-4zM445 451l-1-4-7-3-1 1-3 8 1 2 8 1zM458 286l6 7 3 0 1-3-2-7zM444 469l-3-4-5-1-1 8 8-1zM496 240l-2-3-3 0-7 9 1 0 10-3zM426 329l0 1 8 4 3-5-5-3zM458 238l6 8 5-3-4-9zM465 546l5 3 4-3-5-3-4 2zM475 527l-1 8 8 5 4 0 0-4 0-3zM460 628l10 9 3-1 0-7-7-4zM401 417l11-1 1-4-8-2zM462 505l-1 1 9 12 3-7zM485 499l-11-4-4 4 8 5zM451 530l-4-1-3 7 1 2 6-1zM428 550l10-6-2-3-6 0zM485 204l1-10-9 1-2 4 0 2zM437 350l-5 4 4 7 2-1 2-8zM399 463l10-2 2-4-2-2-10-1-2 2zM448 547l3 6 5-5 0-2-1-1zM456 586l11 2 2-3 0-1-10-2zM444 670l2-6-5-1-2 3 0 3zM419 621l-4 6 0 3 2 3 13-2 1-2-2-4zM419 642l0 4 2 3 11-6-1-3zM435 481l2 5 3 1 4-2-1-5zM385 359l6-2 1-2-6-2-3 3zM423 680l-1 2 4 7 3-1 0-8zM408 578l-1 1-3 7 2 6 5-2 1-10zM412 616l-9-7-3 6 9 5zM424 320l4-2 1-5-3-3-2 1zM410 320l5 0 0-9-7-2-2 1zM395 473l-7 5 3 3 5-2zM401 487l-7 3 0 1 9 3 4-4zM436 262l5-5-2-4-5 4zM357 569l3 6 7 1 4-4-2-5zM398 290l-7 11 4 3 4 0 4-3 0-5zM414 277l-3-2-6 3-1 5 5 6 5-3zM455 595l2 6 8 2-1-6zM375 330l2-6-4-2-2 5zM389 672l2 6 7 1 0-9zM365 333l-4 2-2 3 8 2 2-3zM417 729l-1-3-8-4-4 6 12 1zM354 373l1 8 4 2 2-1 2-9-3-3zM331 653l-1 6 6 7 1 1 4-6 0-6zM337 562l-2 10 1 1 12-6-9-5zM343 332l7 3 3-4-3-6-3 0zM337 308l2 0 5-7-4-5-4 2zM339 320l-1-3-4 0-4 3 0 7 5 1zM352 314l-3-4-3 4 1 2 3 0zM480 757l-6 0 1 13 5 0zM340 378l5 4 1 0-1-9-3-1zM370 666l10 0-2-7-7 3zM382 681l-2-6-6 0 1 5zM353 263l5 9 1 0 3-5-2-5zM357 671l-9-3-3 4 3 7 2 0zM342 435l11 0-1-4-5-1zM389 190l8-2-1-1-4-3-3 1zM365 352l-1-3-8-3 0 4 5 5zM489 758l0 12 2 0 1-2 0-8 0-2zM323 544l-5-4-2 8 3 3 3 0zM332 359l-1-1-8-2-1 0 0 7 1 1zM390 231l-3 4 0 5 11 5 2-2 0-2zM349 724l7 5 3-3-3-5-5 0zM406 760l-2-4-4-1-1 0-5 6 4 9 4 0zM308 415l-5-4-4 3 4 5zM316 669l7 4 4-3-3-4zM311 662l10-5 1-4-2-1-9 6zM493 718l1 0 0-6 0-6-2 1zM361 226l1-1 2-11-9-2-2 6zM306 303l-1 1 2 7 5-3 0-2zM287 616l0 8 1 7 3-1 3-8zM341 730l-2 3 0 1 6 7 6-4zM408 217l1-7-4-1-2 2 0 5zM420 228l6 5 1 0 3-9zM386 764l-4 0-4 6 10 0zM306 669l-11 4 6 5 2-1 3-6zM379 174l5 4 3-2 0-5zM356 190l8-2 0-5-4-1-6 5zM518 93l-2 7 4 3 1-8 0-4zM347 180l7-5-2-4-6-4-1 2zM284 558l0 2 7 4 5-2-2-9zM304 555l1 7 4 2 3-7-3-3zM310 451l-4 6 1 4 10-3 0-3zM325 461l2 3 4 1 2-5-7-3zM328 696l1 8 1 1 10-4-1-6zM518 56l-7 5 0 5 12 2 1-5 0-4zM320 272l4-3-2-9-2 1-3 9zM363 138l-8-4-1 1 1 9 6-1zM321 487l-1 2 3 5 2 0 2-5zM313 502l3-3-3-5-5 1-3 4zM325 228l8 2 1-6-5-4zM512 47l-8-4-6 6 0 1 8 4 6-5zM278 462l14 8 6-1 1-3-2-7-7-2zM308 541l-6-1-3 4 0 2 1 0 7-1zM304 531l8 2 2-1 1-6-12 0zM345 125l4 2 2-1 2-9-3-2zM493 41l5-5 0-2-7-3-4 5 0 1zM422 113l-9-2-2 5 1 0 8-1zM298 234l5-8 0-1-9 0-1 8 0 2zM313 573l-2 7 7 3 3-6zM467 69l-4 2 1 5 9 3 1-1zM286 383l-7 1-1 8 0 3 3 1 11-6zM455 73l-5 4 1 4 2 1 2-3zM433 46l11 2 2-3-1-6-4-2-7 5zM424 53l-8 1 2 7 5-1zM311 106l10-4 0-4-7-6-1 5-1 8zM327 161l2 6 8-2 1-2zM386 87l4 1 4-3-4-4zM439 56l-6-1-1 8 1 0zM318 71l10-2 2-5 0-1-10-1-1 3zM354 38l-6 5 6 7 2 0 0-1 1-7zM395 18l-2-6-7 1 1 6 5 1zM334 40l-3-13-3-2 0 1-2 8-1 3zM333 8l6-3-1-7-2 0-1 4z" fill="#1b9625" stroke="#1b9625"/>
<path d="M470 371l13 2-1-5 0-2-13 1zM437 403l10 0-5-9-3 1zM421 419l1 2 8-4-1-6-7 0zM490 214l-3 10 3 4 5 0 3-6zM475 646l1 8 4 2 5-7-1-3-6-3zM406 401l8 2-2-9zM429 501l6 1 3-2-2-4-1-1zM467 204l-1-1-7-3-6 4 0 1 3 4 7 2zM426 474l1-13-1-2-7 1-2 5 4 9zM410 366l0-6-10-1 0 1 3 7zM479 612l-2-2-6-1-1 1 0 7 6 3zM366 364l4 3 7 0 0-2-3-6-3-1zM427 278l-4 0 0 7 7 4zM417 268l2 2 9-2 1 0-4-8-2-1zM458 701l9 4 2-4-6-6zM349 612l-2 0-1 6 4 6 2 0 3-8zM364 648l4 5 7-3-1-3-9-1zM360 608l3-7-6 0-1 4zM430 744l5-2 0-4-12-3 0 5zM434 756l5 3 4-6-4-3-5 3zM334 337l-8-2 0 12 4 2zM378 341l-5 6 0 3 3 0 4-4-1-4zM501 163l-9 8 0 2 1 1 20-5 1-1 0-4zM291 608l9 7 1 0 5-8-3-1zM351 688l-3 0-1 3 2 7 12-1-1-3zM493 143l-1 3 9 8 14 1 0-4 0-4zM307 356l-1 1 3 8 4-2 0-6zM404 233l6-6-1-1-8-1-3 2zM433 140l4 7 7-4-3-7zM345 754l-3 4 4 5 4-4zM289 666l13-5-1-3-12-1 0 7zM282 344l0 1 0 1 8 6 9 0 2-2 0-4-8-7zM279 375l6-1-1-15-3-2 0 4-1 8zM308 723l6 3 3-1-1-9-4 0zM308 703l3 4 8 0 1-1-1-10-5 0zM343 505l1 1 9 0 2-3-5-5zM307 479l2 7 3-1 2-3zM427 120l1 12 9-4-5-8-3-1zM289 532l5 4 2-2-1-5zM493 124l8-3-1-4-7 2zM429 770l8 0 0-1-8-6-1 1zM309 266l2-6-3-2-4 2zM398 52l-5-7-6 3 7 8zM445 29l3 2 6-5 0-5-3-3-2 1zM411 4l-1-6-3 0-6 9 3 8 2 1zM295 216l8 0 2-4-1-1-8-1zM435 31l-8-5-3 3 6 5zM348 4l3 1 2-7-6 0z" fill="#fa3020" stroke="#fa3020"/>
</g></g>
</g>
<g id="micro-4">
<rect x="1444.7" y="1634.7" width="76.1" height="381.8" fill="#ababab" stroke="#8e8e8e" stroke-width="0.8"/>
<clipPath id="cp4"><rect x="1525.6" y="1632.1" width="357.2" height="384.7"/></clipPath>
<rect x="1525.6" y="1632.1" width="357.2" height="384.7" fill="#020a04"/>
<g clip-path="url(#cp4)">
<path d="M1538.5 1628.1L1539.8 1632.1L1541.2 1636.1L1542.6 1640.1L1544 1644.1L1545.5 1648.1L1547 1652.1L1548.5 1656.1L1550.1 1660.1L1551.7 1664.1L1553.3 1668.1L1554.9 1672.1L1556.6 1676.1L1558.3 1680.1L1560.2 1684.1L1562 1688.1L1563.9 1692.1L1565.9 1696.1L1567.9 1700.1L1569.8 1704.1L1571.8 1708.1L1573.7 1712.1L1575.6 1716.1L1577.5 1720.1L1579.2 1724.1L1580.9 1728.1L1582.5 1732.1L1584.1 1736.1L1585.7 1740.1L1587.2 1744.1L1588.8 1748.1L1590.3 1752.1L1591.9 1756.1L1593.5 1760.1L1595.1 1764.1L1596.9 1768.1L1598.6 1772.1L1600.3 1776.1L1602.1 1780.1L1603.9 1784.1L1605.7 1788.1L1607.6 1792.1L1609.5 1796.1L1611.5 1800.1L1613.6 1804.1L1615.8 1808.1L1618.1 1812.1L1620.4 1816.1L1622.9 1820.1L1625.4 1824.1L1627.9 1828.1L1630.5 1832.1L1633.7 1836.1L1636.9 1840.1L1639.4 1844.1L1640.7 1848.1L1641.4 1852.1L1642 1856.1L1642.5 1860.1L1643 1864.1L1643.6 1868.1L1644.5 1872.1L1645.7 1876.1L1647.2 1880.1L1649 1884.1L1650.8 1888.1L1652.6 1892.1L1654.3 1896.1L1655.8 1900.1L1657.1 1904.1L1658.3 1908.1L1659.5 1912.1L1660.6 1916.1L1661.7 1920.1L1662.8 1924.1L1664 1928.1L1665.4 1932.1L1666.8 1936.1L1668.5 1940.1L1670.5 1944.1L1672.6 1948.1L1674.9 1952.1L1677.3 1956.1L1679.6 1960.1L1682 1964.1L1684.2 1968.1L1686.5 1972.1L1688.9 1976.1L1691.2 1980.1L1693.5 1984.1L1695.7 1988.1L1697.7 1992.1L1699.5 1996.1L1701.2 2000.1L1702.9 2004.1L1704.5 2008.1L1706 2012.1L1707.4 2016.1L1708.8 2020.1L1857.5 2020.1L1855.9 2016.1L1854.2 2012.1L1852.5 2008.1L1850.7 2004.1L1848.9 2000.1L1847.1 1996.1L1845.2 1992.1L1843.3 1988.1L1841.3 1984.1L1839.2 1980.1L1837.2 1976.1L1835 1972.1L1832.8 1968.1L1830.6 1964.1L1828.4 1960.1L1826.2 1956.1L1823.9 1952.1L1821.7 1948.1L1819.4 1944.1L1817.1 1940.1L1814.8 1936.1L1812.4 1932.1L1810.1 1928.1L1807.8 1924.1L1805.5 1920.1L1803.2 1916.1L1801.1 1912.1L1798.9 1908.1L1796.8 1904.1L1794.7 1900.1L1792.7 1896.1L1790.7 1892.1L1788.7 1888.1L1786.7 1884.1L1784.7 1880.1L1782.8 1876.1L1780.8 1872.1L1778.9 1868.1L1777.1 1864.1L1775.2 1860.1L1773.4 1856.1L1771.6 1852.1L1769.9 1848.1L1768.1 1844.1L1766.4 1840.1L1764.7 1836.1L1763 1832.1L1761.2 1828.1L1759.4 1824.1L1757.6 1820.1L1755.8 1816.1L1753.9 1812.1L1752 1808.1L1750.1 1804.1L1748.1 1800.1L1746.2 1796.1L1744.2 1792.1L1742.2 1788.1L1740.1 1784.1L1738.1 1780.1L1736 1776.1L1733.9 1772.1L1731.8 1768.1L1729.6 1764.1L1727.4 1760.1L1725.1 1756.1L1722.8 1752.1L1720.5 1748.1L1718.2 1744.1L1715.8 1740.1L1713.5 1736.1L1711.3 1732.1L1709.1 1728.1L1707 1724.1L1705 1720.1L1703 1716.1L1701 1712.1L1699.1 1708.1L1697.2 1704.1L1695.3 1700.1L1693.5 1696.1L1691.6 1692.1L1689.8 1688.1L1688 1684.1L1686.2 1680.1L1684.4 1676.1L1682.6 1672.1L1680.8 1668.1L1679 1664.1L1677.3 1660.1L1675.5 1656.1L1673.8 1652.1L1672 1648.1L1670.3 1644.1L1668.6 1640.1L1666.9 1636.1L1665.2 1632.1L1663.6 1628.1z" fill="#eceef2" stroke="#5fd45a" stroke-width="2.6" stroke-linejoin="round"/>
<g transform="translate(1525.6 1632.1) scale(.5)" stroke-width="5.2" stroke-linejoin="round">
<path d="M98 152l3 6 4 8 4 8 1 3 5-7-1-17-3-2zM139 160l-7-10-10 4 1 13 15-3zM114 186l1 4 4 8 3 8 1 4 6-3-1-14zM139 192l-3 1 1 13 3 1 11-9zM131 142l2-5-3-3-12-1-2 12 3 2zM168 178l5 1 7-11-9-3-2 1zM115 110l-14 0-3 10 11 1zM138 249l3 5 3 8 2 6 10-9zM168 317l14-4-1-11-17 6 1 2zM171 280l11 3 3-7-4-3-10 0zM181 204l-9 8 0 2 6 4 6 0 5-10zM182 181l14 0 2-5-10-6zM202 168l0-13-5-4-3 2-2 10zM176 158l8 3 2-7-8-3zM86 82l-4 8 12 4 6-11-4-4zM190 333l-2-13-1 0-15 4 1 2 4 8 2 4zM204 189l16 5 4-3-1-8-5-5-12-1-3 8zM218 170l5-13-2-3-11 2 0 13zM275 182l-5-7-1 0-12 8-1 5 8 5 10-4zM244 200l3 8 4 3 7 0 2-12-8-4zM230 215l9-6-3-8-8-3-4 3-3 9zM111 58l-5 0-5 6 0 9 6 6 5 0 4-14zM198 235l-7 11 10 4 2-2-2-12zM109 30l-8 13 5 7 5 0 4-5-4-15zM131 48l-9 1-4 5 5 6 10 1 2-3zM261 158l8 9 6-11-5-9-6 1zM288 176l6-10-7-7-5 0-6 12 5 6zM198 332l10-7-1-10-11 5zM160 92l-12 9-1 4 8 7 9-12zM53 52l1 2 3 8 2 5 11-8 0-1 0-2-2-2zM74 49l9-8-3-7-7 1zM91 38l3 1 7-12-13 1-1 2zM211 245l10 0 2-6-14-5zM215 218l-2 9 13 4 0-8-9-6zM210 277l0-8-7-6-6 10zM53 44l13 2-1-12-1 0-2 0zM259 112l1-1-2-14-10-2 0 14zM267 115l10 13 4-1 2-9-5-5zM139 66l2 7 9 2 0-13-9 1zM171 134l-3-6-10-1-3 5 6 7 9 0zM174 108l-4-3-10 14 9 1 7-8zM289 127l8 3 6-8-6-5-7 2zM240 110l0-14-15 4 1 7 13 4zM245 217l-2-1-9 6 0 8 8 1zM284 210l14 1 2-5-1-1-15-4zM233 271l0-7-4-2-11 8 0 6zM33-2l28 28 1 0 6-27-2-2-33 0zM158 32l9-7-1-6-3-1-7 5zM150 33l-2-9-4-3-7 5 3 7zM203 338l5 7 8-2 0-9-3-3zM183 345l2 4 4 8 3 4 7-4 2-7-6-10zM242 255l2-15-1-1-11-1-1 0-2 10 3 6 5 3zM180 15l-6 4 1 5 9 5 5-7-2-6zM165 10l5 2 5-3-4-12-10 0zM194 84l0 8 7 6 7-4-9-11zM225 92l14-5-1-8-1-1-10 1zM324 158l1-14-11 5 0 6zM335 139l-1 1-2 21 16 7 1-1-3-5-4-8-4-8-3-8zM314 184l-9 5 1 11 1 2 1 0 11-12zM196 368l3 5 5 8 1 2 6-3 3-7-12-8zM236 312l11 2 4-11-1 0-13 1-2 7zM298 241l11-4 0-1-9-10-6 8zM309 210l-2 0-3 6 0 3 10 10 6-4 2-7zM283 218l1 10 3 0 9-9zM212 30l-1 10 10 5 3-10zM207 47l-1 0-1 8 8 5 5-8zM219 66l5 5 10-1-1-11-8-3zM258 338l1 0 7-10-12-3-2 8zM215 315l2 9 4 3 6-3 2-8 0-1zM255 317l13 3 4-7-3-5-11-1zM292 295l-14 0-2 9 3 5 3 0 11-7zM77-3l4 4 18 2 6-6zM284 108l4 4 6-2 0-6-6-4zM298 77l-15-5-4 11 6 4zM247 87l14 2 4-4-11-11-8 5zM209 389l5 8 4 5 6-4-11-10zM316 298l-6-10-10 7 1 6 7 3 7-3zM297 287l11-7 0-1-5-8-3 0-5 2zM158 294l3 6 20-7 0-2-14-4zM228 49l8 2 5-2 0-7-10-4zM203-3l13 10 12-6 2-4zM289 314l7 9 7-6 0-7-5-2zM147 163l-2 4 1 1 14 6 1-9-7-4zM290 243l-4-7-5-1-6 4 7 7zM250 234l11-1-3-14-5 0zM311 269l3 4 12-2-4-13zM340 204l6-7-3-13-11 7zM264 11l4 4 12 0-2-5-4-8-2-5-12 0zM268 37l21-2-1-1-3-8-2-3-13 0-4 12zM228 405l-5 3 4 5 5 8 0 1 1 0 0 3 4-5zM235 401l7 12 7-9-2-4zM347 283l-6-6-5 1 0 10 9 4zM310 245l-9 4 2 14 2 1 11-11zM334 270l5-1 5-9-10-5-4 2zM232 354l0 12 7 4 6-1 2-3-3-9-10-4zM267 355l-7-9-1 0-7 10 1 5zM255 375l15 4 1-1 0-15 0-1-17 7-1 3zM277 356l0 1 14 1 3-4-5-10zM364 197l-2-2 0-1-4-8-4-8-2-3-1 0-1 3 3 17zM265 54l13 5 8-15-17 1zM241 470l0 1 2 8 2 5 17-4 0-1-8-15zM262 462l6 11 6-3-4-11zM351 203l-6 7 4 5 6 1 12-10zM367 241l-4 4-1 9 3 3 7 0 20-11-2-3-4-7zM361 221l6 12 15-4-1-2-5-8-4-7zM311 311l0 6 8 8 4-11-6-6zM353 301l6 8 6-1 4-7-1-2zM370 265l-4 0-2 11 6 4 5-3zM326 328l4 2 8-6-4-7-4 0zM318 353l4 0 6-12-1-3-6-4-5 5zM285 64l19 6-2-4-4-8-3-8-2-3zM371 325l-5-9-6 0-2 7zM263 503l5-8-5-7-16 4 1 2 4 8 0 1zM329 356l3 2 12 1 0-10-9-2zM312 359l-12 0-2 3 2 8 6 4zM356 331l1 8 11 3 3-3 0-6zM364 349l-10-3-2 2 0 10 6 0zM295 420l14-2-2-9-2-1zM272 437l4-9-8-4-6 4 1 7zM285 469l6-14-13-2-1 1 5 14zM234 326l7 6 3-1 3-9-11-2zM378 263l4 12 9 2 10-15-2-3-3-6zM399 307l-2-10-2-1-7 7 4 10zM294 501l0 1 10 9 3-1 3-11-7-2zM290 477l1 16 8-3 0-10zM291 510l-6 9 5 6 5 2 4-10zM379 337l16 5 0-10-6-6-10 3 0 1zM395 320l5 6 12-5 2-5-10-3zM290 366l-11-1 0 11 3 1 10-6zM299 332l11 2 3-4-6-6-8 6zM353 448l9-9-4-8-9 0-3 3zM345 402l-7-3-6 3 2 8 8 3zM289 533l-13 15 6 2 8-5 1-11zM299 535l-1 10 8 4 0-11zM429 344l1 6 8 7 10-4-4-7-4-8zM315 521l-5-3-4 1-3 9 7 3 5-2zM361 396l12-5 0-3-8-4-3 1zM376 418l8 5 9-3 1-7-6-6zM398 433l-3-5-8 2-2 12 1 1 12-5zM381 392l7 6 6-13-4-6-9 9zM368 458l5-11-6-2-7 8zM374 347l8 10 7-8-13-4zM371 466l-4 10 1 1 12 1 0-7zM334 366l-1 11 4 3 6-6-1-7zM326 531l7-8-3-5-7 3 0 8zM383 497l1-10-1-1-15-1-3 7 14 7zM338 501l13 3 3-7-11-5-3 2zM437 389l-5 11 11 3 2-6zM407 461l1 3 12-1 2-2-6-9-7-1zM378 518l5 5 11-5 2-8-9-6-4 3zM350 512l-14-3 0 3 5 9 4 1zM357 530l8-9-9-4-5 10 1 2zM411 531l2 0 5-5-3-14-4-2-7 2-2 8zM406 480l7 5 9-5-2-9-11 1zM426 416l15 3 3-4-1-4-12-3zM410 407l10 4 5-8-10-4zM427 467l3 12 1 1 9-3 3-7-1-1-14-3zM432 459l11 2 2-5-5-6zM424 531l-5 5 7 14 9-9-2-8zM417 565l0 2 16 8 4-4 0-1-12-12zM464 453l3 7 11-2 2-2-5-5-10-1zM450 421l-3 4-1 8 12 2 3-6zM426 454l10-11 0-1-10-1-3 7zM312 557l-1 4 5 10 10-8-4-6zM305 567l-12 3 0 3 5 5 9-6zM441 532l2 8 8 4 4-9-1-1zM498 505l-10 1-1 6 7 5 5-3 1-9zM445 569l16 5 2-13-8-4zM439 581l9 14 5-1 4-13-15-4zM508 507l-1 7 8 5 6-5-4-8 0-1zM501 483l2 15 2 1 8-2-3-7-4-8-1-2zM478 519l1 9 11 0 0-4-9-6zM506 567l4-5-4-7-14 0-1 2 1 2zM466 442l7 1 2-14-7 2-4 9zM359 555l12 0 2-2-1-5-8-2zM326 586l4 0 4-8-5-7-8 6 4 9zM438 434l1-7-14-3-1 5 2 4zM335 565l5 8 10-2-1-10-2 0zM376 583l-3-2-11 2-2 10 4 5 12-3zM386 531l0 1 13 6 4-4-6-8zM469 574l10 4 5-16-1-3-5-1-7 4zM465 581l-4 14 4 3 12-4 3-7-1-1zM280 584l2 6 2 5 11-5-1-5-6-5zM324 608l11 0 1-10-5-4-3 0zM381 450l-5 10 7 4 4-4-4-10zM291 615l10-12-1-5-1-1-13 6 1 3 4 8zM297 626l2 3 4 8 4 6 2-14zM355 581l-3-2-11 2-3 8 3 3 12-2zM405 595l6 7 7-4 0-3-8-5-4 1zM421 622l3-1 7-10-9-6-8 5 0 1zM485 597l5 11 3 1 6-12-6-6-6 0zM322 670l4 7 3 4 6-2-2-10zM333 688l3 5 4 8 1 2 3-15 0-1-4-1zM469 605l2 8 9 1 3-3-5-9zM477 622l-8-1-6 6 4 7 6 3 6-1zM351 692l-2 13 11-3 1-9zM426 643l11-4 1-4-11-6-2 0zM442 628l7-4-8-11-2 0-6 10zM488 641l8 13 0 1 6-5 3-12-2-3zM539 646l8-4-4-11-12 3-1 2 2 6zM526 566l-9 1-4 4 7 11 10-8zM547 580l1 6 12 1-5-8-1-3zM450 646l9-10-3-6-10 5-1 6zM551 629l3 9 12-3-2-9zM549 613l0 9 15-4 3-6-16-1zM344 618l-1 9 7 4 3-2 2-12zM444 384l6 8 13-6-4-8 0-1zM354 730l2 4 3 6 12-1 3-2-4-12zM571 622l4 14 2 2 10-5-4-6-5-8-3-5zM430 655l15 0 0-2-5-6-12 4zM453 655l13 1 2-12-3-2-12 11zM470 668l-3-4-13-1-1 10 5 4 12-8zM357 636l-3 2 0 3 6 7 11-5-1-4zM395 699l3 9 11-1-3-7-9-2zM314 656l3 5 0 1 17-1 0-7-7-4zM369 692l-1 11 3 2 9-9-2-3zM525 659l1 3 9-1 0-9-4-2zM470 722l6-2 3-12-6-5-7 0-1 3zM493 683l7 7 2 0 4-11-5-3zM520 703l7 8 10-6 0-1-10-8zM554 660l-5-10-6 3 0 8zM531 688l0 1 9 8 7-9-7-4zM512 724l8-8-6-7-9 7 1 3zM526 722l-7 6 5 7 8-2 0-1zM361 629l10 2 3-6 0-1-11-5zM444 701l0 10 14-8 1-3zM450 718l8 8 5-2-4-12zM556 646l6 12 11-10 0-3-3-2zM540 735l-1 2 4 8 5-1 4-7-5-4zM525 743l-5 12 1 2 13-4 2-4-3-8zM552 727l7 5 4 0 2-7-10-7-1 0zM570 718l6-2 0-8-11-1-4 6zM378 722l3 12 7 0 4-6-2-7zM398 732l-3 5 8 10 4-3 2-11zM579 685l4 14 8-3-3-10zM580 677l10 2 3-3-3-10-1 0zM609 704l13-8-4-6-2-4-10 14zM500 739l6-10-5-3-8 5 2 8zM584 707l0 9 4 3 16-5 0-3-5-7-3-1zM570 735l6 7 5 1 4-3-1-14-5-3-6 3zM441 720l-3 2-4 8 2 4 4 2 10-2 2-2zM417 733l-2 9 7 1 6-7-1-3zM405 682l-2 1-2 8 6 1 4-4zM513 733l-5 9 7 6 3-8zM556 761l-7-9-6 1-2 2 14 16zM535 761l-14 5-2 5 25 0zM495 747l4 24 11 0 4-9-1-5-12-10zM612 714l22 7-3-7-4-8-2-2-13 8zM485 732l-6-4-5 1 4 14 9-2zM443 771l-4-4-11-3-12 7zM487 749l-10 2-1 1 8 19 6 0zM391 712l-4-11-11 10 1 3 14-1zM615 751l-2-6-5-2-7 3 6 12z" fill="#0b2618" stroke="#0b2618"/>
<path d="M139 172l-18 3-3 4 14 7 4-2zM135 239l10-11-6-13-5-1-8 4 2 4 3 8 3 8zM146 212l5 10 13-8 0-2-9-7zM159 183l-13-7-2 9 10 5zM84 124l5-4 5-14-2-4-16-5-4 2 2 3 4 8 3 8zM179 265l0-14-6-2-9 9 0 2 5 5zM156 229l13 7 3-12-4-3zM174 187l-8-1-7 10 0 2 8 7 9-7zM198 205l14 6 1-1 2-9-12-4zM188 299l3 14 13-6 0-4zM230 161l-5 12 3 4 12-6 0-8-2-1zM123 105l8 3 8-4 1-3-11-10-5 1zM187 253l0 14 3 3 8-13zM79 63l6 11 8-2 0-6zM79 55l17 3 3-4-5-7-4-1zM248 165l0 6 5 4 8-5-6-6zM283 193l15 3-1-7-7-5-8 1-1 6zM268 200l-2 10 10 1 0-13 0-1zM212 307l16 0 2-6-1-2-14-6-3 7zM119-3l-2 0-13 12 2 12 2 1 5 0 5-4zM244 157l1 0 8-1 3-10-6-3zM161 81l7-15-9-8-1 1 0 19zM81 24l-5-17-2-1-4 22 10-2zM98 19l-1-8-12-2 3 11zM207 256l7 6 10-6-2-3-12 0zM217 284l0 2 13 5 5-12zM168 90l4 7 5 3 9-9 0-4zM273 89l-1 0-6 6 2 12 9-2 5-10zM302 104l0 6 5 4 11-11-2-5zM311 121l20 10 0-1-4-8-3-8-2-4zM194 111l1-7-5-5-8 7 2 3 8 3zM291 93l7 4 15-7-4-8-1-3zM214 117l5-8-2-8-2-1-12 6-1 5zM219 350l-10 3-2 6 12 8 5-2 0-12zM181 36l-9-5-11 9 2 4 18-5zM195-3l-15 0 3 10 5 1 7-10zM227 28l5-9-3-10-11 6-3 8zM190 146l3-2 1-4-4-4-11 2-2 4 1 1zM269 300l2-8-1-2-12-4-2 11 1 2zM278 287l11 0-2-13-2 0zM222 374l-3 8 8 8 6-15-6-3zM183 68l-8 1-6 12 18-2zM251 242l-1 12 8 3 4-16zM282 263l3 3 5 0 5-2-2-13-9 3zM236 4l3 12 8 3 9-7-5-15-13 0zM301 169l-5 9 6 4 6-4zM265 260l9 0 2-8-7-7zM224 334l0 10 5 3 2-2 4-8-6-5zM241 58l1 14 10-6 2-7-8-4zM325 250l6-2 2-9-9-6-7 4-1 2 8 11zM247 419l10 3 7-5-2-8-6-1zM254 430l-11-4-7 8 16 5 3-3zM237 443l1 4 1 8 1 6 12-4-3-11zM246 350l5-7-5-4-3 1-4 6zM354 224l-4-1-3 10 11 5 2-1zM330 219l-2 7 10 7 1-1 4-12-5-5zM257 445l2 9 11-4 2-2-1-2-10-4zM281 341l-10-8-5 9 6 7zM353 293l13-2 0-4-7-4-4 1zM386 318l-6-13-4 0-4 7 6 9zM272 416l9 6 5-2 0-1-7-12-8-2-2 2zM282 476l-2 0-10 6-1 1 6 8 8 0zM289 428l-5 2-6 13 1 2 16 2 2-3zM319 453l-13-6-2 1-2 3 9 10zM397 282l1 6 3 2 14-2-3-6-4-8-3-4zM269 544l13-15-4-6-2 0-11 10 0 1 3 8zM324 404l-1-1-8 5 3 11 8-8zM306 400l4 1 7-4-4-11-3-1-6 10zM297 390l6-9-6-4-9 5 6 8zM287 404l4 7 8-9-3-4-2 0zM330 451l2 2 13-2-6-13-4 1zM422 317l-3 7 6 14 12-7-1-1-4-8-4-8zM405 298l2 8 12 3 5-2 0-1-4-8-1-3zM403 341l13-3-4-9-9 4zM272 555l1 4 2 8 2 8 1 1 7-4 0-4-5-10zM351 396l2 0 1-11-6-4-6 5 0 6zM381 403l-4-5-11 5 5 9zM345 469l1-10-10 2 0 5zM327 437l-7-5-8 10 11 4zM350 477l-2 9 10 3 3-8-1-2zM353 469l7 2 3-7-9-5zM318 495l13 4 2-7-9-7zM400 446l-9 3 3 9 5 0 2-11zM362 500l-4 9 13 6 3-9zM409 367l-12 9 4 5 9 2 5-8-5-8zM401 504l7-2 1-10-9-6-8 3-1 9zM370 377l6 4 8-7-3-4-11 3zM314 538l0 11 7 0 4-7-2-4-5-2zM410 539l-7 6-1 5 10 9 6-6-6-14zM440 548l-7 6 7 8 9-10zM472 489l-7-3-8 5 0 3 6 5 9-9zM370 355l-5 7 3 3 9-2zM487 459l-3 4 2 14 9 0 6-4-3-7-4-8zM487 499l8-2-2-12-9 0-4 3 0 2zM393 570l12-6-8-7-5 2zM433 588l-7 6 0 4 11 7 2-1 3-4zM498 529l13 4 0-7-8-5-5 3zM451 411l18-10-3-7-13 5-3 9zM377 560l1 15 2 1 6-2-2-14-5-2zM358 573l3 3 8-2 0-11-12 0zM385 597l12-4 1-3-9-9-5 2 0 14zM507 576l-7 10 6 6 3 0 6-4zM516 541l-3 9 4 9 9-1 8-13zM317 605l3-12-12 5 1 3zM340 666l4 13 1 0 8-12zM519 616l-12 7 1 6 3 3 12 0 1-2-3-14zM550 594l2 9 18 1-1-1-4-8zM458 417l8 6 12-2-1-3-4-8-1-2zM347 713l2 5 2 5 18-6-1-4-5-4zM339 634l-5 1-2 9 5 2 9-6 0-2zM420 652l-7 1-5 8 3 4 11-1 1-4zM403 637l9 8 6-1 0-14zM391 670l9 6 3-1 2-5-4-6-4 0zM422 672l-10 1-1 4 6 6 1 0zM437 680l-8-5-3 10 5 4 1 0zM381 650l1 15 2 1 7-7-5-9zM420 691l-2 0-4 6 2 7 3 0 6-10zM388 678l-4 11 4 4 1 0 3-2 3-9zM362 656l-1 6 1 1 5 3 7-2-1-13zM379 642l8 0 7-6-2-4-11-2-3 6zM382 622l9 2 2-7-6-4zM394 647l4 9 3 0 5-6-8-7zM478 670l8 9 10-9-2-8zM463 683l2 11 0 1 7 0 8-12-7-7zM512 673l3-1 4-7-1-3-12-5-4 4 2 7zM495 705l6 5 8-7-6-5-3 0zM466 732l-7 2-1 3 5 11 6 0 2-2zM555 685l3 1 13-6 1 0 0-1-10-8zM370 748l-8 0 1 2 3 8 3 8 1 5 8 0zM388 742l-8 0-2 3 8 26 9 0 3-17zM572 689l-9 4 3 6 9 1zM519 526l0 7 14 3-4-6-4-8 0-1zM555 747l6 7 8-8-5-6-4 0zM443 744l2 17 2 2 8-11-4-10zM469 756l-7 0-11 14 0 1 25 0zM634 759l-2 12 24 0 0-1-4-8-3-8-1-1zM489 724l9-5-1-2-8-7-2 1-3 10zM510 693l4 4 9-8 0-2-7-7-2 1zM626 727l-14-5 0 14 3 2zM604 736l0-14-12 4 1 13 2 0zM599 695l0 1 9-13-10-1-2 2z" fill="#1fa029" stroke="#1fa029"/>
<path d="M108 143l2-12-1-2-15-2-6 4 1 3 4 8 1 2zM167 244l-17-10-7 8 17 10zM149 137l-9 2-2 6 7 10 7-2 2-9zM176 242l7 2 8-13-6-6-5 1zM182 189l2 8 8 3 5-8-1-3zM196 213l-4 8 6 6 5 1 2-1 2-10zM115 102l2-12-4-3-5 0-8 12 1 3zM192 280l-4 8 1 2 16 5 4-7 0-3zM243 178l-12 6 1 6 7 4 9-6 1-6zM123 68l-4 14 3 2 6-1 6-8-3-7zM225 115l-6 8 0 4 6 6 9-2 1-13zM195 130l3 3 13-7 0-2-13-6-2 1zM255 136l7 4 7-1 2-5-9-13zM135 86l9 8 10-8-2-3-12-2zM142 112l-6 3 0 13 3 3 9-2 4-7 0-2zM119 28l3 13 9-2 2-2-4-10-6-2zM242 131l5 3 7-15-10-2-1 0zM279 136l-3 6 6 9 4 0 9-13-10-4zM301 160l5-4 0-8-5-4-7 11zM324 136l-16-7-5 7 8 6zM266 218l3 15 7-4-1-10zM126 18l5 2 9-5-1-18-12 0zM152 54l4-3 0-2-3-8-13 0-2 3 4 11zM157 12l-4-15-6 0 1 17 4 3zM39 15l3 7 3 8 3 8 6-8zM237 296l11-1 2-9-9-3-5 13zM182 117l-6 8 2 5 9-2 1-9zM326 185l17-11-14-6-8 11zM163 281l0-11-3-3-10 8 1 3 3 8 1 1zM207 21l3-8-10-8-6 9 2 5zM69 91l4-1 6-11-7-12-10 7 2 4 3 8zM171 147l-9 0-2 8 6 3 2-1zM207 80l9 12 3-15-4-4zM271 282l7-12-2-2-11 0-2 11zM274 325l14 11 1 0 2-2 0-4-10-13-2 0zM325 195l-9 10 10 7 7-4zM249 48l8 4 5-10-2-3-8-1-3 3zM264 401l2-2 0-13-11-2-2 11 4 5zM234 393l11-1 3-12-2-3-6 0zM262 62l-2 6 11 12 6-13zM296 340l5 11 9 0-2-10zM329 309l5 0 8-9-9-5-9 5-1 3zM345 322l5 1 3-10-6-7-6 7zM314 377l2 2 9-3 1-12-3-3-3 0zM335 336l1 3 11 2 2-1-1-9-4-1zM298 458l-5 12 9 2 5-4zM286 500l-11-1-5 7 7 9 1 0 8-12zM359 262l-2-2-4 1-6 11 5 5 5-2zM324 425l9 7 6-2 4-4-2-5-10-4zM314 426l-1-1-16 2 7 13zM360 423l5-5-8-14-1-1-3 1-5 14 2 5zM421 345l-16 3 6 11 1 1 10-10zM369 437l8 3 2-11-9-5-4 4zM329 479l9 7 1-1 3-9-8-3zM438 378l17-8-3-8-1-1-11 3-4 12zM307 479l0 11 4 1 7-11-7-5zM426 394l5-11-2-2-7-1-6 8 0 3zM387 364l4 6 12-9-5-10zM416 444l3-7-2-4-11 2 0 5 2 3zM393 465l-5 5 1 10 0 1 9-3 4-10-2-2zM365 537l8 3 6-7-1-3-5-5-10 10zM345 532l-1-2-5-1-8 7 1 3 8 1zM339 548l-7-1-3 6 3 5 10-4zM456 518l-10-1-2 7 10 1zM458 475l-8-1-2 5 6 5 6-4zM439 499l10-6 0-3-7-5-6 2zM478 479l-2-12-8 1-2 4 2 7 7 2zM471 531l-1-12-5-2-1 0-3 12 1 2zM457 550l10 5 6-3-3-13-7 0zM468 507l0 2 6 3 5-2 2-6-5-6zM460 510l0-3-8-7-8 5 1 4zM388 553l6-4 1-4-11-6-5 7 2 4zM316 586l-3-7-11 6 1 5 1 1zM313 622l1 0 2-9-9-4-8 9zM336 616l-12 0-2 6 9 6 4-2zM389 605l9 6 8-2-7-9-10 4zM364 611l12 5 5-9 0-3-2-1-13 3zM526 599l-6-5-4 4 5 10 2 1 3-3zM489 616l-4 3 2 14 13-5-1-5-6-6zM317 629l-3 18 10-4 2-9zM531 613l-3 2 4 11 9-2 0-9zM523 640l-10 0-3 10 9 4 6-9zM533 562l5 10 4 2 8-5-4-6 0-1-4-8-2-3zM542 597l-8 3 0 5 9 3 1-2zM488 656l-8-12-4 1-2 14 2 3zM351 684l12 1 0-13-3-1zM357 541l-1-3-5-1-5 7 4 9 1 0zM342 653l0 5 12 1 0-5-5-6zM441 694l15-2-1-8-6-4-4 1-5 11zM526 670l-3 5 5 5 8-3-1-8zM553 710l6-8-4-8-2-1-8 11 0 1 7 5zM432 697l-5 10 8 7 2 0-1-14-3-3zM575 672l7-11-5-5-10 8zM598 664l2 10 10 2 0-1-5-8-2-6zM590 657l3 1 6-4-2-3-5-8-1-3-10 5 0 3zM544 677l5 3 5-12-11 1zM399 724l11 1-2-10-10 1 0 1zM578 751l-3-1-11 11-1 10 18 0zM404 769l18-11-2-7-8-1-6 5zM435 743l-1-1-6 7 2 7 7 2zM636 729l-16 15 3 5 7 3 15-6-3-8-4-8 0-1zM626 759l-6-2-11 9-2 5 17 0z" fill="#188a22" stroke="#188a22"/>
<path d="M237 138l-9 2-1 8 3 5 7 1 5-14zM207 149l12-3 1-7-5-6-13 8-1 3zM122 113l-6 12 12 0 0-10zM315 174l6-8-10-4-3 3zM242 275l12 4 1 0 3-14-12-3-5 2-1 9zM191 66l4 10 5-1 9-8-9-6zM195 27l-6 8 0 2 13 4 1-1 1-11zM164 51l10 10 8-1-2-12zM234 31l10 4 2-2-2-6-6-3zM328 279l-12 2-1 1 7 10 6-4zM259 31l3-11-2-2-8 7 2 5zM188 45l2 12 7-3 1-6zM342 239l-1 1-2 8 11 6 4-1 1-8zM374 287l0 6 2 4 5 0 9-8-1-4-9-2zM280 385l-4-1-1 1-1 12 7 2 6-6zM256 511l3 7 3 7 7-7-5-7zM304 558l0-2-10-4-6 4 3 7zM402 414l-1 8 3 5 12-2 2-5 0-1-13-6zM408 391l-7-2-7 13 6 5 2-1 7-13zM315 468l8 5 6-6-1-7-2-2zM334 392l0-5-6-4-7 2 4 11 2 0zM328 510l1-3-12-4-2 9 4 2zM426 357l-8 8 4 7 6 0 4-10zM350 366l1 8 8 4 2-1 2-6-5-5zM431 500l-4-13-10 6-1 10 3 2zM435 525l4-12-3-6-1 0-12 5 3 12zM449 465l1 1 9 1 1-2-3-7-5 1zM483 432l-2 13 5 6 5-1-4-8-3-8zM444 441l0 2 7 8 6-1 2-4-2-3zM484 551l3-2 2-13-12 0 4 14zM407 582l3-12-13 7 6 7zM486 582l0 1 7 0 7-10-9-6zM412 624l-4-8-7 3-3 9 2 2zM342 610l15-1 1-6-4-5-10 2zM449 603l-2 5 10 14 6-6-2-12-5-3zM508 600l-1 0-7 12 4 4 9-6zM525 588l6 5 10-5-2-7-3-2zM417 576l-2 7 6 5 7-6zM430 667l12 7 3-1 1-10-16 0zM371 673l0 11 6 1 4-12-4-1zM487 687l-8 11 6 5 2-1 6-8zM540 712l-8 5 7 10 5-2 3-9zM416 712l2 13 9 0 3-5-9-8zM506 547l2-7-11-3-2 10zM601 764l-9-17-2 0-4 2 3 22 10 0z" fill="#fa3020" stroke="#fa3020"/>
</g></g>
</g>
<rect x="386.8" y="1988.6" width="93.6" height="2.6" fill="#fff"/>
<text transform="translate(396.7 2009.5)" font-family="'DejaVu Sans',sans-serif" font-weight="bold" font-size="17.5" fill="#fff" textLength="73.5" lengthAdjust="spacingAndGlyphs">200 μm</text>
<text transform="translate(78.8 1823.3) rotate(-90) translate(-132.1 0) scale(0.938 1)" font-size="33.4" fill="#0d0d0d">NON-CACHECTIC</text>
<text transform="translate(116.3 1820.7) rotate(-90) translate(-91.1 0) scale(0.941 1)" font-size="33.4" fill="#0d0d0d">MELANOMA</text>
<text transform="translate(545.9 1822.3) rotate(-90) translate(-132.5 0) scale(0.941 1)" font-size="33.4" fill="#0d0d0d">NON-CACHECTIC</text>
<text transform="translate(584.3 1892.6) rotate(-90) translate(-91.9 0) scale(0.949 1)" font-size="33.4" fill="#0d0d0d">MELANOMA</text>
<text transform="translate(584.3 1725.5) rotate(-90) translate(-60.4 0) scale(0.922 1)" font-size="33.4" fill="#0d0d0d">+rFibcd1</text>
<text transform="translate(1032.6 1825.4) rotate(-90) translate(-185.6 0) scale(0.935 1)" font-size="33.4" fill="#0d0d0d">CACHECTIC MELANOMA</text>
<text transform="translate(1475.4 1824.3) rotate(-90) translate(-174.7 0) scale(0.938 1)" font-size="33.4" fill="#0d0d0d">CACHETIC MELANOMA</text>
<text transform="translate(1512.3 1827.9) rotate(-90) translate(-60.5 0) scale(0.923 1)" font-size="33.4" fill="#0d0d0d">+rFibcd1</text>
<text transform="translate(-2.1 1671.2) scale(1.022 1)" font-size="69" font-weight="bold" stroke="#000" stroke-width="0.4">g</text>
</g>
<g id="panel-h">
<path d="M102.6 2314.4V2377.4M95.3 2314.4h14.6M95.3 2377.4h14.6M145.9 2300.3V2365.6M138.6 2300.3h14.6M138.6 2365.6h14.6M189.3 2301.8V2359.3M182 2301.8h14.6M182 2359.3h14.6M232.9 2284.2V2342M225.6 2284.2h14.6M225.6 2342h14.6M276.2 2280.1V2336.5M268.9 2280.1h14.6M268.9 2336.5h14.6M320 2276.5V2324.9M312.7 2276.5h14.6M312.7 2324.9h14.6M363.4 2254.4V2310.8M356.1 2254.4h14.6M356.1 2310.8h14.6M406.7 2245V2299.8M399.4 2245h14.6M399.4 2299.8h14.6M450.3 2256V2303.5M443 2256h14.6M443 2303.5h14.6M493.9 2254.1V2300.1M486.6 2254.1h14.6M486.6 2300.1h14.6" stroke="#3c3c3c" stroke-width="2.8" fill="none"/>
<path d="M102.6 2346.7L145.9 2332.1L189.3 2331L232.9 2313.6L276.2 2307.3L320 2300.5L363.4 2282.4L406.7 2272.5L450.3 2279.6L493.9 2277.3" stroke="#3c3c3c" stroke-width="2.9" fill="none" stroke-linejoin="round"/>
<path d="M102.6 2346.7h0M145.9 2332.1h0M189.3 2331h0M232.9 2313.6h0M276.2 2307.3h0M320 2300.5h0M363.4 2282.4h0M406.7 2272.5h0M450.3 2279.6h0M493.9 2277.3h0" stroke="#3c3c3c" stroke-width="11.8" stroke-linecap="round" fill="none"/>
<path d="M102.6 2318.4V2384.2M95.3 2318.4h14.6M95.3 2384.2h14.6M145.9 2303.7V2373.5M138.6 2303.7h14.6M138.6 2373.5h14.6M189.3 2304.2V2366.1M182 2304.2h14.6M182 2366.1h14.6M232.9 2299.5V2351.9M225.6 2299.5h14.6M225.6 2351.9h14.6M276.2 2297.1V2344M268.9 2297.1h14.6M268.9 2344h14.6M320 2278V2330.8M312.7 2278h14.6M312.7 2330.8h14.6M363.4 2276.8V2320.2M356.1 2276.8h14.6M356.1 2320.2h14.6M406.7 2264.3V2310M399.4 2264.3h14.6M399.4 2310h14.6M450.3 2257.6V2307.5M443 2257.6h14.6M443 2307.5h14.6M493.9 2263.9V2299.8M486.6 2263.9h14.6M486.6 2299.8h14.6" stroke="#2f8520" stroke-width="2.8" fill="none"/>
<path d="M102.6 2351.4L145.9 2338.4L189.3 2335.7L232.9 2326.7L276.2 2318.8L320 2304L363.4 2298.5L406.7 2286.7L450.3 2281.2L493.9 2282" stroke="#2f8520" stroke-width="2.9" fill="none" stroke-linejoin="round"/>
<path d="M102.6 2351.4h0M145.9 2338.4h0M189.3 2335.7h0M232.9 2326.7h0M276.2 2318.8h0M320 2304h0M363.4 2298.5h0M406.7 2286.7h0M450.3 2281.2h0M493.9 2282h0" stroke="#2f8520" stroke-width="11.8" stroke-linecap="round" fill="none"/>
<path d="M102.6 2308.5V2346.7M95.3 2308.5h14.6M95.3 2346.7h14.6M145.9 2295.2V2336.2M138.6 2295.2h14.6M138.6 2336.2h14.6M189.3 2304.7V2337.3M182 2304.7h14.6M182 2337.3h14.6M232.9 2292.4V2333.6M225.6 2292.4h14.6M225.6 2333.6h14.6M276.2 2287.7V2323.9M268.9 2287.7h14.6M268.9 2323.9h14.6M320 2295.4V2365.9M312.7 2295.4h14.6M312.7 2365.9h14.6M363.4 2273.6V2369.6M356.1 2273.6h14.6M356.1 2369.6h14.6M406.7 2284V2380M399.4 2284h14.6M399.4 2380h14.6M450.3 2321V2396.4M443 2321h14.6M443 2396.4h14.6M493.9 2346.8V2421.7M486.6 2346.8h14.6M486.6 2421.7h14.6" stroke="#1529f2" stroke-width="2.8" fill="none"/>
<path d="M102.6 2327.8L145.9 2315.2L189.3 2320.7L232.9 2313.3L276.2 2306.6L320 2330.3L363.4 2322.1L406.7 2331.9L450.3 2359.9L493.9 2384" stroke="#1529f2" stroke-width="2.9" fill="none" stroke-linejoin="round"/>
<path d="M102.6 2327.8h0M145.9 2315.2h0M189.3 2320.7h0M232.9 2313.3h0M276.2 2306.6h0M320 2330.3h0M363.4 2322.1h0M406.7 2331.9h0M450.3 2359.9h0M493.9 2384h0" stroke="#1529f2" stroke-width="11.8" stroke-linecap="round" fill="none"/>
<path d="M102.6 2319.5V2373M95.3 2319.5h14.6M95.3 2373h14.6M145.9 2302.6V2358.2M138.6 2302.6h14.6M138.6 2358.2h14.6M189.3 2310.2V2353.3M182 2310.2h14.6M182 2353.3h14.6M232.9 2303.4V2349.8M225.6 2303.4h14.6M225.6 2349.8h14.6M276.2 2289.2V2341.5M268.9 2289.2h14.6M268.9 2341.5h14.6M320 2265.4V2364.6M312.7 2265.4h14.6M312.7 2364.6h14.6M363.4 2259.5V2392.1M356.1 2259.5h14.6M356.1 2392.1h14.6M406.7 2280.4V2406.3M399.4 2280.4h14.6M399.4 2406.3h14.6M450.3 2291.9V2429.4M443 2291.9h14.6M443 2429.4h14.6M493.9 2304.5V2426.5M486.6 2304.5h14.6M486.6 2426.5h14.6" stroke="#ef8233" stroke-width="2.8" fill="none"/>
<path d="M102.6 2346.7L145.9 2330.2L189.3 2331.7L232.9 2326.2L276.2 2315.5L320 2315L363.4 2325.3L406.7 2343.4L450.3 2361L493.9 2365.4" stroke="#ef8233" stroke-width="2.9" fill="none" stroke-linejoin="round"/>
<path d="M102.6 2346.7h0M145.9 2330.2h0M189.3 2331.7h0M232.9 2326.2h0M276.2 2315.5h0M320 2315h0M363.4 2325.3h0M406.7 2343.4h0M450.3 2361h0M493.9 2365.4h0" stroke="#ef8233" stroke-width="11.8" stroke-linecap="round" fill="none"/>
<text transform="translate(366.8 2175.7) scale(1.096 1)" font-size="16.5">rFibcd1 or</text>
<text transform="translate(354.4 2193.8) scale(1.096 1)" font-size="16.5">BSA injection</text>
<path d="M348 2202.5L468.7 2202.5" stroke="#000" stroke-width="2.4"/>
<text transform="translate(351.6 2229.2) scale(0.673 1)" font-size="21.5">1</text>
<text transform="translate(361.7 2221.1)" font-size="14">st</text>
<text transform="translate(393.6 2229.2) scale(1.062 1)" font-size="21.5">2</text>
<text transform="translate(406.1 2221.1)" font-size="14">nd</text>
<text transform="translate(438 2229.2) scale(0.971 1)" font-size="21.5">3</text>
<text transform="translate(449.4 2221.1)" font-size="14">rd</text>
<text transform="translate(396.2 2429.7) scale(1.046 1)" font-size="26" font-weight="bold" fill="#e3132c" stroke="none">**</text>
<text transform="translate(338 2435.7) scale(1.020 1)" font-size="17" font-style="italic" stroke="#fff" stroke-width="0.22">P=0.0012</text>
<text transform="translate(419.5 2452.5) scale(1.117 1)" font-size="26" font-weight="bold" fill="#e3132c" stroke="none">****</text>
<text transform="translate(471.4 2448.9) scale(1.117 1)" font-size="26" font-weight="bold" fill="#e3132c" stroke="none">****</text>
<text transform="translate(434.8 2459.8) scale(1.020 1)" font-size="17" font-style="italic" stroke="#fff" stroke-width="0.22">P&lt;0.0001</text>
<path d="M84.5 2162.3V2467.2" stroke="#000" stroke-width="5" fill="none"/>
<path d="M84.5 2164.3H77M84.5 2239.4H77M84.5 2314.5H77M84.5 2389.6H77M84.5 2464.7H77" stroke="#000" stroke-width="4.4" fill="none"/>
<text transform="translate(43.9 2173.6) scale(0.965 1)" font-size="24" font-weight="bold" stroke="#000" stroke-width="0.4">35</text>
<text transform="translate(44.2 2248.7) scale(0.965 1)" font-size="24" font-weight="bold" stroke="#000" stroke-width="0.4">30</text>
<text transform="translate(43.9 2323.8) scale(0.965 1)" font-size="24" font-weight="bold" stroke="#000" stroke-width="0.4">25</text>
<text transform="translate(44.2 2398.9) scale(0.965 1)" font-size="24" font-weight="bold" stroke="#000" stroke-width="0.4">20</text>
<text transform="translate(43.9 2474) scale(0.965 1)" font-size="24" font-weight="bold" stroke="#000" stroke-width="0.4">15</text>
<path d="M82 2464.7H517.2" stroke="#000" stroke-width="5" fill="none"/>
<path d="M102.6 2464.7V2476.2M146.1 2464.7V2476.2M189.5 2464.7V2476.2M233 2464.7V2476.2M276.4 2464.7V2476.2M319.9 2464.7V2476.2M363.3 2464.7V2476.2M406.8 2464.7V2476.2M450.2 2464.7V2476.2M493.6 2464.7V2476.2" stroke="#000" stroke-width="4.6" fill="none"/>
<text transform="translate(108.1 2492) rotate(-45) translate(-11.6 0) scale(0.965 1)" font-size="23.4" font-weight="bold" stroke="#000" stroke-width="0.4">0</text>
<text transform="translate(151.6 2492) rotate(-45) translate(-11.6 0) scale(0.965 1)" font-size="23.4" font-weight="bold" stroke="#000" stroke-width="0.4">7</text>
<text transform="translate(195 2492) rotate(-45) translate(-25 0) scale(0.965 1)" font-size="23.4" font-weight="bold" stroke="#000" stroke-width="0.4">14</text>
<text transform="translate(238.5 2492) rotate(-45) translate(-24.5 0) scale(0.965 1)" font-size="23.4" font-weight="bold" stroke="#000" stroke-width="0.4">21</text>
<text transform="translate(281.9 2492) rotate(-45) translate(-24.3 0) scale(0.965 1)" font-size="23.4" font-weight="bold" stroke="#000" stroke-width="0.4">26</text>
<text transform="translate(325.4 2492) rotate(-45) translate(-24.3 0) scale(0.965 1)" font-size="23.4" font-weight="bold" stroke="#000" stroke-width="0.4">33</text>
<text transform="translate(368.8 2492) rotate(-45) translate(-24.3 0) scale(0.965 1)" font-size="23.4" font-weight="bold" stroke="#000" stroke-width="0.4">39</text>
<text transform="translate(412.2 2492) rotate(-45) translate(-24.5 0) scale(0.965 1)" font-size="23.4" font-weight="bold" stroke="#000" stroke-width="0.4">41</text>
<text transform="translate(455.7 2492) rotate(-45) translate(-24.3 0) scale(0.965 1)" font-size="23.4" font-weight="bold" stroke="#000" stroke-width="0.4">43</text>
<text transform="translate(499.1 2492) rotate(-45) translate(-24.5 0) scale(0.965 1)" font-size="23.4" font-weight="bold" stroke="#000" stroke-width="0.4">45</text>
<text transform="translate(122.4 2528.8) scale(0.994 1)" font-size="24.5" font-weight="bold" stroke="#000" stroke-width="0.4">Days after tumor implantation</text>
<text transform="translate(27.9 2315) rotate(-90) translate(-85.4 0) scale(0.858 1)" font-size="26" font-weight="bold" stroke="#000" stroke-width="0.4">Body Weight (g)</text>
<text transform="translate(-3.1 2165.7) scale(1.029 1)" font-size="68" font-weight="bold" stroke="#000" stroke-width="0.4">h</text>
</g>
<g id="panel-i">
<path d="M666.8 2239.3h0M719.4 2244.9h0M684.6 2251.3h0M701.1 2252.5h0M675.7 2266.5h0M710 2267.3h0M687.1 2272.9h0M698.6 2271.6h0M692.2 2258.9h0" stroke="#505050" stroke-width="11.6" stroke-linecap="round" fill="none"/>
<path d="M753.7 2244.9h0M790.1 2248.7h0M760.8 2256.4h0M781.2 2256.4h0M750.7 2262.7h0M792.6 2260.7h0M757 2266.5h0M776.1 2271.6h0M767.2 2274.2h0M785 2265.3h0" stroke="#2f8520" stroke-width="11.6" stroke-linecap="round" fill="none"/>
<path d="M860 2288.6h0M832.8 2302.6h0M841.7 2299.1h0M868.9 2302.6h0M850.6 2317.9h0M860 2331.9h0M841.7 2339.7h0" stroke="#1529f2" stroke-width="11.6" stroke-linecap="round" fill="none"/>
<path d="M929.4 2257.6h0M947.7 2305.2h0M911.6 2316.9h0M929.4 2323.7h0M938.8 2333.4h0M920.5 2344.8h0" stroke="#ef8233" stroke-width="11.6" stroke-linecap="round" fill="none"/>
<path d="M692.7 2246.9V2269.6M674.5 2246.9h36.4M674.5 2269.6h36.4M658.4 2258.1h68.6" stroke="#000" stroke-width="2.6" fill="none"/>
<path d="M771.8 2251.8V2269.8M753.6 2251.8h36.4M753.6 2269.8h36.4M737.5 2260.7h68.6" stroke="#000" stroke-width="2.6" fill="none"/>
<path d="M850.6 2293.2V2330.6M832.4 2293.2h36.4M832.4 2330.6h36.4M816.3 2311.5h68.6" stroke="#000" stroke-width="2.6" fill="none"/>
<path d="M929.4 2283.1V2344.1M911.2 2283.1h36.4M911.2 2344.1h36.4M895.1 2313.6h68.6" stroke="#000" stroke-width="2.6" fill="none"/>
<text transform="translate(813 2247.5) scale(1.016 1)" font-size="17" font-style="italic" stroke="#fff" stroke-width="0.22">P&lt;0.0001</text>
<text transform="translate(828.8 2277.4) scale(0.976 1)" font-size="29" font-weight="bold" fill="#e3132c" stroke="none">****</text>
<text transform="translate(886.7 2220) scale(1.027 1)" font-size="17" font-style="italic" stroke="#fff" stroke-width="0.22">P&lt;0.0001</text>
<text transform="translate(906.4 2248.6) scale(0.993 1)" font-size="29" font-weight="bold" fill="#e3132c" stroke="none">****</text>
<path d="M647.7 2162.1V2467.3" stroke="#000" stroke-width="5" fill="none"/>
<path d="M647.7 2164.4H637.5M647.7 2239.5H637.5M647.7 2314.6H637.5M647.7 2389.7H637.5M647.7 2464.8H637.5" stroke="#000" stroke-width="4.4" fill="none"/>
<text transform="translate(611.1 2173.7) scale(0.965 1)" font-size="24" font-weight="bold" stroke="#000" stroke-width="0.4">40</text>
<text transform="translate(611.1 2248.8) scale(0.965 1)" font-size="24" font-weight="bold" stroke="#000" stroke-width="0.4">30</text>
<text transform="translate(611.1 2323.9) scale(0.965 1)" font-size="24" font-weight="bold" stroke="#000" stroke-width="0.4">20</text>
<text transform="translate(611.1 2399) scale(0.965 1)" font-size="24" font-weight="bold" stroke="#000" stroke-width="0.4">10</text>
<text transform="translate(624 2474.1) scale(0.965 1)" font-size="24" font-weight="bold" stroke="#000" stroke-width="0.4">0</text>
<path d="M645.2 2464.8H969.8" stroke="#000" stroke-width="5" fill="none"/>
<path d="M692.7 2464.8V2476.3M771.8 2464.8V2476.3M850.6 2464.8V2476.3M929.4 2464.8V2476.3" stroke="#000" stroke-width="4.6" fill="none"/>
<text transform="translate(597.6 2315.8) rotate(-90) translate(-148 0) scale(0.935 1)" font-size="26" font-weight="bold" stroke="#000" stroke-width="0.4">Tumor free body mass (g)</text>
<text transform="translate(592.8 2155.9) scale(0.985 1)" font-size="66" font-weight="bold" stroke="#000" stroke-width="0.4">i</text>
</g>
<g id="panel-j">
<path d="M1130 2414.2h0M1121.1 2437.5h0M1148.1 2440.3h0M1139.2 2457.9h0M1121.1 2462.5h0" stroke="#505050" stroke-width="11.6" stroke-linecap="round" fill="none"/>
<path d="M1208.8 2424.8h0M1235 2440.3h0M1182.9 2449.7h0M1217.2 2451.5h0M1200.2 2456.1h0" stroke="#2f8520" stroke-width="11.6" stroke-linecap="round" fill="none"/>
<path d="M1287.6 2208.7h0M1287.6 2236.7h0M1287.6 2314.2h0M1287.6 2335.3h0M1269.3 2346h0M1305.7 2349.8h0M1287.6 2363.3h0" stroke="#1529f2" stroke-width="11.6" stroke-linecap="round" fill="none"/>
<path d="M1366.4 2257.3h0M1340 2332h0M1392.6 2340.4h0M1357.8 2343.5h0M1375.3 2343.5h0M1366.4 2373.5h0" stroke="#ef8233" stroke-width="11.6" stroke-linecap="round" fill="none"/>
<path d="M1130 2423.6V2461.9M1111.8 2423.6h36.4M1111.8 2461.9h36.4M1095.7 2442.6h68.6" stroke="#000" stroke-width="2.6" fill="none"/>
<path d="M1208.8 2432.5V2456.9M1190.6 2432.5h36.4M1190.6 2456.9h36.4M1174.5 2444.7h68.6" stroke="#000" stroke-width="2.6" fill="none"/>
<path d="M1287.6 2246.9V2368.4M1269.4 2246.9h36.4M1269.4 2368.4h36.4M1253.3 2307.6h68.6" stroke="#000" stroke-width="2.6" fill="none"/>
<path d="M1366.4 2292.6V2370.9M1348.2 2292.6h36.4M1348.2 2370.9h36.4M1332.1 2331.5h68.6" stroke="#000" stroke-width="2.6" fill="none"/>
<text transform="translate(1276.5 2135.8) scale(0.948 1)" font-size="15" font-weight="bold" stroke="none">not significant</text>
<path d="M1287.1 2152.3V2142.1H1367.2V2152.3" stroke="#000" stroke-width="4" fill="none"/>
<text transform="translate(1254.1 2170.8) scale(1.027 1)" font-size="17" font-style="italic" stroke="#fff" stroke-width="0.22">P=0.0001</text>
<text transform="translate(1273.5 2196.2) scale(0.967 1)" font-size="29" font-weight="bold" fill="#e3132c" stroke="none">***</text>
<text transform="translate(1325.2 2218.4) scale(1.015 1)" font-size="17" font-style="italic" stroke="#fff" stroke-width="0.22">P=0.0013</text>
<text transform="translate(1350.5 2244.5) scale(0.982 1)" font-size="29" font-weight="bold" fill="#e3132c" stroke="none">***</text>
<path d="M1085 2162V2466.7" stroke="#000" stroke-width="5" fill="none"/>
<path d="M1085 2164.2H1074.8M1085 2264.2H1074.8M1085 2364.2H1074.8M1085 2464.2H1074.8" stroke="#000" stroke-width="4.4" fill="none"/>
<text transform="translate(1061.2 2173.5) scale(0.965 1)" font-size="24" font-weight="bold" stroke="#000" stroke-width="0.4">3</text>
<text transform="translate(1061.3 2273.5) scale(0.965 1)" font-size="24" font-weight="bold" stroke="#000" stroke-width="0.4">2</text>
<text transform="translate(1060.9 2373.5) scale(0.965 1)" font-size="24" font-weight="bold" stroke="#000" stroke-width="0.4">1</text>
<text transform="translate(1061.3 2473.5) scale(0.965 1)" font-size="24" font-weight="bold" stroke="#000" stroke-width="0.4">0</text>
<path d="M1082.5 2464.2H1405.9" stroke="#000" stroke-width="5" fill="none"/>
<path d="M1130 2464.2V2475.7M1208.8 2464.2V2475.7M1287.6 2464.2V2475.7M1366.4 2464.2V2475.7" stroke="#000" stroke-width="4.6" fill="none"/>
<text transform="translate(1050.4 2316.6) rotate(-90) translate(-88.3 0) scale(0.919 1)" font-size="26" font-weight="bold" stroke="#000" stroke-width="0.4">Tumor mass (g)</text>
<text transform="translate(1036.4 2155.9) scale(1.030 1)" font-size="66" font-weight="bold" stroke="#000" stroke-width="0.4">j</text>
</g>
<g id="panel-k">
<rect x="1558.4" y="2218.1" width="80.5" height="29.4" fill="#dedede"/>
<rect x="1638.3" y="2218.1" width="82.1" height="29.4" fill="#e6e6e6"/>
<rect x="1719.8" y="2218.1" width="82.4" height="29.4" fill="#d4d4d4"/>
<rect x="1801.6" y="2218.1" width="81.3" height="29.4" fill="#dadada"/>
<rect x="1558.4" y="2246.8" width="80.5" height="30.4" fill="#d2d2d2"/>
<rect x="1638.3" y="2246.8" width="82.1" height="30.4" fill="#d6d6d6"/>
<rect x="1719.8" y="2246.8" width="82.4" height="30.4" fill="#d0d0d0"/>
<rect x="1801.6" y="2246.8" width="81.3" height="30.4" fill="#b4b4b4"/>
<rect x="1558.4" y="2276.7" width="80.5" height="29.9" fill="#8a8a8a"/>
<rect x="1638.3" y="2276.7" width="82.1" height="29.9" fill="#828282"/>
<rect x="1719.8" y="2276.7" width="82.4" height="29.9" fill="#a8a8a8"/>
<rect x="1801.6" y="2276.7" width="81.3" height="29.9" fill="#c4c4c4"/>
<rect x="1558.4" y="2306" width="80.5" height="30.7" fill="#f2f2f2"/>
<rect x="1638.3" y="2306" width="82.1" height="30.7" fill="#f2f2f2"/>
<rect x="1719.8" y="2306" width="82.4" height="30.7" fill="#f2f2f2"/>
<rect x="1801.6" y="2306" width="81.3" height="30.7" fill="#f2f2f2"/>
<rect x="1558.4" y="2336.1" width="80.5" height="30.4" fill="#f0f0f0"/>
<rect x="1638.3" y="2336.1" width="82.1" height="30.4" fill="#f0f0f0"/>
<rect x="1719.8" y="2336.1" width="82.4" height="30.4" fill="#f1f1f1"/>
<rect x="1801.6" y="2336.1" width="81.3" height="30.4" fill="#f0f0f0"/>
<rect x="1558.4" y="2365.9" width="80.5" height="30.2" fill="#efefef"/>
<rect x="1638.3" y="2365.9" width="82.1" height="30.2" fill="#f0f0f0"/>
<rect x="1719.8" y="2365.9" width="82.4" height="30.2" fill="#eeeeee"/>
<rect x="1801.6" y="2365.9" width="81.3" height="30.2" fill="#eeeeee"/>
<rect x="1558.4" y="2395.5" width="80.5" height="31" fill="#a2a2a2"/>
<rect x="1638.3" y="2395.5" width="82.1" height="31" fill="#acacac"/>
<rect x="1719.8" y="2395.5" width="82.4" height="31" fill="#aeaeae"/>
<rect x="1801.6" y="2395.5" width="81.3" height="31" fill="#ababab"/>
<rect x="1557.1" y="2216.8" width="327.1" height="210.8" fill="none" stroke="#000" stroke-width="3.5"/>
<path d="M1720.1 2216.8L1720.1 2427.6" stroke="#000" stroke-width="3.5"/>
<text transform="translate(1570.6 2241.8) scale(0.970 1)" font-size="22.5" fill="#111">79.31</text>
<text transform="translate(1652.6 2241.8) scale(0.970 1)" font-size="22.5" fill="#111">53.65</text>
<text transform="translate(1735.1 2241.8) scale(0.970 1)" font-size="22.5" fill="#111">119.8</text>
<text transform="translate(1816.2 2241.8) scale(0.970 1)" font-size="22.5" fill="#111">102.4</text>
<text transform="translate(1479.9 2241.8) scale(0.970 1)" font-size="22.8" font-weight="bold" stroke="#000" stroke-width="0.4">CXCL1</text>
<text transform="translate(1570.3 2271.1) scale(0.970 1)" font-size="22.5" fill="#111">135.2</text>
<text transform="translate(1653.1 2271.1) scale(0.970 1)" font-size="22.5" fill="#111">118.9</text>
<text transform="translate(1734.4 2271.1) scale(0.970 1)" font-size="22.5" fill="#111">141.7</text>
<text transform="translate(1816.5 2271.1) scale(0.970 1)" font-size="22.5" fill="#111">241.4</text>
<text transform="translate(1467.9 2271.1) scale(0.970 1)" font-size="22.8" font-weight="bold" stroke="#000" stroke-width="0.4">CXCL10</text>
<text transform="translate(1570.7 2300.4) scale(0.970 1)" font-size="22.5" fill="#111">399.1</text>
<text transform="translate(1652.9 2300.4) scale(0.970 1)" font-size="22.5" fill="#111">421.6</text>
<text transform="translate(1734.7 2300.4) scale(0.970 1)" font-size="22.5" fill="#111">290.7</text>
<text transform="translate(1816.4 2300.4) scale(0.970 1)" font-size="22.5" fill="#111">191.7</text>
<text transform="translate(1491.2 2300.4) scale(0.970 1)" font-size="22.8" font-weight="bold" stroke="#000" stroke-width="0.4">GCSF</text>
<text transform="translate(1576.6 2331) scale(0.970 1)" font-size="22.5" fill="#111">2.16</text>
<text transform="translate(1658.6 2331) scale(0.970 1)" font-size="22.5" fill="#111">2.21</text>
<text transform="translate(1740.7 2331) scale(0.970 1)" font-size="22.5" fill="#111">2.21</text>
<text transform="translate(1828.7 2331) scale(0.970 1)" font-size="22.5" fill="#111">2.3</text>
<text transform="translate(1520 2331) scale(0.970 1)" font-size="22.8" font-weight="bold" stroke="#000" stroke-width="0.4">IL4</text>
<text transform="translate(1571.1 2360.3) scale(0.970 1)" font-size="22.5" fill="#111">11.31</text>
<text transform="translate(1658.6 2360.3) scale(0.970 1)" font-size="22.5" fill="#111">9.86</text>
<text transform="translate(1746.8 2360.3) scale(0.970 1)" font-size="22.5" fill="#111">8.9</text>
<text transform="translate(1816.4 2360.3) scale(0.970 1)" font-size="22.5" fill="#111">10.81</text>
<text transform="translate(1520.4 2360.3) scale(0.970 1)" font-size="22.8" font-weight="bold" stroke="#000" stroke-width="0.4">IL5</text>
<text transform="translate(1570.3 2390.2) scale(0.970 1)" font-size="22.5" fill="#111">12.21</text>
<text transform="translate(1658.5 2390.2) scale(0.970 1)" font-size="22.5" fill="#111">7.04</text>
<text transform="translate(1734.2 2390.2) scale(0.970 1)" font-size="22.5" fill="#111">18.04</text>
<text transform="translate(1817.2 2390.2) scale(0.970 1)" font-size="22.5" fill="#111">15.11</text>
<text transform="translate(1520.6 2390.2) scale(0.970 1)" font-size="22.8" font-weight="bold" stroke="#000" stroke-width="0.4">IL6</text>
<text transform="translate(1570.6 2419.5) scale(0.970 1)" font-size="22.5" fill="#111">309.8</text>
<text transform="translate(1652.6 2419.5) scale(0.970 1)" font-size="22.5" fill="#111">270.9</text>
<text transform="translate(1734.7 2419.5) scale(0.970 1)" font-size="22.5" fill="#111">266.2</text>
<text transform="translate(1816.6 2419.5) scale(0.970 1)" font-size="22.5" fill="#111">274.8</text>
<text transform="translate(1508.4 2419.5) scale(0.970 1)" font-size="22.8" font-weight="bold" stroke="#000" stroke-width="0.4">IL13</text>
<text transform="translate(1478 2211.2) scale(0.922 1)" font-size="23.5" font-weight="bold" stroke="#000" stroke-width="0.4">+rFibcd1</text>
<text transform="translate(1597.6 2213.1)" font-size="27" font-weight="bold" stroke="#000" stroke-width="0.4">-</text>
<text transform="translate(1677.6 2213.1)" font-size="27" font-weight="bold" stroke="#000" stroke-width="0.4">+</text>
<text transform="translate(1760.9 2213.1)" font-size="27" font-weight="bold" stroke="#000" stroke-width="0.4">-</text>
<text transform="translate(1841.2 2213.1)" font-size="27" font-weight="bold" stroke="#000" stroke-width="0.4">+</text>
<text transform="translate(1570.6 2167.2) scale(0.918 1)" font-size="24.5" font-weight="bold" stroke="#000" stroke-width="0.4">non-cachectic</text>
<text transform="translate(1588.7 2188) scale(0.916 1)" font-size="24.5" font-weight="bold" stroke="#000" stroke-width="0.4">melanoma</text>
<text transform="translate(1754.9 2167.2) scale(0.939 1)" font-size="24.5" font-weight="bold" stroke="#000" stroke-width="0.4">cachectic</text>
<text transform="translate(1752 2188) scale(0.916 1)" font-size="24.5" font-weight="bold" stroke="#000" stroke-width="0.4">melanoma</text>
<text transform="translate(1688 2448.2) scale(1.023 1)" font-size="22.5">pg/mL</text>
<text transform="translate(1506.7 2157.9) scale(1.040 1)" font-size="67" font-weight="bold" stroke="#000" stroke-width="0.4">k</text>
</g>
</svg>
</body>
</html>
